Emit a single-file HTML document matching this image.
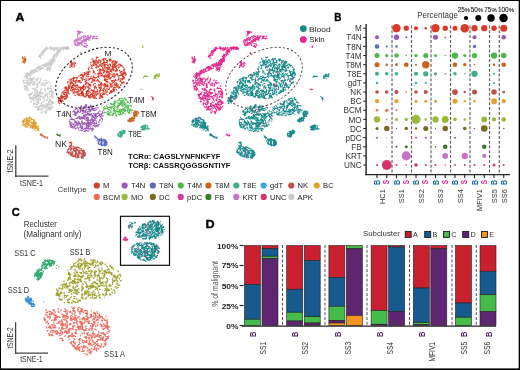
<!DOCTYPE html>
<html><head><meta charset="utf-8"><style>
html,body{margin:0;padding:0;background:#fff;}
svg{display:block;}
body{font-family:'Liberation Sans',sans-serif;width:520px;height:370px;overflow:hidden;}
</style></head><body>
<svg width="520" height="370" viewBox="0 0 520 370" style="will-change:transform;font-family:'Liberation Sans',sans-serif">
<rect width="520" height="370" fill="#fff"/>
<path d="M32.4 78.4h0M31.4 78.2h0M38.5 81.9h0M39.5 82.2h0M24.1 82.9h0M25.0 82.6h0M35.3 89.2h0M36.3 89.5h0M39.7 82.3h0M40.3 81.5h0M27.2 77.9h0M26.4 78.5h0M28.2 85.3h0M27.4 84.7h0M38.9 77.0h0M42.7 82.8h0M42.2 83.7h0M36.1 80.8h0M36.7 80.0h0M30.1 85.2h0M29.4 84.5h0M44.2 80.6h0M44.8 79.9h0M35.1 88.1h0M35.7 88.9h0M24.1 86.7h0M24.4 85.7h0M43.2 85.5h0M42.3 85.1h0M36.7 86.6h0M37.5 87.3h0M46.8 80.6h0M45.9 81.0h0M23.7 83.4h0M24.6 83.7h0M24.7 88.3h0M25.6 88.6h0M34.3 89.9h0M31.1 82.6h0M30.1 82.8h0M28.1 79.7h0M28.2 80.7h0M40.1 80.2h0M41.1 80.1h0M33.7 85.1h0M34.7 85.1h0M37.9 85.9h0M37.0 85.6h0M49.1 88.5h0M50.1 88.2h0M34.4 82.4h0M35.0 83.2h0M29.1 78.6h0M29.3 79.6h0M25.9 81.8h0M26.6 82.6h0M40.8 78.4h0M41.1 79.3h0M33.6 78.0h0M34.6 77.9h0M36.5 83.7h0M37.5 83.6h0M32.9 80.2h0M32.8 79.2h0M38.3 78.3h0M37.5 78.9h0M48.0 87.1h0M48.2 88.1h0M27.8 88.4h0M27.1 87.7h0M32.6 79.6h0M33.5 79.3h0M47.7 88.9h0M48.5 88.2h0M29.6 84.3h0M29.8 85.3h0M23.8 80.5h0M23.4 81.4h0M29.4 79.6h0M30.2 80.3h0M47.4 83.7h0M47.3 82.7h0M25.5 86.6h0M26.5 86.5h0M44.8 83.6h0M44.7 84.6h0M32.6 88.8h0M33.6 88.5h0M26.7 78.4h0M27.7 78.4h0M27.2 89.2h0M28.2 89.4h0M33.2 84.8h0M34.2 84.7h0M51.2 86.4h0M50.6 85.6h0M35.6 89.9h0M35.5 88.9h0M30.3 80.7h0M30.2 81.7h0M30.5 82.7h0M30.5 83.7h0M33.3 83.3h0M32.9 82.4h0M37.5 84.5h0M36.8 85.2h0M35.8 78.9h0M36.6 79.5h0M28.0 83.6h0M27.9 82.6h0M32.5 84.3h0M31.8 83.5h0M26.1 85.0h0M26.5 85.9h0M45.4 84.1h0M44.7 83.4h0M49.5 83.1h0M48.7 82.4h0M37.9 87.1h0M36.9 87.3h0M26.5 83.1h0M27.5 83.1h0M25.1 86.7h0M25.9 86.1h0M27.5 87.5h0M26.5 87.1h0M29.4 91.2h0M27.7 82.9h0M26.7 83.1h0M28.7 81.1h0M27.8 80.6h0M39.1 83.0h0M40.0 82.9h0M41.1 84.2h0M41.4 85.2h0M26.0 80.2h0M26.8 80.9h0M30.8 78.1h0M29.9 77.8h0M27.3 90.7h0M26.6 90.0h0M43.0 82.8h0M43.3 83.8h0M41.4 88.8h0M41.8 89.7h0M24.9 89.8h0M30.8 78.1h0M29.8 78.4h0M26.2 78.6h0M27.1 78.4h0M32.0 80.9h0M31.7 79.9h0M37.5 78.8h0M37.8 79.8h0M30.3 76.2h0M28.5 83.6h0M28.9 82.7h0M46.7 82.9h0M45.9 82.4h0M34.4 84.1h0M34.9 83.2h0M32.9 89.3h0M32.9 88.3h0M34.7 81.6h0M35.7 81.2h0M25.1 87.9h0M25.6 88.7h0M25.5 89.5h0M26.3 89.0h0M31.2 79.9h0M31.0 80.9h0M27.6 83.1h0M26.8 83.7h0M32.0 81.7h0M33.0 81.5h0M36.8 84.0h0M37.1 85.0h0M23.1 80.2h0M24.1 80.6h0M31.8 79.7h0M31.0 79.2h0M44.8 86.5h0M45.2 85.6h0" stroke="#CBCBCB" stroke-width="1.2" stroke-linecap="round"/>
<path d="M38.1 96.5h0M38.9 95.8h0M46.8 104.8h0M47.5 105.6h0M51.2 104.4h0M51.6 103.5h0M31.6 101.7h0M30.8 101.1h0M48.9 109.6h0M48.6 108.6h0M45.8 106.1h0M46.6 106.7h0M31.5 97.4h0M31.8 98.4h0M42.5 104.4h0M42.1 103.5h0M48.7 107.5h0M47.7 107.4h0M45.1 89.7h0M29.9 94.9h0M29.3 94.1h0M40.8 98.0h0M39.9 97.8h0M47.9 104.1h0M47.0 104.0h0M31.8 94.6h0M31.4 93.7h0M29.6 95.0h0M29.4 94.0h0M45.6 95.6h0M44.6 95.6h0M40.1 91.1h0M40.5 90.2h0M39.7 95.0h0M39.2 95.9h0M33.5 103.2h0M34.1 104.0h0M52.8 91.5h0M51.1 106.4h0M50.5 107.2h0M39.7 95.9h0M40.5 96.4h0M49.8 91.1h0M50.8 91.1h0M51.4 95.6h0M50.9 96.4h0M37.4 99.2h0M38.0 100.0h0M34.5 94.9h0M33.6 95.4h0M51.0 109.2h0M51.0 108.2h0M52.5 102.3h0M51.6 101.8h0M47.0 99.8h0M47.3 98.8h0M52.1 91.3h0M51.2 91.8h0M35.7 107.3h0M36.6 106.7h0M45.1 95.9h0M44.1 95.7h0M32.4 92.2h0M31.9 93.1h0M40.9 93.7h0M41.9 94.0h0M39.7 91.6h0M40.6 92.1h0M36.9 90.4h0M37.4 91.3h0M42.8 111.2h0M42.7 110.2h0M38.8 101.7h0M38.3 102.6h0M29.6 95.2h0M30.3 94.5h0M41.1 104.4h0M41.3 103.5h0M35.0 94.5h0M34.3 95.1h0M50.7 88.6h0M51.5 89.1h0M51.3 100.4h0M50.3 100.7h0M49.5 110.3h0M50.3 109.7h0M41.6 105.8h0M42.6 105.8h0M44.8 108.0h0M43.8 108.1h0M44.8 95.9h0M45.7 96.3h0M44.5 106.2h0M45.5 106.2h0M41.6 103.2h0M41.3 104.1h0M35.8 100.0h0M36.8 100.0h0M51.0 100.4h0M51.5 101.3h0M53.0 106.4h0M41.0 105.6h0M40.4 106.4h0M45.4 112.1h0M46.2 112.7h0M36.8 99.0h0M36.0 98.4h0M48.7 107.3h0M47.8 107.8h0M53.2 96.1h0M53.2 95.1h0M40.9 92.9h0M41.2 93.8h0M45.3 112.8h0M46.0 113.4h0M29.6 98.3h0M30.6 98.3h0M52.2 96.6h0M51.9 97.5h0M47.4 88.8h0M37.7 96.7h0M38.7 96.8h0M35.3 97.2h0M35.9 96.4h0M53.1 93.4h0M52.1 93.7h0M49.4 99.3h0M50.3 99.5h0M33.0 97.5h0M33.1 96.5h0M38.7 109.2h0M38.0 108.4h0M51.9 94.7h0M52.6 93.9h0M36.8 95.1h0M37.8 95.1h0M34.8 106.7h0M51.8 104.5h0M52.2 103.6h0M34.1 100.4h0M34.9 100.9h0M38.0 94.6h0M37.1 95.0h0M52.1 92.8h0M52.8 92.0h0M49.4 108.2h0M48.5 107.8h0M36.3 97.4h0M35.8 96.6h0M34.9 90.2h0M35.7 90.8h0M46.5 99.7h0M46.7 100.6h0M44.1 105.6h0M44.7 104.8h0M45.3 91.2h0M45.5 90.2h0M42.7 97.7h0M42.2 96.9h0M34.4 94.4h0M34.3 95.4h0M43.0 96.5h0M42.1 96.3h0M41.2 94.0h0M41.8 93.2h0M40.3 109.4h0M41.3 109.1h0M29.0 95.7h0M30.0 95.9h0M53.3 103.2h0M50.5 99.7h0M50.0 100.6h0M52.6 90.8h0M51.9 90.0h0M33.7 97.6h0M34.6 98.0h0M34.6 103.6h0M33.7 103.2h0M45.6 92.8h0M45.8 93.8h0M48.7 102.3h0M49.6 102.0h0M38.3 102.4h0M37.3 102.2h0M38.7 95.4h0M37.7 95.8h0M36.1 102.8h0M35.6 103.7h0M37.5 93.1h0M36.8 92.4h0M39.0 109.4h0M38.0 109.3h0M40.0 92.2h0M41.0 92.4h0M44.7 111.7h0M45.4 112.4h0M37.6 101.2h0M38.5 101.7h0M41.6 112.2h0M42.3 112.8h0M52.1 98.1h0M53.0 97.7h0M49.4 92.2h0M49.2 91.2h0M38.5 110.1h0M38.4 109.1h0M33.7 98.4h0M32.7 98.5h0M31.2 94.4h0M31.7 93.6h0M47.7 89.0h0M43.6 102.4h0M42.7 101.9h0M38.9 103.2h0M37.9 103.4h0M39.6 99.4h0M40.6 99.8h0M40.7 94.1h0M41.3 93.3h0M39.9 92.7h0M39.3 93.5h0M31.3 99.2h0M32.2 99.7h0M44.5 90.1h0M44.9 89.2h0M41.3 89.4h0M40.3 89.6h0M52.7 91.6h0M47.0 109.3h0M46.5 110.1h0M51.8 92.3h0M52.7 91.8h0M29.7 97.2h0M29.2 96.3h0M51.3 95.2h0M51.1 94.2h0M41.1 112.0h0M41.7 112.8h0M41.2 96.3h0M42.1 96.0h0M45.7 111.4h0M45.7 112.4h0M31.0 101.9h0M50.7 102.5h0M50.3 101.6h0M44.4 98.3h0M44.3 97.3h0M53.8 103.1h0M52.8 103.5h0M39.5 92.6h0M38.7 92.0h0M49.3 94.6h0M49.5 93.6h0M43.2 105.3h0M43.7 106.2h0M44.0 99.3h0M43.3 98.6h0M31.4 93.9h0M30.4 93.8h0M30.8 97.3h0M30.8 98.3h0M43.3 93.3h0M42.6 92.7h0M34.3 91.9h0M35.0 92.6h0M50.7 108.4h0M50.1 109.3h0M42.6 97.1h0M41.9 96.4h0M52.4 107.1h0M51.7 107.9h0M38.6 94.2h0M39.2 95.0h0M52.5 91.7h0M52.6 92.7h0M41.2 104.7h0M41.0 103.8h0M36.0 95.8h0M36.6 96.7h0M48.4 106.7h0M49.1 107.3h0M47.4 100.1h0M47.2 99.2h0M36.7 107.6h0M37.0 106.6h0M46.5 94.9h0M45.5 94.7h0M48.5 101.7h0M48.2 102.6h0M53.1 93.7h0M53.0 92.7h0M34.8 94.2h0M35.5 93.4h0M47.4 96.5h0M47.9 95.7h0M44.4 106.1h0M44.7 105.1h0M40.2 109.9h0M40.5 109.0h0M39.4 106.9h0M38.4 106.8h0M33.5 104.3h0M33.8 105.2h0M37.0 91.7h0M37.8 91.1h0M46.0 104.5h0M46.1 103.5h0M37.4 109.3h0M38.4 108.9h0M30.8 93.4h0M31.8 93.2h0M50.0 109.2h0M49.9 108.2h0M44.4 95.5h0M45.4 95.4h0M47.7 93.4h0M47.4 94.3h0M28.5 94.7h0M37.6 96.4h0M38.5 96.2h0M50.1 104.1h0M51.1 104.2h0M39.3 108.2h0M38.5 108.7h0M42.0 93.7h0M42.0 92.7h0M49.3 92.4h0M50.2 91.9h0M40.8 108.8h0M41.2 109.7h0M37.0 109.7h0M35.4 93.6h0M35.1 92.7h0M46.1 108.5h0M45.3 108.0h0M38.4 98.3h0M38.6 97.3h0M51.1 88.7h0M51.7 89.4h0M51.4 101.1h0M50.4 101.1h0M34.1 100.0h0M33.3 99.4h0M47.6 104.9h0M47.3 105.8h0M45.2 107.4h0M45.8 108.2h0M48.1 103.1h0M48.9 103.8h0M51.0 94.2h0M51.7 95.0h0M46.3 110.0h0M47.2 110.4h0M34.4 96.5h0M33.5 97.0h0M36.5 92.9h0M37.5 93.2h0M30.6 98.0h0M31.6 98.4h0M47.1 99.4h0M47.2 100.3h0M30.8 93.4h0M30.7 94.4h0M38.4 108.6h0M38.0 107.7h0M44.4 100.1h0M44.9 101.0h0M38.5 107.3h0M39.3 106.7h0M42.9 107.6h0M42.4 108.4h0M46.8 111.0h0M47.3 110.1h0M50.2 105.7h0M49.5 105.0h0M36.1 104.4h0M37.0 104.9h0M48.3 106.6h0M47.4 106.3h0M39.0 99.9h0M38.2 99.3h0M45.6 112.3h0M45.7 113.3h0M48.2 98.1h0M47.5 97.4h0M52.5 101.6h0M53.2 102.2h0M42.1 106.7h0M41.1 106.4h0M49.6 101.6h0M48.6 101.4h0M38.2 107.9h0M38.1 108.9h0M35.1 98.4h0M36.1 98.4h0M38.9 106.2h0M38.7 107.2h0M52.4 101.8h0M52.1 102.7h0M38.2 93.5h0M38.4 94.5h0M49.0 104.6h0M48.1 104.6h0M37.2 104.7h0M38.0 104.1h0M40.2 95.7h0M39.2 96.0h0M49.7 97.3h0M49.9 96.3h0M37.8 94.6h0M37.3 95.5h0M35.3 94.4h0M35.0 95.4h0" stroke="#CBCBCB" stroke-width="1.2" stroke-linecap="round"/>
<path d="M84.3 41.8h0M83.6 41.1h0M75.1 45.0h0M76.1 44.9h0M77.2 45.0h0M76.2 45.1h0M79.5 44.1h0M79.5 45.1h0M78.6 42.7h0M77.8 42.1h0M84.5 45.9h0M83.5 46.0h0M79.5 33.4h0M78.8 34.1h0M85.8 39.4h0M85.2 38.6h0M85.3 40.5h0M85.3 39.5h0M83.0 38.1h0M83.5 37.2h0M74.4 41.3h0M74.8 40.4h0M86.3 39.2h0M86.4 38.2h0M82.1 45.6h0M86.7 44.0h0M87.0 45.0h0M84.1 40.4h0M84.2 39.4h0M94.1 37.8h0M93.2 38.2h0M86.2 47.5h0M86.1 46.5h0M81.9 36.4h0M81.4 37.3h0M74.7 43.2h0M75.5 42.6h0M90.2 38.7h0M89.6 37.9h0M78.2 31.6h0M79.0 31.0h0M89.9 37.2h0M90.7 36.7h0M81.2 38.1h0M80.9 39.1h0M75.0 40.6h0M76.0 40.2h0M96.4 38.5h0M97.4 38.4h0M77.4 31.3h0M78.4 31.6h0M75.9 45.7h0M76.9 45.6h0M74.9 44.1h0M75.3 43.2h0M85.1 46.8h0M74.1 42.0h0M81.4 43.3h0M81.3 44.3h0M82.8 40.7h0M81.8 40.8h0M77.3 44.5h0M76.5 45.0h0M89.3 38.1h0M88.3 38.3h0M87.7 35.9h0M88.0 36.9h0M81.9 41.2h0M82.8 41.7h0M88.5 36.2h0M87.6 36.0h0M83.0 42.6h0M82.8 41.6h0M93.6 35.8h0M84.1 40.9h0M85.0 40.5h0M87.8 35.6h0M82.3 32.4h0M81.6 31.7h0M78.7 43.7h0M79.3 42.9h0M80.0 43.7h0M80.2 42.7h0M75.9 44.6h0M75.5 43.7h0M85.5 41.0h0M86.3 41.6h0M78.2 42.8h0M77.4 43.5h0M83.6 39.7h0M84.6 39.9h0M76.3 41.7h0M75.9 40.8h0M88.5 36.8h0M87.7 37.5h0M92.9 38.2h0M93.9 38.3h0M80.0 31.6h0M80.7 32.3h0M87.5 45.7h0M86.6 45.2h0M88.5 37.7h0M88.5 38.7h0M80.1 40.5h0M80.2 39.5h0M90.2 37.6h0M89.7 38.4h0M79.2 31.7h0M79.4 32.6h0M90.4 36.0h0M80.0 33.1h0M79.3 33.8h0M79.6 33.4h0M78.6 33.2h0M77.2 38.6h0M77.3 39.5h0M84.9 36.7h0M85.3 35.8h0M79.2 32.0h0M77.3 45.7h0M77.5 35.6h0M77.8 34.6h0M77.8 39.3h0M76.9 39.7h0M85.5 35.8h0M86.0 36.7h0M91.6 36.0h0M93.6 36.8h0M94.6 36.7h0M78.3 38.4h0M78.8 37.5h0M78.1 44.0h0M77.4 43.3h0M88.7 39.4h0M89.1 40.3h0M78.7 32.1h0M78.4 31.1h0M93.7 36.7h0M94.7 36.3h0M96.2 39.1h0M96.5 38.1h0M78.3 45.1h0M82.9 41.1h0M83.9 41.1h0M84.7 39.7h0M85.1 40.6h0M81.6 43.0h0M80.7 43.3h0M86.4 40.0h0M85.6 40.6h0M78.2 32.7h0M77.7 33.6h0M74.1 41.1h0M85.9 39.5h0M86.4 40.3h0M77.3 40.7h0M76.8 39.9h0M83.3 38.1h0M83.9 37.3h0M92.9 36.7h0M93.2 37.7h0M75.0 39.7h0M75.9 40.2h0M79.9 38.1h0M79.0 37.6h0M84.4 39.5h0M85.3 39.0h0M90.5 35.6h0M86.6 38.3h0M87.3 37.7h0M81.2 41.9h0M81.8 42.7h0M80.3 38.9h0M79.4 39.3h0M81.0 37.9h0M81.2 38.8h0M75.9 40.2h0M76.6 39.5h0M78.7 43.0h0M77.7 43.2h0M88.8 38.9h0M88.9 39.9h0M79.2 39.7h0M78.3 40.2h0M87.4 39.3h0M86.6 39.8h0M81.0 44.0h0M82.0 44.3h0M95.2 38.4h0M96.2 38.6h0M84.6 43.4h0M85.5 43.6h0M77.5 36.7h0M92.5 39.0h0M93.0 38.2h0M86.0 47.3h0M85.0 47.0h0M88.7 37.4h0M87.8 37.8h0M91.6 36.0h0M90.7 36.5h0M83.2 36.4h0M84.0 35.8h0M86.0 38.5h0M86.7 39.2h0M77.3 40.7h0M76.3 41.0h0M96.4 36.5h0M97.4 36.1h0M84.2 46.4h0M85.0 45.7h0M87.7 39.4h0M88.7 39.4h0M86.5 39.7h0M85.9 38.9h0M82.5 41.1h0M81.5 41.2h0" stroke="#C772C4" stroke-width="1.2" stroke-linecap="round"/>
<path d="M66.5 48.1h0M67.5 48.5h0M65.3 48.2h0M64.9 47.3h0M67.8 48.0h0M66.9 48.1h0M68.0 47.5h0M67.3 46.8h0" stroke="#C772C4" stroke-width="1.2" stroke-linecap="round"/>
<path d="M80.3 53.0h0M81.2 53.4h0M80.8 52.3h0" stroke="#C772C4" stroke-width="1.2" stroke-linecap="round"/>
<path d="M26.0 59.1h0M24.3 59.7h0M25.1 60.3h0M24.8 60.4h0M23.8 60.4h0M24.9 56.3h0M23.4 61.0h0M24.3 60.7h0M25.8 60.3h0M24.9 59.8h0M24.2 60.0h0M23.9 61.0h0M24.6 59.0h0M25.6 59.1h0M22.5 57.2h0M24.8 61.9h0M25.6 61.4h0M25.5 58.4h0M25.0 57.5h0M22.8 57.9h0M23.0 58.9h0M24.6 58.5h0M23.8 59.0h0M24.6 63.0h0M23.4 62.6h0M23.5 61.6h0M24.7 63.0h0M24.0 62.3h0M23.1 58.8h0M22.4 58.1h0M23.4 62.4h0M22.5 62.0h0M23.1 57.3h0M23.0 58.3h0" stroke="#CA6320" stroke-width="1.2" stroke-linecap="round"/>
<path d="M124.7 68.8h0M123.8 69.1h0M98.8 72.8h0M98.6 73.8h0M74.5 91.3h0M74.3 92.3h0M106.5 70.9h0M106.7 71.9h0M116.6 61.9h0M115.7 61.6h0M114.9 63.2h0M114.0 63.7h0M89.5 96.9h0M89.0 97.8h0M97.1 66.1h0M96.5 66.9h0M109.0 67.5h0M109.9 67.0h0M89.0 66.9h0M97.6 79.4h0M97.0 80.2h0M90.0 84.2h0M89.8 85.2h0M117.6 70.0h0M116.6 69.7h0M100.5 71.8h0M99.5 72.1h0M109.6 68.4h0M108.6 68.3h0M107.4 84.5h0M107.0 85.4h0M106.2 86.0h0M105.6 86.8h0M88.0 83.0h0M88.9 83.5h0M85.6 83.4h0M85.4 84.4h0M101.0 86.7h0M101.0 87.7h0M107.7 71.2h0M108.5 71.8h0M113.2 68.6h0M113.8 69.4h0M103.2 58.5h0M103.8 59.2h0M114.1 65.4h0M115.0 65.3h0M72.3 85.8h0M71.3 86.0h0M116.3 68.4h0M116.5 69.3h0M92.3 95.8h0M92.4 94.8h0M116.3 83.0h0M115.9 83.9h0M108.5 74.6h0M107.9 73.8h0M74.8 88.7h0M75.6 89.2h0M114.9 67.5h0M114.5 66.6h0M104.9 79.5h0M105.7 80.2h0M88.4 73.9h0M89.0 74.7h0M75.3 86.3h0M74.5 85.8h0M81.5 78.2h0M80.6 77.8h0M100.5 70.6h0M101.0 69.7h0M112.2 63.6h0M111.9 62.7h0M94.5 88.8h0M94.3 87.8h0M108.7 75.4h0M109.7 75.8h0M72.2 86.8h0M73.2 86.8h0M73.6 77.1h0M73.1 78.0h0M121.6 83.7h0M121.7 82.7h0M105.8 67.1h0M106.5 67.9h0M116.9 69.0h0M117.1 70.0h0M77.2 89.6h0M78.0 89.0h0M116.1 70.0h0M115.3 70.7h0M89.1 91.6h0M89.8 92.2h0M100.8 83.0h0M101.5 82.3h0M84.9 81.0h0M85.6 81.8h0M78.5 87.0h0M79.3 87.6h0M92.4 68.5h0M91.4 68.5h0M87.2 75.0h0M87.3 74.0h0M84.7 75.2h0M83.7 75.1h0M86.4 75.9h0M87.2 76.5h0M124.1 82.7h0M123.7 81.7h0M107.2 82.2h0M106.8 83.1h0M123.6 76.8h0M122.8 76.3h0M87.5 93.9h0M88.5 93.5h0M107.4 75.4h0M108.1 76.1h0M98.6 80.3h0M98.4 81.3h0M77.9 94.1h0M77.0 94.4h0M118.2 67.2h0M119.0 67.8h0M82.1 77.1h0M81.1 77.3h0M101.1 61.3h0M100.1 61.0h0M118.3 79.7h0M118.6 78.8h0M109.9 60.8h0M110.2 59.9h0M100.5 89.2h0M100.7 90.2h0M102.4 65.5h0M101.7 66.3h0M92.4 94.0h0M92.3 93.0h0M100.5 95.2h0M100.7 94.2h0M111.3 70.9h0M111.7 70.0h0M116.1 61.7h0M115.1 62.0h0M69.8 82.0h0M70.5 82.6h0M114.7 61.3h0M115.7 61.1h0M93.6 91.9h0M92.7 92.1h0M114.6 64.3h0M113.6 64.4h0M107.9 72.6h0M107.9 73.6h0M99.1 85.6h0M100.0 85.2h0M76.1 77.7h0M77.1 77.4h0M115.6 85.2h0M114.9 85.8h0M76.6 92.2h0M75.6 92.2h0M103.4 59.7h0M103.4 60.7h0M120.1 81.4h0M121.1 81.1h0M88.6 76.2h0M88.0 77.1h0M94.4 98.1h0M95.3 97.8h0M106.9 68.0h0M106.8 69.0h0M82.7 80.5h0M82.2 79.7h0M100.4 89.0h0M101.3 88.7h0M104.7 83.3h0M104.4 84.2h0M85.2 88.7h0M85.1 87.7h0M104.8 71.3h0M103.8 71.1h0M118.8 75.6h0M117.8 75.8h0M85.5 87.2h0M85.0 86.3h0M87.4 95.4h0M86.4 95.6h0M77.8 81.0h0M78.7 80.7h0M113.0 74.6h0M113.0 73.6h0M95.9 94.4h0M96.2 95.4h0M83.1 86.2h0M83.4 87.2h0M79.1 81.9h0M79.9 81.4h0M78.8 87.5h0M79.8 87.4h0M71.9 90.7h0M72.4 89.8h0M99.0 93.4h0M99.1 92.4h0M111.6 83.9h0M110.6 84.2h0M104.3 70.6h0M103.3 70.5h0M82.4 76.1h0M83.1 76.8h0M100.6 98.2h0M110.1 70.4h0M111.1 70.4h0M75.6 88.9h0M76.1 89.8h0M92.3 79.2h0M91.4 78.6h0M102.8 70.5h0M102.3 69.6h0M109.3 88.7h0M109.1 87.7h0M106.0 89.2h0M105.0 89.2h0M80.7 88.4h0M81.7 88.1h0M122.8 71.9h0M123.8 72.3h0M113.3 66.7h0M114.3 66.6h0M104.9 71.0h0M105.1 70.1h0M86.4 94.6h0M86.8 95.5h0M71.1 83.7h0M70.1 83.7h0M70.8 80.3h0M69.8 80.1h0M123.1 83.0h0M82.7 74.8h0M83.3 75.6h0M112.1 83.6h0M111.2 84.0h0M80.0 80.5h0M80.0 81.5h0M118.7 67.8h0M119.2 66.9h0M95.9 94.1h0M96.2 95.1h0M102.6 75.6h0M102.2 74.7h0M79.6 93.8h0M78.7 94.2h0M118.3 64.2h0M119.3 64.2h0M76.1 87.6h0M77.1 87.6h0M107.6 60.3h0M106.7 60.6h0M109.6 93.7h0M110.2 92.9h0M81.1 89.9h0M80.2 89.6h0M97.1 66.3h0M96.7 67.2h0M85.9 93.6h0M86.7 94.2h0M77.8 85.4h0M78.0 86.4h0M96.8 61.2h0M96.2 62.0h0M121.6 71.2h0M121.0 72.1h0M119.5 87.4h0M105.9 79.5h0M105.1 78.9h0M109.7 73.3h0M109.4 74.3h0M124.8 72.8h0M124.2 73.6h0M67.5 82.2h0M68.1 81.4h0M103.4 72.4h0M103.9 73.2h0M74.1 92.1h0M74.9 91.5h0M70.1 85.8h0M69.5 86.5h0M99.7 69.8h0M100.2 68.9h0M111.4 92.5h0M110.4 92.3h0M104.5 87.9h0M103.5 88.2h0M90.5 78.7h0M89.8 78.0h0M104.4 79.4h0M104.4 80.4h0M82.9 94.8h0M81.9 94.6h0M98.1 76.6h0M98.8 77.3h0M122.1 78.8h0M121.1 78.6h0M115.4 66.6h0M115.3 67.6h0M94.4 83.5h0M95.4 83.5h0M88.3 90.4h0M87.3 90.3h0M93.8 76.7h0M93.3 75.8h0M107.5 72.0h0M106.5 72.3h0M89.1 70.9h0M89.2 71.9h0M79.1 80.6h0M80.1 80.4h0M109.7 68.1h0M109.7 69.1h0M104.9 92.7h0M105.3 93.6h0M114.1 82.6h0M114.2 83.6h0M93.4 72.0h0M93.3 73.0h0M105.6 90.7h0M105.1 91.6h0M101.5 95.5h0M101.0 96.4h0M109.3 72.2h0M108.6 71.5h0M71.4 88.4h0M70.6 89.1h0M96.6 94.5h0M95.9 93.8h0M102.3 76.0h0M101.4 75.7h0M91.8 76.5h0M90.8 76.9h0M97.5 91.3h0M97.4 90.3h0M107.4 79.9h0M108.0 79.1h0M71.8 91.0h0M72.8 90.9h0M111.8 80.3h0M112.6 80.9h0M109.3 76.9h0M110.1 77.5h0M91.9 81.1h0M92.8 80.7h0M82.3 92.7h0M81.4 92.4h0M92.1 58.7h0M70.3 79.2h0M69.6 79.9h0M114.6 65.0h0M115.6 64.6h0M98.8 73.8h0M97.8 73.7h0M83.4 90.1h0M82.8 90.9h0M114.7 81.5h0M113.8 81.0h0M93.5 93.6h0M94.5 93.8h0M105.0 58.6h0M102.5 64.1h0M103.4 63.7h0M114.6 77.5h0M114.4 76.5h0M116.8 62.7h0M117.3 61.8h0M120.8 85.4h0M116.7 68.9h0M116.7 69.9h0M86.1 80.2h0M85.9 81.1h0M86.4 92.0h0M86.5 93.0h0M125.2 73.0h0M105.1 65.9h0M104.2 66.4h0M107.4 61.3h0M107.2 60.3h0M122.8 78.7h0M122.8 79.7h0M111.6 77.5h0M112.0 76.5h0M95.9 93.0h0M95.1 92.3h0M83.3 94.2h0M83.4 93.2h0M102.6 97.3h0M101.7 97.5h0M106.1 58.6h0M105.6 59.5h0M81.8 87.8h0M81.8 88.8h0M100.3 60.5h0M99.6 59.8h0M102.5 76.0h0M103.4 76.2h0M73.0 83.8h0M73.5 84.6h0M88.1 72.3h0M87.2 71.9h0M86.8 92.0h0M87.5 91.3h0M94.9 63.4h0M93.9 63.2h0M91.1 65.1h0M92.0 65.4h0M118.8 77.7h0M118.8 76.7h0M123.0 77.1h0M123.4 76.2h0M108.0 66.2h0M107.4 65.4h0M101.4 66.4h0M101.0 65.5h0M109.3 59.1h0M109.1 60.1h0M103.8 85.7h0M103.9 84.7h0M115.2 76.0h0M115.4 75.0h0M122.9 73.9h0M122.6 74.9h0M81.7 87.5h0M80.8 87.0h0M95.6 77.5h0M96.6 77.4h0M104.9 64.9h0M104.7 63.9h0M113.8 60.4h0M107.0 88.0h0M107.2 89.0h0M111.3 91.6h0M111.8 90.7h0M93.0 91.3h0M93.7 90.7h0M84.9 97.1h0M84.4 96.2h0M113.8 67.1h0M113.9 66.1h0M78.9 75.8h0M79.0 76.8h0M121.0 85.4h0M120.5 84.5h0M113.6 90.0h0M114.0 89.1h0M116.1 73.6h0M116.8 74.4h0M116.7 70.8h0M116.3 69.9h0M96.2 57.2h0M96.5 58.1h0M88.1 92.1h0M87.2 91.8h0M108.7 75.2h0M108.7 74.2h0M74.3 85.3h0M75.0 86.1h0M123.9 71.8h0M123.4 72.7h0M103.3 94.2h0M102.5 94.8h0M123.8 77.9h0M124.6 77.3h0M116.4 63.3h0M115.6 64.0h0M94.1 90.7h0M94.4 91.6h0M73.2 79.8h0M73.8 79.1h0M89.5 95.7h0M90.4 95.3h0M71.7 82.8h0M70.8 82.4h0M88.6 84.4h0M87.8 83.8h0M98.1 85.1h0M98.9 84.5h0M88.7 97.7h0M107.7 80.0h0M106.7 79.9h0M120.0 87.3h0M119.2 86.6h0M75.8 81.3h0M74.8 81.6h0M90.4 88.0h0M89.8 88.8h0M84.4 79.5h0M83.5 79.1h0M105.6 90.5h0M105.0 89.7h0M108.1 68.2h0M108.5 69.1h0M116.1 90.0h0M97.7 93.5h0M97.9 94.5h0M89.9 97.3h0M90.6 96.6h0M85.5 96.3h0M86.1 97.1h0M93.1 61.1h0M93.3 62.1h0M90.0 97.2h0M90.4 98.1h0M121.0 75.5h0M121.7 74.8h0M113.3 69.8h0M113.4 70.8h0M95.0 80.1h0M94.7 79.2h0M88.7 95.2h0M87.7 95.4h0M104.5 67.5h0M103.9 66.7h0M116.1 80.4h0M115.1 80.5h0M71.3 79.6h0M71.7 78.7h0M91.6 90.6h0M92.6 90.9h0M104.7 85.7h0M104.7 84.7h0M87.4 73.1h0M87.5 72.1h0M78.2 93.3h0M77.2 93.0h0M106.8 94.5h0M107.7 95.1h0M96.9 92.5h0M96.6 91.5h0M116.8 62.9h0M116.8 61.9h0M96.8 94.4h0M97.8 94.2h0M115.8 83.9h0M115.9 82.9h0M108.9 86.2h0M107.9 85.9h0M71.2 82.0h0M71.2 81.0h0M72.8 85.0h0M73.7 85.4h0M88.5 86.0h0M89.0 86.9h0M104.5 62.4h0M105.0 63.2h0M93.6 79.9h0M94.3 80.7h0M104.5 70.9h0M103.9 71.7h0M80.1 90.0h0M79.8 90.9h0M115.1 79.2h0M115.8 79.8h0M92.3 59.2h0M101.8 73.4h0M100.9 73.2h0M80.6 93.1h0M81.5 93.6h0M124.1 70.4h0M124.8 69.6h0M95.5 62.1h0M94.5 62.1h0M109.1 75.7h0M109.1 76.7h0M110.8 78.3h0M110.2 79.1h0M108.9 64.8h0M108.7 65.8h0M109.8 59.1h0M110.7 59.6h0M118.3 87.0h0M117.4 86.6h0M94.1 60.8h0M95.1 60.9h0M113.2 76.4h0M114.0 77.0h0M114.2 76.6h0M114.0 75.6h0M73.6 80.3h0M72.8 80.7h0M79.9 81.2h0M79.9 82.2h0M116.4 89.7h0M119.8 79.0h0M120.8 79.2h0M104.2 93.9h0M103.2 93.7h0M120.8 72.6h0M121.5 73.4h0M94.2 81.2h0M93.8 80.3h0M71.2 87.1h0M72.2 87.4h0M90.9 84.9h0M90.7 85.9h0M108.2 76.4h0M108.1 77.4h0M102.7 59.1h0M101.9 59.8h0M113.9 91.3h0M113.6 90.3h0M81.4 95.8h0M122.3 83.5h0M122.9 82.6h0M112.0 60.9h0M113.0 61.1h0M78.3 90.6h0M78.8 91.4h0M73.5 89.7h0M74.5 89.8h0M100.1 91.2h0M99.1 90.9h0M102.4 90.2h0M103.3 89.9h0M99.5 68.8h0M99.5 69.8h0M94.3 61.7h0M93.4 61.3h0M92.6 61.2h0M93.6 61.1h0M110.4 92.4h0M110.3 91.4h0M89.0 69.3h0M88.4 68.4h0M103.1 97.8h0M102.4 97.1h0M108.2 81.8h0M107.2 81.7h0M91.3 82.3h0M92.3 82.2h0M116.8 86.7h0M117.6 87.2h0M117.5 74.7h0M117.7 73.7h0M123.0 75.1h0M122.4 74.4h0M93.4 97.9h0M93.6 96.9h0M112.3 91.8h0M80.9 93.9h0M81.6 93.2h0M112.8 89.2h0M113.8 89.0h0M98.7 60.9h0M98.8 59.9h0M104.3 72.0h0M103.8 71.1h0M76.7 78.9h0M76.2 78.1h0M122.7 73.7h0M123.7 73.5h0M82.6 86.7h0M83.4 86.1h0M93.1 85.5h0M93.5 84.6h0M68.8 85.7h0M69.5 86.4h0M102.2 84.2h0M101.6 83.4h0M73.9 77.3h0M74.9 77.5h0M83.4 89.0h0M84.3 89.4h0M85.1 73.8h0M84.7 72.9h0M110.3 60.5h0M111.1 59.9h0M116.3 66.0h0M117.2 65.7h0M106.9 68.2h0M107.8 67.7h0M106.2 81.3h0M105.3 80.8h0M125.4 72.7h0M124.9 71.8h0M88.7 87.0h0M88.9 88.0h0M98.2 61.2h0M97.7 62.1h0M84.1 72.6h0M89.9 71.9h0M89.1 71.4h0M70.2 84.5h0M70.3 83.5h0M109.3 60.5h0M110.1 61.1h0M93.3 61.5h0M94.2 61.7h0M95.0 96.0h0M94.1 96.4h0M80.4 87.9h0M79.9 87.0h0M98.3 66.6h0M98.1 67.6h0M82.9 95.5h0M81.9 95.3h0M106.4 71.7h0M106.4 72.7h0M95.7 64.1h0M96.7 64.4h0M97.7 57.5h0M96.7 57.3h0M99.0 66.4h0M98.0 66.2h0M105.7 62.6h0M106.7 62.2h0M111.0 92.7h0M110.0 92.8h0M102.6 94.5h0M103.6 94.6h0M111.5 81.1h0M112.4 80.6h0M95.4 78.1h0M94.8 77.4h0M104.0 65.6h0M104.0 64.6h0M86.2 73.7h0M85.5 74.3h0M76.8 91.4h0M77.8 91.6h0M82.5 75.7h0M81.7 75.0h0M98.1 81.0h0M98.2 80.0h0M101.9 75.6h0M100.9 75.5h0M106.4 92.8h0M107.1 92.2h0M123.0 73.7h0M123.4 74.6h0M92.1 78.8h0M92.7 78.0h0M97.6 61.4h0M97.3 62.4h0M101.9 90.3h0M102.9 90.5h0M120.3 80.6h0M120.4 81.6h0M88.9 78.6h0M89.5 79.4h0M104.2 76.4h0M104.2 75.4h0M107.3 86.4h0M106.4 86.1h0M81.0 74.7h0M81.7 74.0h0M91.4 97.1h0M91.9 96.2h0M110.7 71.7h0M110.7 70.7h0M101.7 96.3h0M100.7 96.0h0M108.9 75.0h0M109.4 75.8h0M68.2 85.0h0M69.0 85.7h0M116.7 83.6h0M116.3 82.7h0M112.6 69.2h0M112.0 70.0h0M102.8 92.4h0M103.6 91.8h0M98.9 87.1h0M99.5 87.9h0M98.1 70.0h0M97.3 70.5h0M72.6 82.8h0M71.9 82.1h0M114.1 87.3h0M113.5 88.1h0M78.4 95.7h0M76.3 85.7h0M75.4 86.1h0M80.8 90.1h0M80.4 89.2h0M101.9 64.6h0M102.2 63.6h0M114.0 66.3h0M114.7 67.0h0M100.6 62.3h0M100.9 63.3h0M73.6 83.3h0M74.1 84.1h0M92.3 79.0h0M93.1 79.6h0M105.1 85.7h0M104.9 84.7h0M106.4 67.5h0M107.3 68.0h0M112.9 91.4h0M113.4 90.6h0M114.2 69.6h0M113.5 70.3h0M70.5 82.2h0M71.5 82.0h0M97.6 62.9h0M98.6 63.1h0M109.6 78.8h0M109.1 78.0h0M95.8 67.2h0M96.3 68.0h0M95.4 86.6h0M95.3 85.6h0M93.7 95.6h0M94.6 95.4h0M104.9 68.3h0M105.4 69.1h0M71.3 88.2h0M71.3 87.2h0M112.7 62.2h0M113.7 62.1h0M76.9 78.9h0M76.8 77.9h0M77.5 88.8h0M76.8 89.5h0M82.6 87.8h0M83.6 87.8h0M95.2 96.9h0M94.2 96.6h0M94.7 86.7h0M95.7 87.0h0M115.4 70.8h0M115.8 71.7h0M95.0 98.3h0M111.3 70.9h0M111.8 71.8h0M112.4 82.1h0M113.4 82.3h0M86.6 92.3h0M86.6 91.3h0M88.9 72.3h0M88.4 73.2h0M121.0 73.8h0M121.0 72.8h0M111.9 66.8h0M112.9 66.9h0M111.9 90.8h0M111.6 91.8h0M89.7 91.9h0M90.3 92.7h0M87.1 91.1h0M86.2 91.5h0M111.3 85.1h0M110.3 84.9h0M118.7 79.6h0M117.9 80.2h0M113.5 89.5h0M113.8 88.5h0M71.2 87.8h0M71.6 88.7h0M91.0 90.4h0M91.8 89.8h0M104.6 94.3h0M103.8 93.7h0M110.6 69.6h0M111.4 69.0h0M73.5 81.3h0M74.0 80.4h0M95.9 74.1h0M95.0 73.6h0M88.7 71.8h0M89.6 71.9h0M74.6 95.1h0M75.5 95.5h0M72.7 78.6h0M73.5 78.0h0M111.3 90.3h0M110.8 91.2h0M126.0 74.8h0M125.0 75.2h0M110.5 64.4h0M109.6 64.1h0M106.8 62.5h0M107.6 63.1h0M100.4 90.1h0M100.1 91.0h0M99.8 88.6h0M100.3 87.7h0M121.9 65.3h0M123.7 78.1h0M124.7 77.7h0M75.7 83.1h0M75.9 82.2h0M102.8 67.4h0M102.8 68.4h0M97.6 76.3h0M98.5 76.0h0M87.3 86.8h0M86.9 85.9h0M82.3 78.3h0M82.6 79.3h0M120.7 65.0h0M120.1 64.2h0M111.6 86.6h0M110.9 85.8h0M93.4 60.1h0M94.0 61.0h0M107.3 62.5h0M106.3 62.5h0M112.6 66.8h0M113.4 67.4h0M85.9 77.8h0M86.3 78.7h0M93.2 97.6h0M92.5 96.9h0M95.1 64.9h0M96.1 65.2h0M71.5 86.1h0M72.5 85.7h0M88.2 74.4h0M87.3 75.0h0M90.4 62.9h0M91.2 62.3h0M110.3 71.5h0M110.3 70.5h0M100.0 84.5h0M100.7 83.7h0M102.1 85.1h0M101.2 85.3h0M99.7 73.5h0M100.6 73.9h0M120.2 71.3h0M119.6 70.4h0M105.0 76.6h0M104.7 77.6h0M103.3 89.7h0M103.4 90.7h0M90.2 71.8h0M89.2 72.0h0M86.9 91.2h0M87.1 92.1h0M70.7 90.5h0M71.6 90.9h0M110.6 86.9h0M111.6 87.1h0M99.8 95.4h0M100.1 96.4h0M92.9 64.6h0M93.5 63.8h0M118.9 88.3h0M118.8 87.3h0M109.1 83.1h0M110.1 83.2h0M77.9 82.2h0M78.3 81.3h0M110.8 59.0h0M114.0 80.8h0M113.1 80.4h0M102.8 70.7h0M101.8 70.6h0M100.4 62.5h0M101.0 63.3h0M114.7 89.7h0M114.0 90.4h0M114.4 74.0h0M114.1 73.0h0M110.3 73.8h0M111.2 74.3h0M122.2 82.5h0M122.0 83.4h0M83.1 94.6h0M83.8 93.9h0M107.9 69.9h0M107.6 69.0h0M103.4 63.2h0M104.0 62.4h0M83.5 95.4h0M83.8 96.4h0M112.0 62.8h0M112.2 61.8h0M120.9 81.3h0M120.0 80.9h0M72.4 89.3h0M73.3 89.5h0M73.9 93.3h0M72.9 93.2h0M82.4 87.3h0M81.4 87.1h0M96.4 87.0h0M96.4 88.0h0M126.3 74.5h0M125.7 73.7h0M112.1 75.8h0M112.6 74.9h0M123.4 76.5h0M123.8 77.4h0M75.8 85.2h0M76.1 86.1h0M99.2 87.7h0M99.7 88.6h0M89.5 67.0h0M95.5 60.2h0M96.5 59.9h0M95.0 86.8h0M94.0 87.0h0M115.4 61.6h0M115.8 62.5h0M122.3 76.5h0M122.0 75.5h0M121.2 65.8h0M122.2 65.5h0M104.5 79.0h0M105.1 78.1h0M114.9 85.3h0M114.4 84.4h0M94.6 91.2h0M95.5 91.7h0M76.7 85.4h0M75.7 85.2h0M89.0 79.9h0M88.0 79.9h0M119.7 72.0h0M120.5 72.6h0M75.5 81.1h0M76.4 80.7h0M99.6 69.7h0M100.5 69.4h0M104.5 80.3h0M105.5 80.3h0M88.6 96.6h0M88.0 95.8h0M118.3 84.8h0M117.5 85.4h0M99.9 65.2h0M99.1 65.8h0M116.7 84.7h0M117.1 83.8h0M124.6 69.7h0M123.7 70.1h0M91.8 94.6h0M91.4 93.7h0M77.8 91.6h0M78.0 92.6h0M83.0 93.7h0M82.1 93.9h0M124.4 73.6h0M123.5 73.1h0M73.7 88.0h0M74.2 88.9h0M88.8 84.4h0M89.4 85.2h0M104.1 84.1h0M104.2 85.1h0M99.8 71.6h0M100.3 70.8h0M76.0 81.3h0M75.8 80.4h0M97.0 80.7h0M96.1 81.2h0M92.2 66.5h0M91.7 67.4h0M112.5 65.9h0M112.6 64.9h0M94.0 77.7h0M93.0 77.7h0M105.6 74.4h0M105.2 75.3h0M122.6 66.8h0M123.5 67.4h0M86.4 94.9h0M86.0 94.0h0M74.4 92.3h0M73.5 92.0h0M104.2 59.0h0M103.2 59.2h0M73.3 87.8h0M73.1 86.9h0M77.2 84.8h0M76.2 84.9h0M90.8 64.9h0M91.4 65.6h0M83.0 84.8h0M83.3 85.7h0M108.0 74.7h0M108.9 74.9h0M99.3 98.3h0M99.7 97.4h0M106.9 77.4h0M106.8 76.4h0M95.2 62.5h0M94.5 63.2h0M107.8 85.9h0M107.6 85.0h0M69.9 86.7h0M69.5 85.8h0M101.7 87.0h0M100.9 87.6h0M125.1 75.0h0M125.9 74.3h0M110.2 93.0h0M109.2 92.8h0M118.8 86.8h0M119.7 87.2h0M86.0 94.9h0M86.8 94.2h0M102.0 97.4h0M102.2 96.4h0M100.7 64.8h0M99.7 64.7h0M87.2 72.3h0M86.2 72.0h0M106.5 64.3h0M105.5 64.5h0M112.8 86.2h0M113.0 85.2h0M81.9 95.6h0M81.0 95.7h0M84.4 73.5h0M84.7 72.5h0M95.8 87.4h0M96.1 88.3h0M88.4 69.4h0M110.6 65.3h0M110.2 66.2h0M106.0 85.0h0M105.6 84.1h0M124.1 78.6h0M124.5 77.7h0M114.8 66.2h0M115.0 67.2h0M114.3 87.6h0M113.4 87.9h0M83.2 77.1h0M83.6 76.2h0M86.8 92.4h0M87.5 91.7h0M78.6 89.1h0M78.5 90.1h0M120.6 75.0h0M119.8 75.5h0M89.2 88.6h0M88.5 89.3h0M104.2 64.5h0M105.1 64.9h0M103.4 68.9h0M103.0 69.8h0M121.0 66.3h0M120.2 65.7h0M86.5 83.7h0M85.7 83.1h0M85.6 74.1h0M84.6 74.2h0M81.4 92.6h0M81.3 93.6h0M114.3 90.7h0M113.8 91.5h0M95.6 98.2h0M96.6 98.3h0M80.7 82.9h0M81.4 82.2h0M99.7 72.8h0M99.3 71.9h0M82.6 88.3h0M81.7 87.8h0M84.3 86.1h0M83.8 85.3h0M77.2 78.0h0M76.3 78.3h0M118.2 65.3h0M118.7 64.5h0M87.1 82.4h0M86.1 82.4h0M106.1 79.0h0M105.9 79.9h0M117.2 70.8h0M116.3 70.5h0M88.6 73.5h0M88.8 74.4h0M106.6 75.3h0M106.1 76.2h0M114.0 75.8h0M114.3 74.8h0M107.6 85.0h0M106.6 85.1h0M105.4 85.8h0M105.1 86.7h0M75.3 82.4h0M75.7 83.3h0M85.8 79.7h0M86.5 80.5h0M103.7 62.2h0M103.1 63.0h0M99.5 82.5h0M99.8 81.6h0M80.4 75.2h0M80.9 74.4h0M111.8 71.9h0M110.9 71.4h0M115.9 84.0h0M116.5 84.8h0M83.0 92.2h0M82.9 93.2h0M98.0 57.2h0M116.3 85.6h0M115.7 84.8h0M79.2 94.4h0M79.5 95.4h0M71.5 82.8h0M72.5 83.0h0M93.3 90.1h0M92.4 90.7h0M115.2 87.4h0M116.0 88.0h0M122.0 79.8h0M121.8 78.8h0M75.7 86.0h0M74.7 85.7h0M94.2 64.8h0M93.6 65.6h0M116.4 67.0h0M115.9 66.1h0M123.7 72.0h0M122.7 72.0h0M68.8 88.3h0M69.4 87.5h0M87.8 87.4h0M87.1 86.7h0M98.3 63.0h0M99.1 62.5h0M97.2 89.7h0M97.1 90.7h0M88.1 90.8h0M89.1 91.0h0M104.8 76.9h0M104.0 77.4h0M80.1 75.0h0M80.9 75.5h0M82.2 91.6h0M81.4 91.1h0M104.3 61.8h0M104.1 60.8h0M107.3 90.9h0M106.4 91.0h0M97.4 62.8h0M96.9 63.7h0M78.0 80.9h0M78.4 81.8h0M99.0 75.1h0M98.2 74.5h0M112.6 80.6h0M111.7 80.8h0M113.4 69.4h0M112.8 68.6h0M101.1 83.9h0M100.4 84.6h0M71.1 83.6h0M70.2 83.1h0M99.8 87.4h0M100.1 88.4h0M94.5 72.2h0M93.8 71.5h0M108.5 89.4h0M109.3 88.9h0M69.4 88.4h0M123.3 78.1h0M122.4 78.6h0M112.7 91.6h0M112.0 92.2h0M91.3 94.1h0M90.3 94.4h0M100.3 76.0h0M99.3 76.0h0M100.2 93.0h0M101.2 93.3h0M68.0 83.0h0M67.9 82.0h0M95.0 62.0h0M94.4 62.8h0M110.3 65.1h0M109.9 64.2h0M93.3 70.2h0M93.5 71.2h0M106.9 68.6h0M106.8 67.6h0M99.5 90.6h0M99.9 91.5h0M68.7 87.1h0M74.4 78.6h0M73.5 79.0h0M124.6 70.1h0M124.5 69.1h0M93.8 93.4h0M94.2 94.3h0M112.4 68.2h0M112.9 69.0h0M92.4 96.1h0M92.8 95.2h0" stroke="#D63C2B" stroke-width="1.2" stroke-linecap="round"/>
<path d="M73.2 64.1h0M74.2 64.2h0M75.6 63.4h0M74.9 62.6h0M70.0 67.4h0M72.0 62.2h0M71.5 63.1h0M70.6 62.8h0M71.6 62.6h0M70.9 64.8h0M71.0 65.8h0M72.3 63.0h0M71.8 63.9h0M72.3 65.3h0M72.2 64.3h0M70.0 65.9h0M71.4 64.6h0M71.9 65.5h0M71.4 65.2h0M71.5 66.2h0M73.8 62.0h0M71.1 62.1h0M70.1 62.1h0M74.3 63.8h0M73.3 63.7h0M74.9 65.4h0M74.3 66.2h0M73.8 66.7h0M72.9 67.0h0M71.3 65.4h0M71.7 66.3h0" stroke="#D63C2B" stroke-width="1.2" stroke-linecap="round"/>
<path d="M66.3 87.3h0M65.3 87.0h0M63.2 97.8h0M62.2 97.5h0M59.5 103.7h0M61.9 98.7h0M62.1 97.7h0M62.2 96.3h0M61.3 96.8h0M63.1 101.4h0M60.5 100.5h0M59.6 100.9h0M61.8 100.7h0M62.7 100.3h0M65.7 88.7h0M66.2 89.6h0M66.3 89.7h0M66.6 88.8h0M68.0 91.2h0M68.1 92.2h0M68.2 92.6h0M68.9 93.4h0M66.2 96.6h0M65.3 97.0h0M68.5 87.9h0M68.3 86.9h0M66.0 95.9h0M65.8 95.0h0M64.0 90.6h0M63.6 91.5h0M66.2 96.4h0M66.6 95.5h0M67.6 96.3h0M66.6 96.6h0M61.3 98.9h0M62.3 98.8h0M67.1 94.0h0M66.1 93.7h0M60.2 98.5h0M60.5 97.5h0M67.3 97.5h0M63.2 93.3h0M64.2 92.9h0M64.6 90.0h0M64.3 91.0h0M62.1 97.8h0M61.2 98.0h0M64.6 96.5h0M65.6 96.4h0M60.4 97.3h0M61.3 97.8h0M61.9 94.8h0M61.6 95.8h0M64.8 87.7h0M65.6 90.8h0M66.6 90.8h0M68.6 90.2h0M67.7 89.9h0M60.8 100.0h0M59.9 99.5h0M64.2 99.3h0M65.2 99.3h0M63.2 97.6h0M62.4 97.0h0M61.2 102.2h0M61.8 102.9h0M67.4 90.0h0M67.1 91.0h0M66.2 95.5h0M65.2 95.2h0M67.4 88.8h0M66.8 88.1h0M69.2 88.6h0M69.5 87.7h0M60.9 98.8h0M60.0 99.0h0M67.4 95.1h0M67.5 96.1h0M67.7 89.6h0M68.7 89.8h0M58.3 100.1h0M58.6 99.1h0M61.3 101.3h0M61.9 100.6h0M65.9 98.5h0M66.6 97.8h0M64.1 88.1h0M65.0 87.9h0M60.1 98.7h0M59.2 98.4h0M60.7 100.2h0M59.7 99.8h0M61.5 102.2h0M66.8 87.2h0M65.8 86.9h0M60.2 98.1h0M60.8 97.3h0M67.2 95.6h0M66.4 95.1h0M60.7 99.5h0M61.2 100.4h0M60.7 101.9h0M60.0 101.2h0M69.2 94.0h0M68.7 93.2h0M67.0 88.5h0M66.1 88.0h0M63.3 92.8h0M64.2 92.5h0M65.3 99.6h0M61.0 95.3h0M60.9 96.3h0M58.8 103.0h0M58.8 102.0h0M67.7 92.6h0M67.6 91.6h0M66.8 94.4h0M66.3 95.3h0M62.4 96.5h0M63.4 96.6h0M65.2 92.4h0M66.2 92.3h0M63.7 96.6h0M62.9 96.1h0M62.4 92.2h0M61.9 93.1h0M64.1 93.6h0M64.4 94.5h0M63.4 94.0h0M64.4 94.0h0M60.1 100.3h0M59.1 100.6h0M66.0 92.7h0M67.0 92.8h0M64.2 97.9h0M65.0 98.5h0M66.6 97.4h0M66.5 98.4h0M59.4 101.0h0M58.4 100.9h0" stroke="#D63C2B" stroke-width="1.2" stroke-linecap="round"/>
<path d="M31.9 126.4h0M31.1 127.0h0M33.3 124.7h0M32.3 124.5h0M27.1 120.3h0M26.8 119.4h0M35.3 127.4h0M35.5 128.3h0M33.9 121.3h0M33.5 120.4h0M34.9 125.3h0M35.9 125.0h0M26.8 120.0h0M27.1 119.0h0M34.8 124.0h0M35.6 124.7h0M25.0 123.8h0M25.9 123.4h0M33.2 128.0h0M32.5 127.3h0M34.4 126.6h0M34.6 127.6h0M31.9 127.5h0M32.6 128.3h0M27.3 118.4h0M26.4 118.9h0M31.6 119.5h0M30.8 118.8h0M22.8 120.6h0M37.2 130.5h0M33.7 125.1h0M33.0 125.7h0M27.0 121.6h0M27.5 122.5h0M26.0 120.1h0M26.9 120.5h0M25.6 125.3h0M24.8 126.0h0M30.6 128.1h0M30.2 127.2h0M37.8 128.4h0M36.9 128.1h0M27.0 118.9h0M27.9 118.4h0M33.8 120.4h0M33.1 119.7h0M27.4 124.2h0M26.5 123.7h0M32.5 123.1h0M33.2 122.5h0M26.0 118.7h0M26.6 119.5h0M27.2 122.7h0M28.0 122.2h0M38.7 129.8h0M38.9 130.8h0M36.5 128.1h0M36.7 127.2h0M34.2 121.6h0M33.7 120.7h0M35.7 123.8h0M35.7 122.8h0M30.0 118.1h0M30.8 117.6h0M38.3 130.8h0M34.3 125.7h0M35.0 126.5h0M29.0 125.6h0M29.0 124.6h0M34.5 120.0h0M34.5 121.0h0M33.2 125.4h0M34.0 126.0h0M28.7 117.8h0M29.4 117.2h0M38.5 129.1h0M37.6 128.5h0M33.7 124.1h0M33.0 124.7h0M28.7 120.8h0M28.8 121.8h0M32.8 125.2h0M33.6 124.6h0M27.0 121.5h0M27.8 122.1h0M33.8 127.5h0M33.5 126.6h0M34.3 120.0h0M33.5 119.5h0M23.2 120.0h0M23.6 120.9h0M34.6 126.3h0M34.9 125.4h0M32.9 126.4h0M32.0 125.9h0M34.9 125.2h0M35.6 125.9h0M28.7 123.2h0M27.7 123.1h0M28.2 123.1h0M27.2 123.1h0M34.2 122.7h0M33.2 122.8h0M27.7 120.4h0M28.4 121.1h0M29.5 121.7h0M30.0 122.5h0M25.7 127.1h0M25.9 126.1h0M28.1 120.4h0M28.9 119.8h0M34.1 123.6h0M35.1 123.7h0M35.8 126.6h0M34.9 126.1h0M38.1 125.9h0M38.8 126.6h0M28.7 120.6h0M29.7 120.6h0M23.2 120.3h0M22.6 121.1h0M26.9 123.3h0M26.8 122.3h0M34.2 121.8h0M35.1 122.2h0M27.0 125.7h0M27.9 126.2h0M32.4 126.2h0M32.7 127.2h0M23.3 125.1h0M24.0 125.7h0M30.4 120.7h0M29.4 120.5h0M25.8 123.3h0M26.2 122.4h0M24.5 118.9h0M25.0 119.8h0M28.4 123.8h0M27.4 124.0h0M33.5 122.5h0M34.0 123.4h0M33.8 123.6h0M32.8 124.0h0M24.2 121.8h0M23.9 120.9h0M28.9 118.0h0M29.4 118.9h0M36.1 124.9h0M36.0 125.9h0M26.3 121.0h0M25.4 121.5h0M35.4 127.1h0M36.3 126.6h0M24.0 120.7h0M23.3 120.0h0M31.7 123.2h0M31.0 123.9h0M34.8 121.9h0M35.2 122.8h0M26.4 118.5h0M26.2 119.4h0M33.5 121.1h0M34.0 121.9h0M32.2 122.0h0M32.7 122.9h0M24.0 126.1h0M23.5 125.2h0M25.4 124.4h0M24.4 124.5h0M34.3 129.9h0M26.8 119.1h0M26.4 118.1h0M23.4 121.2h0M24.2 120.7h0M35.5 122.9h0M35.8 123.8h0M26.8 118.9h0M27.5 119.7h0M23.3 122.5h0M22.4 122.1h0M22.6 121.7h0M23.6 122.0h0M37.9 128.0h0M37.1 127.3h0M31.5 118.7h0M32.1 119.5h0M28.5 124.8h0M29.0 125.6h0M35.6 128.5h0M36.0 127.6h0M33.7 122.4h0M33.7 123.3h0M36.2 123.6h0M36.3 122.6h0M26.9 124.4h0M27.5 123.6h0M27.5 127.0h0M26.5 126.9h0M34.9 125.0h0M34.6 126.0h0M37.2 128.5h0M37.6 129.5h0M30.7 125.0h0M29.7 124.9h0M31.2 118.3h0M32.7 128.6h0M33.1 127.7h0M23.8 124.7h0M23.3 123.8h0M34.7 122.7h0M33.8 123.2h0M38.6 128.3h0M37.9 127.6h0M34.4 124.0h0M34.5 123.0h0M37.1 126.9h0M36.2 127.1h0M35.7 124.6h0M36.1 123.7h0M37.4 127.3h0M36.6 126.7h0M23.7 121.9h0M24.1 120.9h0M31.4 121.6h0M31.5 122.6h0M36.3 125.0h0M35.6 125.7h0M32.0 122.0h0M32.8 122.6h0M34.3 128.9h0M35.3 128.7h0M27.3 118.8h0M26.4 118.4h0M36.3 130.8h0M22.0 124.6h0M31.3 125.6h0M30.6 126.3h0" stroke="#E0A032" stroke-width="1.2" stroke-linecap="round"/>
<path d="M45.4 137.3h0M43.6 136.8h0M46.9 138.0h0M47.2 137.1h0M41.4 134.9h0M42.8 135.4h0M41.8 135.4h0M47.3 138.5h0M47.6 137.6h0M42.0 135.4h0M41.0 135.4h0M45.5 137.0h0M45.7 137.9h0M47.7 137.4h0M43.2 136.5h0M43.3 135.5h0M44.2 136.5h0M43.2 136.6h0M41.0 134.9h0M41.9 134.3h0M40.8 134.7h0M42.5 135.2h0M41.8 135.9h0M41.4 134.0h0M45.8 137.1h0M44.8 137.5h0M45.3 136.7h0M43.6 136.4h0M44.6 136.7h0M40.5 135.1h0M40.6 133.7h0M40.3 134.7h0" stroke="#F06A5A" stroke-width="1.2" stroke-linecap="round"/>
<path d="M58.7 135.4h0M58.0 135.4h0M57.6 134.4h0M56.7 134.4h0M58.2 135.1h0M60.3 135.8h0M59.5 135.2h0M59.3 135.4h0M60.3 135.1h0M59.5 136.0h0M60.2 135.3h0M59.9 135.1h0M59.4 135.9h0M57.1 134.4h0M57.7 135.2h0" stroke="#3C7A30" stroke-width="1.2" stroke-linecap="round"/>
<path d="M70.2 145.9h0M70.7 145.0h0M72.0 145.9h0M69.2 145.8h0M69.7 146.6h0M70.0 146.9h0M69.4 147.0h0M70.6 145.8h0M70.2 146.8h0M71.2 145.5h0M71.7 144.6h0M71.5 145.7h0M70.6 145.4h0M70.7 142.4h0M71.7 142.7h0M69.4 142.2h0M70.8 143.0h0M71.2 142.1h0M70.9 143.1h0M69.9 142.9h0M69.8 142.7h0M70.6 142.2h0M71.8 142.9h0M71.7 143.9h0" stroke="#C0504D" stroke-width="1.2" stroke-linecap="round"/>
<path d="M67.7 149.8h0M84.2 153.3h0M83.7 152.4h0M81.8 150.6h0M82.5 151.4h0M68.7 148.8h0M66.9 152.2h0M67.8 151.8h0M74.0 148.6h0M74.9 148.2h0M71.3 150.1h0M70.5 150.8h0M82.8 155.3h0M82.2 156.1h0M75.4 148.6h0M76.3 148.2h0M68.9 152.3h0M67.9 152.6h0M72.7 153.8h0M72.5 152.8h0M78.6 150.8h0M79.5 150.3h0M82.8 156.9h0M83.0 155.9h0M73.3 148.5h0M74.2 148.2h0M82.7 150.8h0M83.4 150.1h0M77.7 154.5h0M78.0 155.4h0M70.1 147.7h0M69.7 148.6h0M78.9 152.6h0M79.8 152.2h0M70.6 152.7h0M71.4 153.3h0M70.8 153.5h0M70.0 154.1h0M68.3 153.1h0M81.6 149.0h0M80.8 148.5h0M74.2 151.3h0M73.6 150.6h0M77.0 155.0h0M77.1 154.0h0M85.4 155.6h0M75.1 148.9h0M74.8 148.0h0M80.3 152.2h0M79.3 152.3h0M71.6 154.4h0M70.9 153.7h0M75.2 150.5h0M76.2 150.6h0M76.9 149.9h0M77.7 150.5h0M75.2 150.4h0M74.2 150.3h0M74.1 147.7h0M75.1 147.9h0M73.4 150.0h0M73.3 149.0h0M69.1 148.6h0M68.6 149.4h0M75.1 153.3h0M76.1 153.3h0M78.1 156.4h0M78.4 157.4h0M85.2 152.7h0M84.2 153.0h0M81.0 150.7h0M80.2 150.2h0M84.4 150.6h0M83.6 151.3h0M70.8 149.4h0M70.1 148.7h0M68.8 148.7h0M74.6 155.9h0M74.9 154.9h0M73.5 156.3h0M72.6 155.8h0M75.8 149.2h0M76.4 150.1h0M83.6 153.2h0M83.6 152.2h0M75.9 151.9h0M76.8 152.2h0M84.5 155.1h0M83.5 154.9h0M83.3 158.0h0M82.3 158.2h0M71.2 147.7h0M70.2 147.5h0M75.5 151.9h0M75.8 152.9h0M77.0 149.9h0M77.9 149.6h0M67.8 150.9h0M67.1 151.6h0M81.0 157.4h0M81.6 158.2h0M75.3 147.3h0M74.3 147.6h0M73.4 155.0h0M74.4 155.3h0M77.0 147.2h0M76.1 146.8h0M72.9 156.5h0M72.0 156.0h0M71.6 154.0h0M72.4 154.6h0M81.9 155.6h0M81.2 154.9h0M78.2 147.5h0M79.0 148.1h0M78.4 153.9h0M78.2 152.9h0M71.6 149.3h0M71.6 148.3h0M82.0 157.3h0M81.1 156.7h0M78.5 155.7h0M77.6 156.3h0M70.8 154.2h0M71.8 154.0h0M71.4 156.0h0M85.3 153.3h0M85.2 154.3h0M83.2 150.6h0M82.2 150.9h0M85.8 154.0h0M72.8 152.0h0M71.9 151.5h0M76.4 150.0h0M76.0 149.0h0M75.6 153.9h0M75.8 154.9h0M76.4 152.7h0M76.1 153.7h0M76.2 150.5h0M75.7 151.3h0M71.3 146.9h0M83.2 154.6h0M82.8 155.5h0M79.8 148.0h0M78.9 148.3h0M79.8 153.4h0M80.8 153.5h0M79.0 153.2h0M79.9 152.8h0M84.4 151.9h0M83.4 152.2h0M73.4 148.5h0M72.7 147.8h0M78.1 154.2h0M77.5 155.0h0M75.3 156.5h0M74.3 156.7h0M77.1 148.1h0M77.6 147.2h0M83.4 154.1h0M83.0 153.2h0M75.5 156.2h0M75.6 157.2h0M83.4 154.9h0M84.1 154.2h0M77.4 158.0h0M77.2 157.0h0M68.6 153.3h0M69.2 154.0h0M69.4 151.8h0M70.3 152.4h0M79.1 157.4h0M78.5 156.6h0M83.4 152.8h0M84.4 152.4h0M77.0 157.4h0M79.4 154.9h0M78.6 155.6h0M74.7 155.0h0M75.4 155.7h0M75.9 154.3h0M76.9 154.3h0M81.6 149.9h0M82.4 150.3h0M83.5 155.8h0M84.2 156.4h0M78.6 152.1h0M78.1 151.2h0M70.1 154.8h0M71.0 155.2h0M83.1 153.2h0M82.2 152.7h0M76.1 150.8h0M75.2 151.3h0M73.4 146.5h0M74.1 147.1h0M79.2 148.0h0M82.2 154.2h0M81.7 153.3h0M77.1 155.5h0M77.2 154.5h0M74.5 150.6h0M74.9 151.5h0M79.9 152.2h0M79.3 151.3h0M67.9 150.5h0M67.5 149.6h0M76.2 149.3h0M76.1 150.3h0M71.9 152.5h0M72.8 152.9h0M68.0 152.3h0M68.9 152.5h0M73.6 149.5h0M73.9 148.5h0M83.0 156.8h0M83.3 157.7h0M79.1 150.9h0M78.1 151.2h0M76.8 156.9h0M77.3 156.1h0" stroke="#C0504D" stroke-width="1.2" stroke-linecap="round"/>
<path d="M91.8 122.4h0M92.7 122.2h0M100.5 114.4h0M99.7 113.8h0M76.1 121.9h0M76.9 122.4h0M94.9 108.7h0M95.7 108.0h0M98.0 126.2h0M88.3 127.1h0M88.9 126.3h0M92.5 109.2h0M92.3 110.2h0M80.7 106.4h0M81.5 105.9h0M82.8 128.0h0M81.9 127.6h0M84.6 117.0h0M85.3 116.4h0M87.5 117.6h0M88.5 117.8h0M86.9 126.4h0M86.5 127.4h0M91.8 108.3h0M91.9 109.3h0M95.5 116.4h0M94.7 117.0h0M87.4 112.1h0M88.0 111.3h0M73.9 119.5h0M73.0 120.0h0M70.7 123.0h0M69.7 123.1h0M79.7 116.3h0M79.2 117.2h0M79.0 122.8h0M78.1 123.0h0M79.4 116.9h0M78.7 116.3h0M91.9 116.2h0M92.9 116.0h0M75.7 122.6h0M74.7 122.9h0M77.4 111.1h0M78.3 111.6h0M93.0 120.3h0M92.4 121.2h0M92.7 116.2h0M92.2 115.4h0M84.6 106.8h0M83.6 106.9h0M82.3 122.0h0M82.8 122.9h0M99.3 114.6h0M98.6 115.3h0M78.1 110.1h0M78.5 111.0h0M87.0 130.8h0M87.9 131.2h0M90.7 121.5h0M89.8 122.0h0M74.4 119.5h0M74.9 120.3h0M99.5 120.2h0M99.9 119.3h0M89.3 112.0h0M89.3 111.0h0M91.8 119.7h0M92.1 120.6h0M86.2 118.8h0M86.1 117.8h0M75.7 112.8h0M75.6 111.8h0M72.2 123.9h0M71.4 124.6h0M85.7 130.4h0M84.9 130.9h0M83.9 118.3h0M84.5 119.1h0M89.4 113.9h0M89.8 114.9h0M82.4 121.0h0M81.5 121.2h0M70.5 124.7h0M70.9 125.6h0M75.0 122.4h0M75.0 121.4h0M92.2 118.8h0M92.8 119.6h0M86.3 128.1h0M86.9 128.8h0M85.8 110.3h0M85.6 111.3h0M89.5 110.4h0M88.7 109.7h0M93.2 121.4h0M93.8 120.6h0M79.5 123.2h0M78.6 123.2h0M97.9 125.5h0M97.0 125.3h0M102.3 113.7h0M103.0 113.0h0M85.1 115.2h0M85.6 114.4h0M88.0 128.5h0M88.8 127.9h0M85.4 107.0h0M85.3 106.0h0M99.9 110.5h0M100.2 111.5h0M92.8 115.7h0M92.0 115.0h0M102.2 118.4h0M101.2 118.2h0M83.6 123.4h0M84.1 124.3h0M88.1 114.1h0M89.1 114.0h0M88.0 128.7h0M88.2 127.7h0M95.3 126.7h0M94.4 126.2h0M75.8 113.6h0M74.9 113.1h0M84.9 112.7h0M85.4 111.8h0M83.9 110.5h0M82.9 110.2h0M81.9 122.6h0M81.2 123.4h0M102.7 112.3h0M102.3 111.4h0M76.4 108.5h0M87.0 109.1h0M86.2 109.6h0M84.7 110.8h0M83.7 110.8h0M87.3 122.2h0M88.1 122.8h0M80.0 124.9h0M79.9 123.9h0M90.4 109.4h0M90.4 110.4h0M83.8 112.1h0M82.9 111.7h0M88.7 124.9h0M88.4 124.0h0M90.8 114.7h0M89.8 114.8h0M92.4 109.0h0M92.4 108.0h0M80.2 127.8h0M81.1 127.5h0M70.5 125.4h0M70.6 126.4h0M81.7 106.6h0M80.8 107.1h0M94.9 118.0h0M95.8 118.3h0M100.3 120.0h0M99.4 120.4h0M80.4 110.4h0M80.6 111.4h0M80.6 125.6h0M80.1 124.7h0M72.3 127.8h0M71.4 127.5h0M77.6 123.6h0M76.6 123.8h0M89.6 108.2h0M88.9 108.9h0M69.9 121.8h0M80.7 117.5h0M79.8 117.2h0M71.8 118.4h0M71.6 119.4h0M78.3 110.0h0M77.7 110.8h0M81.9 128.7h0M81.4 127.8h0M101.7 121.8h0M86.5 122.9h0M85.6 123.4h0M90.9 106.3h0M91.8 105.9h0M79.9 124.0h0M80.8 123.8h0M71.7 127.5h0M93.1 117.2h0M94.1 117.1h0M89.2 124.7h0M88.6 123.9h0M86.6 118.4h0M87.2 119.2h0M93.5 123.4h0M92.5 123.2h0M84.7 131.2h0M97.0 126.4h0M97.3 125.5h0M101.6 114.6h0M100.7 114.1h0M88.2 123.2h0M89.2 123.0h0M78.5 107.2h0M76.0 124.0h0M75.5 124.9h0M71.9 127.4h0M72.3 126.4h0M93.3 113.7h0M94.1 114.2h0M95.0 119.9h0M95.9 120.3h0M85.8 104.7h0M86.8 104.9h0M73.8 125.1h0M73.7 124.1h0M90.7 115.0h0M91.5 114.5h0M102.5 112.9h0M101.8 113.6h0M91.9 128.7h0M91.1 128.2h0M86.9 127.8h0M87.5 128.6h0M96.6 125.8h0M95.6 125.5h0M85.9 111.7h0M85.0 111.3h0M85.1 119.2h0M84.8 118.2h0M79.1 111.9h0M80.0 112.4h0M73.7 114.3h0M74.7 114.3h0M78.0 118.2h0M78.9 117.9h0M85.7 123.2h0M86.7 123.5h0M80.8 106.8h0M81.8 106.9h0M70.8 126.6h0M71.5 125.9h0M79.7 127.0h0M80.7 126.7h0M91.7 108.3h0M91.5 107.4h0M77.3 117.5h0M76.9 118.4h0M91.2 123.4h0M90.2 123.5h0M87.2 120.7h0M86.3 120.3h0M87.8 112.0h0M86.9 112.4h0M99.5 124.2h0M89.5 120.3h0M88.6 120.6h0M93.2 128.7h0M92.4 128.1h0M92.9 107.6h0M93.2 108.6h0M81.6 117.9h0M80.7 118.3h0M94.8 114.6h0M95.2 113.7h0M74.8 121.7h0M75.7 121.3h0M80.4 108.3h0M80.6 107.3h0M81.5 117.1h0M82.0 116.3h0M75.4 114.5h0M76.3 114.1h0M81.1 109.2h0M80.4 109.9h0M92.0 115.7h0M91.7 116.6h0M98.4 125.2h0M98.8 124.3h0M78.5 123.6h0M78.3 124.6h0M92.0 119.5h0M93.0 119.4h0M84.0 131.5h0M95.2 126.8h0M94.7 126.0h0M88.4 106.5h0M89.3 107.1h0M82.5 126.6h0M82.9 127.5h0M88.2 126.4h0M88.5 127.4h0M72.7 124.3h0M71.9 123.8h0M76.2 112.0h0M75.8 113.0h0M93.7 108.6h0M92.9 108.0h0M85.5 111.4h0M86.0 110.5h0M93.0 109.8h0M93.9 110.3h0M81.8 118.7h0M82.0 117.7h0M91.8 118.6h0M91.9 117.6h0M70.4 119.5h0M69.8 120.2h0M83.0 110.4h0M82.2 111.1h0M100.0 116.9h0M100.0 115.9h0M87.2 124.9h0M87.2 123.9h0M90.4 122.4h0M90.5 123.4h0M89.1 115.5h0M90.0 115.1h0M95.5 120.1h0M94.9 119.3h0M90.0 109.6h0M90.6 110.4h0M94.5 122.8h0M94.5 123.8h0M96.0 122.0h0M96.2 121.1h0M91.0 119.1h0M91.9 119.4h0M92.5 128.3h0M93.4 128.8h0M96.9 107.5h0M97.9 107.7h0M81.2 110.1h0M82.1 110.5h0M83.8 123.9h0M84.8 123.6h0M102.4 116.1h0M101.4 116.0h0M73.9 126.7h0M74.8 127.1h0M87.6 118.9h0M88.4 118.4h0M92.8 115.5h0M93.6 116.0h0M71.9 119.6h0M72.9 119.8h0M73.2 119.2h0M72.2 119.3h0M93.8 121.0h0M93.9 122.0h0M87.6 114.8h0M86.6 115.1h0M83.9 131.6h0M95.4 126.8h0M95.2 125.8h0M94.0 109.8h0M93.0 110.0h0M76.0 109.1h0M75.1 109.6h0M84.8 128.0h0M85.6 128.7h0M91.8 125.8h0M92.8 126.0h0M87.5 121.1h0M86.6 120.5h0M89.0 131.1h0M84.6 115.9h0M83.9 116.7h0M75.3 129.2h0M88.8 129.2h0M89.8 128.9h0M84.9 111.1h0M83.9 111.0h0M91.4 113.7h0M90.5 114.1h0M81.7 130.8h0M82.7 130.6h0M88.9 109.8h0M89.1 108.8h0M90.9 123.6h0M90.0 123.9h0M85.2 106.0h0M84.8 106.9h0M82.5 108.0h0M82.1 109.0h0M90.4 110.6h0M90.3 111.6h0M94.1 120.4h0M93.1 120.6h0M87.5 113.6h0M88.4 113.3h0M96.9 117.9h0M96.1 117.3h0M85.0 130.8h0M85.9 130.2h0M86.5 107.2h0M86.6 106.2h0M75.1 128.6h0M76.1 128.3h0M74.1 111.7h0M74.1 110.7h0M77.6 112.9h0M77.5 111.9h0M92.7 128.9h0M93.6 129.2h0M71.1 117.7h0M71.8 118.3h0M77.7 124.7h0M76.8 124.9h0M85.7 130.9h0M86.5 130.3h0M78.1 109.6h0M77.6 108.8h0M87.3 125.7h0M86.3 125.9h0M92.5 130.6h0M74.1 125.0h0M73.2 124.8h0M92.5 130.9h0M91.8 130.2h0M81.0 107.2h0M81.3 106.2h0M92.3 130.6h0M91.8 129.7h0M90.0 110.5h0M90.6 111.3h0M85.0 107.8h0M84.0 107.8h0M78.4 128.6h0M78.0 127.6h0M97.6 116.4h0M96.7 116.8h0M81.7 125.9h0M82.2 125.0h0M94.0 110.3h0M94.9 110.6h0M96.2 113.4h0M97.2 113.8h0M80.4 125.4h0M80.4 124.4h0M100.9 116.3h0M101.0 117.3h0M87.6 118.9h0M88.1 119.8h0M91.2 124.2h0M90.7 123.3h0M88.5 118.8h0M88.6 119.8h0M71.7 122.5h0M70.7 122.3h0M98.5 122.1h0M99.5 122.0h0M97.8 113.2h0M98.8 113.2h0M82.9 118.8h0M82.3 118.0h0M88.0 120.0h0M87.5 119.2h0M90.3 124.7h0M89.4 125.1h0M100.7 114.5h0M99.7 114.4h0M98.4 111.8h0M98.4 112.8h0M91.9 108.6h0M92.9 108.4h0M94.6 115.7h0M95.6 115.7h0M89.1 106.8h0M90.1 106.8h0M85.2 105.1h0M85.5 106.0h0M91.8 109.1h0M91.0 109.6h0M88.9 123.4h0M88.1 122.8h0M90.9 106.6h0M90.3 105.8h0M81.5 127.8h0M81.4 128.8h0M84.8 116.9h0M83.8 117.1h0M77.3 123.5h0M76.3 123.5h0M78.7 130.1h0M89.4 114.6h0M90.2 115.1h0M73.8 110.5h0M74.3 111.4h0M79.2 123.0h0M79.2 122.0h0M80.1 108.0h0M79.3 108.6h0M103.2 115.9h0M102.2 115.7h0M90.5 128.8h0M90.7 127.8h0M93.5 125.4h0M94.3 126.0h0M70.1 124.7h0M70.1 123.7h0M82.0 113.4h0M82.9 113.1h0M82.0 110.4h0M83.0 110.3h0M84.7 112.9h0M85.3 112.2h0M85.6 128.0h0M84.9 128.7h0M95.5 123.8h0M96.4 123.5h0M102.4 119.0h0M102.4 120.0h0M87.6 114.1h0M88.2 114.9h0M80.0 130.1h0M81.0 130.0h0M96.5 122.9h0M96.0 122.1h0M72.5 127.3h0M72.5 126.3h0M88.8 126.6h0M87.8 126.6h0M86.1 124.7h0M85.7 123.8h0M96.2 114.7h0M95.6 113.9h0M96.3 114.9h0M95.8 115.7h0M90.3 105.2h0M94.4 124.2h0M94.3 123.2h0M73.4 128.0h0M74.3 127.6h0M76.9 118.1h0M75.9 118.3h0M86.3 117.0h0M87.3 117.1h0M75.5 125.7h0M74.6 126.2h0M88.8 124.8h0M88.2 125.6h0M82.1 126.0h0M81.1 125.8h0M87.5 122.2h0M88.4 121.8h0M82.8 124.4h0M83.1 123.5h0M83.9 114.5h0M83.5 115.4h0M88.7 122.1h0M88.0 122.8h0M99.6 114.9h0M98.8 115.4h0M78.0 127.9h0M77.3 127.2h0M91.5 109.4h0M92.5 109.2h0M89.3 109.4h0M88.3 109.5h0M78.4 124.8h0M77.5 125.2h0M95.3 114.7h0M96.0 115.4h0M88.4 120.4h0M88.1 119.4h0M83.4 129.4h0M84.3 129.0h0M69.6 121.6h0M98.1 108.0h0M73.0 111.7h0M75.3 112.3h0M74.4 112.8h0M81.6 122.9h0M82.6 123.0h0M89.4 124.3h0M90.4 124.4h0M92.5 106.1h0M93.5 106.0h0M74.9 115.6h0M75.8 115.3h0M81.5 128.6h0M82.5 128.5h0M91.4 120.5h0M90.5 120.1h0M86.5 115.3h0M86.7 114.3h0M83.4 123.1h0M84.3 122.6h0M84.3 115.4h0M84.8 116.3h0M96.7 109.5h0M95.8 110.0h0M89.4 125.7h0M90.1 126.4h0M75.8 122.2h0M75.0 121.6h0M77.3 112.7h0M76.4 113.1h0M83.0 117.0h0M83.3 117.9h0M83.0 109.7h0M83.2 108.7h0M86.2 105.7h0M85.9 104.8h0M97.1 124.3h0M96.6 123.4h0M78.0 120.9h0M78.5 121.7h0M94.3 118.0h0M94.4 119.0h0M88.5 125.7h0M89.5 125.7h0M93.1 117.3h0M93.2 116.3h0M80.5 119.2h0M79.6 118.7h0" stroke="#9B59B6" stroke-width="1.2" stroke-linecap="round"/>
<path d="M127.5 110.8h0M127.5 109.8h0M118.1 107.8h0M117.2 108.1h0M127.4 106.0h0M127.3 107.0h0M119.7 111.5h0M119.9 110.5h0M122.1 101.6h0M123.0 101.2h0M108.2 107.7h0M107.3 108.0h0M103.4 107.5h0M104.0 108.2h0M116.9 100.6h0M122.5 111.8h0M121.7 111.2h0M107.4 111.1h0M108.4 111.2h0M128.5 105.7h0M127.7 105.1h0M114.4 102.3h0M115.3 102.0h0M112.3 104.2h0M113.3 104.3h0M114.0 103.0h0M114.9 102.5h0M105.3 112.4h0M104.3 112.2h0M128.0 105.6h0M129.0 105.6h0M114.3 110.6h0M114.4 109.6h0M103.7 110.5h0M103.2 109.6h0M119.3 99.5h0M119.8 98.6h0M115.8 101.0h0M114.9 101.2h0M122.9 110.5h0M122.8 109.5h0M127.4 109.3h0M127.1 108.3h0M131.4 110.1h0M132.4 110.1h0M122.2 103.3h0M122.9 102.6h0M117.6 107.0h0M118.3 106.4h0M129.8 111.2h0M129.4 110.2h0M129.5 111.7h0M128.6 112.2h0M109.6 109.8h0M110.2 110.6h0M113.4 104.8h0M114.3 104.3h0M125.4 105.9h0M125.0 105.0h0M130.8 109.0h0M131.1 109.9h0M122.8 101.2h0M123.1 100.3h0M108.0 114.7h0M108.9 114.9h0M117.2 113.1h0M118.2 113.0h0M124.1 104.4h0M124.7 105.2h0M107.2 106.5h0M107.7 107.3h0M109.4 115.2h0M122.3 101.3h0M121.7 100.5h0M121.5 101.0h0M120.6 100.6h0M121.5 102.1h0M120.6 102.5h0M104.6 106.5h0M128.3 106.1h0M128.1 107.1h0M127.9 111.9h0M128.5 112.6h0M118.6 111.7h0M117.8 111.1h0M123.2 100.0h0M123.3 99.0h0M115.2 108.0h0M114.2 108.1h0M113.1 104.5h0M113.5 103.6h0M123.8 100.9h0M123.0 100.4h0M108.2 104.1h0M103.8 110.6h0M120.9 103.5h0M121.4 102.6h0M125.9 110.7h0M125.3 110.0h0M123.7 112.7h0M123.0 113.4h0M112.4 115.6h0M112.2 114.6h0M129.5 112.3h0M128.9 113.1h0M120.6 112.7h0M119.6 112.5h0M109.5 107.3h0M110.5 107.7h0M120.1 109.2h0M119.1 109.3h0M119.4 110.4h0M120.3 110.6h0M120.9 104.6h0M121.1 103.7h0M111.3 103.7h0M110.6 103.0h0M123.1 108.7h0M122.4 109.4h0M115.2 111.0h0M114.2 111.0h0M108.8 112.9h0M108.3 113.8h0M121.0 98.5h0M121.9 98.2h0M129.4 111.7h0M129.6 112.7h0M115.5 110.9h0M115.5 111.9h0M118.1 102.0h0M117.1 102.0h0M113.5 108.3h0M113.8 109.2h0M119.8 104.4h0M119.5 105.4h0M105.8 108.0h0M104.9 107.9h0M121.8 114.2h0M109.0 114.1h0M108.5 113.2h0M114.7 103.6h0M114.4 102.7h0M113.3 110.6h0M114.1 110.0h0M126.6 99.6h0M125.8 99.0h0M123.8 103.1h0M124.5 103.8h0M124.7 111.0h0M125.5 110.3h0M105.0 112.8h0M117.7 105.9h0M118.6 105.6h0M125.4 106.2h0M126.4 106.0h0M120.4 102.6h0M119.7 103.3h0M123.0 109.3h0M123.2 110.3h0M111.4 104.4h0M110.7 103.8h0M106.0 108.4h0M105.1 108.0h0M113.7 105.9h0M114.6 105.7h0M113.7 112.9h0M112.9 113.5h0M122.2 98.3h0M106.4 105.4h0M118.9 104.0h0M117.9 103.9h0M113.3 115.0h0M113.8 114.1h0M113.0 106.3h0M112.1 106.5h0M114.0 110.4h0M114.4 111.3h0M111.1 114.8h0M110.1 114.8h0M120.0 103.9h0M119.5 103.1h0M123.8 113.1h0M123.0 112.5h0M107.2 113.2h0M106.8 112.3h0M112.1 111.9h0M111.1 112.1h0M123.4 113.4h0M122.8 112.5h0M123.1 105.7h0M122.5 106.4h0M129.7 113.2h0M128.8 112.7h0M115.0 102.2h0M114.1 101.8h0M121.2 114.5h0M117.1 105.8h0M117.9 105.3h0M117.2 108.3h0M117.1 109.3h0M127.2 102.7h0M127.7 101.8h0M120.6 113.6h0M120.1 112.7h0M115.8 113.0h0M114.8 113.1h0M117.9 106.4h0M118.0 107.4h0M128.0 109.9h0M129.0 109.7h0M126.0 100.0h0M125.1 99.6h0M119.0 103.7h0M119.9 104.2h0M108.0 108.9h0M107.1 108.3h0M125.4 114.0h0M114.4 110.7h0M113.9 109.9h0M131.4 105.8h0M130.4 105.6h0M107.5 114.4h0M120.7 102.0h0M120.1 102.8h0M124.7 111.4h0M123.9 110.9h0M104.4 108.5h0M105.0 109.3h0M119.4 115.1h0M120.1 114.4h0M127.8 107.1h0M128.3 108.0h0M124.1 110.1h0M123.4 109.3h0M116.7 114.9h0M116.5 115.9h0M131.5 111.9h0M117.8 106.8h0M116.8 107.0h0M127.9 101.9h0M127.4 101.1h0M115.3 106.4h0M114.7 107.2h0M116.2 111.5h0M115.8 110.6h0M132.6 110.4h0M125.5 103.5h0M125.9 104.4h0M129.9 109.7h0M130.7 110.2h0M109.9 112.8h0M109.1 113.4h0M129.3 103.1h0M128.5 102.6h0M112.2 107.7h0M111.4 107.1h0M121.9 105.5h0M122.4 104.6h0M124.8 108.3h0M124.3 107.5h0M126.1 107.4h0M125.1 107.2h0M124.5 98.3h0M125.2 97.5h0M115.2 104.0h0M114.2 103.9h0M116.9 111.1h0M117.8 111.5h0M118.4 111.5h0M117.4 111.4h0M115.6 115.2h0M116.6 115.2h0M119.8 99.4h0M119.4 98.5h0M110.3 112.1h0M109.9 113.1h0M111.5 108.8h0M110.8 108.0h0M128.2 107.4h0M128.6 108.3h0M119.6 111.5h0M120.6 111.8h0M109.9 109.5h0M108.9 109.6h0M124.8 104.5h0M123.8 104.5h0M121.3 109.7h0M121.1 110.7h0M119.4 114.9h0M118.6 114.4h0M125.0 109.1h0M124.1 109.5h0M125.8 110.3h0M125.2 111.2h0M130.3 105.7h0M131.2 106.1h0M110.3 106.8h0M111.2 107.2h0M125.0 97.9h0M124.3 102.4h0M123.5 103.0h0M114.0 103.1h0M114.8 102.5h0M119.2 100.2h0M118.2 100.0h0" stroke="#4DB848" stroke-width="1.2" stroke-linecap="round"/>
<path d="M136.9 114.0h0M136.0 114.5h0M134.3 114.5h0M133.9 115.4h0M137.7 111.4h0M135.6 113.4h0M136.4 114.0h0M137.2 112.7h0M136.2 112.6h0M134.6 111.2h0M133.9 116.5h0M134.8 116.9h0M133.9 114.1h0M133.3 113.4h0M138.0 113.1h0M137.6 114.0h0M134.6 116.4h0M133.8 113.1h0M134.0 112.1h0M136.2 114.1h0M136.8 114.9h0M136.8 111.3h0M135.5 111.0h0M133.6 115.2h0M134.5 115.4h0M135.2 114.6h0M136.5 111.6h0M135.5 111.7h0M134.8 114.5h0M134.0 115.0h0M133.7 113.1h0M134.2 113.9h0M136.6 114.6h0M137.4 114.1h0M136.5 116.1h0M135.6 115.9h0M134.0 113.6h0M134.3 112.6h0M138.4 113.8h0M136.2 115.7h0M137.1 116.3h0M137.3 111.4h0M133.8 113.9h0M133.5 112.9h0M133.9 114.4h0M133.6 113.4h0M135.1 112.9h0M134.1 112.9h0M134.7 115.1h0M133.7 115.1h0M134.8 111.4h0M136.6 112.5h0M135.7 111.9h0M135.6 116.2h0M134.6 116.5h0M138.5 112.6h0M134.6 115.7h0M135.2 114.9h0M135.3 115.7h0M135.0 114.8h0M135.6 113.3h0M136.4 113.9h0" stroke="#CA6320" stroke-width="1.2" stroke-linecap="round"/>
<path d="M134.0 118.5h0M131.6 118.8h0M132.4 118.2h0M133.6 121.0h0M128.7 120.4h0M128.8 121.4h0M134.0 119.2h0M134.7 118.4h0M130.9 120.7h0M129.9 120.9h0M131.4 119.4h0M131.1 118.5h0M129.0 119.7h0M130.2 122.2h0M129.8 120.6h0M130.6 121.1h0M131.6 119.0h0M131.4 118.0h0M132.5 121.0h0M131.6 121.3h0M129.9 118.4h0M130.7 119.0h0M129.5 119.2h0M131.3 120.2h0M130.4 120.8h0M133.5 120.1h0M132.6 120.3h0M131.7 117.7h0M132.1 119.5h0M132.6 118.7h0M128.1 120.2h0M127.6 121.1h0M130.1 118.3h0M130.6 119.2h0M134.5 117.3h0M133.7 117.9h0M134.1 120.5h0M132.0 117.3h0M130.4 120.6h0M130.7 119.6h0M130.6 119.0h0M129.8 118.3h0M131.8 120.9h0M130.8 121.1h0M132.4 120.5h0M133.3 120.2h0M133.6 120.3h0M130.4 119.5h0M129.8 120.3h0M130.9 120.4h0M131.5 121.2h0M132.7 118.2h0M133.5 118.8h0M130.9 121.0h0M130.0 121.4h0M131.9 117.3h0M132.9 117.6h0M130.7 118.5h0M131.1 119.4h0" stroke="#CA6320" stroke-width="1.2" stroke-linecap="round"/>
<path d="M124.8 132.5h0M121.1 136.6h0M119.1 136.6h0M118.2 136.1h0M119.9 132.5h0M119.4 133.4h0M122.9 132.7h0M123.8 133.3h0M120.0 133.2h0M120.2 132.2h0M123.4 131.2h0M124.4 131.2h0M122.2 131.9h0M121.2 132.1h0M121.4 136.8h0M121.3 135.8h0M120.7 135.0h0M121.5 135.5h0M121.5 133.6h0M122.4 133.9h0M120.5 132.2h0M119.6 131.7h0M119.4 136.5h0M120.3 135.9h0M124.9 130.9h0M124.1 130.4h0M125.2 131.2h0M124.2 131.1h0M121.6 134.0h0M120.6 134.1h0M117.9 135.4h0M117.9 134.4h0M118.0 134.1h0M118.6 134.9h0M120.5 132.4h0M119.8 133.2h0M123.5 131.7h0M123.0 130.9h0M121.7 134.1h0M120.7 134.1h0M120.1 135.9h0M121.1 135.5h0M124.0 133.4h0M123.0 133.7h0M124.6 132.4h0M125.0 132.8h0M119.8 135.4h0M120.2 134.5h0M123.1 131.3h0M122.8 130.4h0M120.6 136.7h0M119.7 136.3h0M123.6 130.6h0M123.3 131.5h0M121.7 135.9h0M119.4 135.9h0M118.5 135.5h0M120.9 131.0h0M120.8 132.0h0M120.9 133.0h0M121.9 132.7h0M121.1 137.3h0M120.9 136.3h0M121.1 131.1h0M121.7 131.9h0M123.5 130.2h0M122.8 130.8h0M123.1 132.1h0M123.1 131.1h0M121.1 132.4h0M122.1 132.4h0M122.5 134.8h0M122.2 135.8h0M124.4 133.3h0M123.4 133.6h0M118.2 133.2h0M118.5 134.1h0M122.3 135.1h0M121.4 134.9h0M123.8 132.8h0M124.6 132.2h0M124.1 132.4h0M123.5 133.2h0" stroke="#40B08A" stroke-width="1.2" stroke-linecap="round"/>
<path d="M142.7 128.9h0M143.0 128.0h0M145.8 127.1h0M146.1 128.0h0M145.5 130.0h0M146.9 125.5h0M146.0 125.0h0M141.2 129.4h0M149.6 128.9h0M144.1 127.1h0M144.2 128.1h0M143.3 126.0h0M143.0 127.0h0M144.0 127.6h0M144.6 126.9h0M141.9 129.8h0M142.9 130.0h0M143.5 129.1h0M142.5 129.1h0M144.0 128.4h0M143.5 127.5h0M147.9 129.2h0M148.8 128.8h0M145.1 127.0h0M145.9 127.6h0M147.9 125.8h0M147.4 126.6h0M143.3 129.8h0M144.7 129.5h0M144.8 128.5h0M141.0 126.6h0M143.1 127.7h0M142.3 127.2h0M145.3 126.4h0M144.3 126.6h0M145.7 125.6h0M145.0 126.3h0M146.5 128.9h0M147.5 128.7h0M144.7 127.6h0M144.5 128.5h0M145.2 129.9h0M143.5 127.8h0M143.0 128.7h0M145.1 126.2h0M144.8 127.2h0M141.3 129.6h0M142.3 129.9h0M146.0 127.9h0M146.8 128.4h0M147.5 128.9h0M147.7 127.9h0M141.6 126.8h0M140.9 127.5h0M145.8 126.0h0M145.5 127.0h0M146.3 128.6h0M145.6 127.9h0M144.0 125.7h0M143.1 125.3h0M143.0 129.6h0M142.7 128.7h0M143.9 128.6h0M144.2 129.6h0M142.6 129.0h0M142.9 130.0h0M141.9 129.6h0M142.0 128.6h0M148.0 127.7h0M147.7 128.7h0M144.3 125.3h0M145.2 124.8h0M142.7 126.9h0M142.1 126.1h0M142.8 127.4h0M143.4 126.6h0M142.8 127.2h0M143.5 127.9h0M141.7 127.3h0M142.4 128.0h0M143.9 129.5h0M143.0 129.1h0" stroke="#40B08A" stroke-width="1.2" stroke-linecap="round"/>
<path d="M95.6 136.3h0M94.7 135.9h0M96.0 138.6h0M96.2 137.3h0M97.1 137.9h0M95.1 136.5h0M94.9 137.5h0" stroke="#5B6BC0" stroke-width="1.2" stroke-linecap="round"/>
<path d="M106.2 144.7h0M98.8 141.6h0M99.4 140.8h0M100.8 139.3h0M101.5 139.9h0M106.5 141.6h0M102.8 140.9h0M102.0 141.6h0M100.9 142.2h0M101.8 142.8h0M106.2 143.0h0M106.7 143.8h0M97.9 139.2h0M98.9 139.3h0M99.0 140.3h0M99.1 141.3h0M98.6 143.7h0M98.9 142.7h0M103.4 140.8h0M104.1 140.1h0M98.5 142.0h0M99.0 142.9h0M104.2 144.2h0M104.5 145.1h0M102.0 145.7h0M101.1 145.2h0M105.4 143.4h0M106.3 143.8h0M105.1 144.8h0M106.0 145.2h0M104.8 142.9h0M105.8 142.5h0M100.6 139.4h0M99.7 139.2h0M102.4 140.3h0M101.5 140.7h0M104.0 143.2h0M104.4 144.1h0M104.8 145.6h0M104.2 144.8h0M106.8 144.3h0M105.8 144.2h0M106.3 141.2h0M106.7 142.2h0M106.3 144.3h0M99.3 144.3h0M101.5 139.6h0M101.1 140.5h0M101.6 141.2h0M102.6 140.9h0M101.6 145.3h0M102.6 145.4h0M105.0 142.8h0M104.1 142.3h0M105.3 141.7h0M105.5 140.7h0M101.3 142.8h0M102.1 142.2h0M106.3 143.5h0M107.0 142.8h0M104.3 145.5h0M105.2 145.1h0M106.2 143.3h0M105.3 143.5h0M100.3 140.0h0M100.3 139.0h0M98.4 142.9h0M100.6 143.6h0M101.2 144.4h0M104.0 145.7h0M103.2 145.0h0M105.2 141.2h0M104.8 142.1h0M104.3 140.9h0M105.1 141.6h0M97.7 140.0h0M98.6 139.7h0M105.2 140.2h0M105.8 144.2h0M105.3 143.3h0M107.1 142.5h0M100.5 140.4h0M99.7 141.0h0M105.7 144.5h0M105.4 139.8h0M104.7 139.5h0M99.3 144.7h0M100.2 144.2h0M97.8 142.9h0M102.0 144.6h0M102.9 144.9h0M99.1 141.1h0M99.1 140.1h0M103.9 140.2h0M103.4 139.3h0M101.6 144.1h0M101.5 143.1h0M98.9 139.8h0M99.3 138.9h0M104.9 144.8h0M105.0 145.8h0M97.1 141.0h0M101.9 143.7h0M101.7 144.7h0M101.4 138.4h0M102.0 139.2h0M106.0 143.7h0M106.9 143.2h0M105.6 145.0h0M104.8 144.4h0M98.8 140.0h0M99.8 139.8h0M101.3 140.5h0M100.8 139.6h0M103.5 139.7h0M104.5 139.6h0M106.4 141.1h0M105.6 141.7h0" stroke="#5B6BC0" stroke-width="1.2" stroke-linecap="round"/>
<path d="M143.1 46.0h0M143.1 45.8h0M142.8 47.4h0M142.5 46.4h0" stroke="#9AB83A" stroke-width="1.2" stroke-linecap="round"/>
<path d="M146.0 76.6h0M145.3 75.9h0M144.7 75.9h0M145.5 76.5h0M143.5 77.4h0M145.2 76.6h0M145.1 76.4h0M147.9 76.5h0M146.9 76.4h0M145.1 76.0h0M144.2 76.5h0" stroke="#9AB83A" stroke-width="1.2" stroke-linecap="round"/>
<path d="M155.5 77.3h0M154.8 78.0h0M158.8 76.4h0M158.0 76.5h0M158.9 76.8h0M155.5 75.2h0M154.4 78.4h0M154.0 78.1h0M154.6 75.9h0M154.3 76.9h0M158.9 74.2h0M159.5 74.9h0M156.6 75.4h0M156.4 76.4h0M154.5 77.0h0M154.1 76.1h0M158.3 75.8h0M157.9 76.7h0M157.5 75.5h0M157.7 76.5h0M159.5 73.6h0M156.5 76.6h0M155.5 76.5h0M154.7 77.8h0M156.5 74.4h0M157.4 74.0h0M158.9 75.9h0M159.5 75.0h0M156.2 74.6h0M157.2 74.5h0M156.7 78.3h0M156.7 75.1h0M156.2 76.0h0" stroke="#9AB83A" stroke-width="1.2" stroke-linecap="round"/>
<path d="M140.6 89.1h0M141.5 89.4h0M143.2 89.5h0M141.5 89.0h0M142.1 89.8h0" stroke="#CBCBCB" stroke-width="1.2" stroke-linecap="round"/>
<path d="M152.8 99.2h0M153.0 98.2h0M152.2 97.7h0M151.2 96.5h0M153.2 97.9h0M153.6 99.0h0M153.0 100.0h0M152.6 97.2h0M152.7 98.2h0" stroke="#D6336C" stroke-width="1.2" stroke-linecap="round"/>
<path d="M41.9 52.0h0M39.6 55.9h0M39.7 56.2h0M40.4 55.0h0M41.2 53.6h0M40.4 56.1h0M39.1 56.1h0M38.7 56.5h0M40.7 53.2h0M42.4 55.6h0M41.2 53.9h0M40.9 55.4h0M39.6 55.2h0M39.3 56.3h0M40.0 56.3h0M40.5 57.4h0M40.5 56.7h0M42.0 53.8h0M43.0 53.9h0M40.4 54.8h0M40.5 57.9h0M40.4 55.3h0M39.2 56.8h0M42.6 52.6h0M43.5 53.4h0M39.8 55.9h0M41.9 52.3h0M42.9 55.0h0M41.1 55.0h0M43.9 52.8h0M43.3 52.7h0M39.3 55.8h0M41.1 58.3h0M42.6 55.2h0M42.1 51.8h0M42.3 51.8h0M43.2 50.7h0M48.1 48.2h0M44.4 50.3h0M47.1 48.8h0M46.3 47.5h0M44.0 50.9h0M47.1 47.8h0M45.8 47.3h0M46.1 50.5h0M46.0 49.9h0M46.2 48.1h0M46.3 49.2h0M44.9 50.0h0M47.2 49.0h0M46.7 47.1h0M45.9 48.9h0M45.9 47.5h0M44.3 49.3h0M46.8 48.7h0M42.1 51.1h0M43.8 51.5h0M45.8 48.0h0M43.5 51.8h0M45.4 49.0h0M43.7 50.4h0M44.7 51.6h0M45.1 50.7h0M44.6 48.8h0M44.6 51.0h0M47.5 48.8h0M43.1 50.8h0M42.7 50.9h0M45.1 50.6h0M47.0 47.9h0" stroke="#CBCBCB" stroke-width="1.2" stroke-linecap="round"/>
<path d="M50.4 47.9h0M50.4 47.6h0M52.7 48.6h0M50.6 47.6h0M54.4 49.3h0M52.9 48.1h0M51.0 49.1h0M49.5 48.6h0M54.7 49.4h0M50.0 46.8h0M54.0 47.9h0M51.7 48.9h0M53.3 48.1h0M53.1 49.9h0M52.1 48.2h0M53.1 49.8h0M53.1 50.0h0M53.6 50.2h0M50.8 48.8h0M50.8 47.2h0M51.2 49.7h0M51.2 47.8h0M54.4 50.4h0M53.7 48.3h0M54.2 47.6h0M49.8 46.8h0M51.5 47.6h0M54.3 48.7h0M61.0 48.5h0M57.6 48.3h0M55.3 48.8h0M61.8 49.9h0M61.4 47.3h0M58.2 49.8h0M56.0 47.6h0M56.4 47.7h0M60.2 49.3h0M61.8 47.2h0M60.0 49.5h0M56.2 47.7h0M61.9 49.4h0M55.4 48.0h0M59.5 47.7h0M58.0 47.7h0M55.6 48.9h0M58.9 49.8h0M55.0 48.6h0M55.5 49.1h0M56.1 48.4h0M61.8 49.0h0M59.7 49.0h0M56.5 49.5h0M61.7 47.3h0M60.8 48.1h0M56.4 49.4h0M60.9 47.6h0M56.4 48.9h0M56.4 48.9h0M61.8 47.1h0M57.9 47.9h0M56.2 49.2h0M61.6 48.4h0M59.0 49.3h0M68.1 49.6h0M64.3 47.4h0M68.4 48.4h0M68.1 47.1h0M67.5 47.0h0M62.9 47.3h0M64.5 48.1h0M66.7 49.5h0M65.0 48.6h0M64.9 48.0h0M63.8 46.9h0M63.8 49.1h0M67.6 48.7h0M65.1 48.1h0M63.3 47.7h0M69.0 48.4h0M64.8 48.4h0M65.4 47.7h0M64.9 48.1h0M68.4 49.3h0M64.0 48.3h0M63.6 49.8h0M62.9 48.4h0M62.1 48.4h0M65.1 46.9h0M63.1 48.4h0M65.3 47.7h0M62.3 48.0h0M64.4 47.2h0M66.1 47.4h0M65.8 48.9h0M62.1 48.5h0M66.5 49.4h0M66.9 49.2h0M66.6 47.4h0" stroke="#CBCBCB" stroke-width="1.2" stroke-linecap="round"/>
<path d="M55.2 54.3h0M56.4 52.0h0M58.7 49.4h0M58.1 52.0h0M56.9 55.5h0M58.8 54.1h0M58.6 49.2h0M59.1 51.5h0M58.2 49.8h0M56.5 52.2h0M58.7 51.7h0M58.5 51.3h0M56.3 54.1h0M57.6 53.9h0M56.5 56.8h0M58.7 50.6h0M54.2 55.1h0M57.6 50.5h0M57.5 52.6h0M56.4 53.6h0M54.5 54.4h0M57.4 51.0h0M57.9 51.5h0M58.8 50.6h0M57.2 50.7h0M57.0 54.2h0M56.2 56.6h0M55.9 54.1h0M60.0 50.2h0M58.1 49.6h0M59.1 50.3h0M58.3 54.1h0M55.1 55.4h0M57.5 54.2h0M59.7 51.3h0M60.6 50.9h0M57.8 53.2h0M57.2 55.4h0M58.9 51.2h0M57.1 54.5h0M60.0 52.1h0M58.5 52.5h0M56.7 55.4h0M57.6 51.5h0M60.2 52.3h0M54.0 54.9h0M54.4 58.6h0M54.0 59.7h0M50.7 60.8h0M52.5 61.2h0M50.3 61.1h0M53.8 57.0h0M52.8 56.4h0M52.1 61.7h0M52.7 61.5h0M54.7 56.4h0M54.8 56.6h0M51.4 61.8h0M54.8 58.4h0M52.7 59.9h0M52.4 62.9h0M53.3 59.4h0M54.4 59.2h0M53.3 58.6h0M54.8 57.7h0M51.6 58.9h0M53.5 59.6h0M54.8 56.2h0M54.8 59.1h0M52.8 59.1h0M52.9 58.1h0M53.8 61.2h0M54.7 56.3h0M52.4 60.1h0M54.6 57.9h0M52.4 61.2h0M53.7 60.2h0M52.5 60.4h0M54.2 55.6h0M50.3 60.8h0M50.6 62.2h0M53.8 59.7h0M52.4 61.1h0M54.9 58.9h0M51.9 59.9h0M53.0 62.0h0M53.8 57.2h0M53.3 56.2h0M50.9 62.3h0M53.8 57.7h0M52.4 61.6h0M52.1 60.4h0M50.5 61.9h0M52.2 60.6h0M47.9 69.8h0M49.5 68.6h0M50.5 63.8h0M48.8 64.1h0M49.0 64.2h0M51.0 66.0h0M49.8 67.7h0M47.5 70.6h0M51.3 64.0h0M50.7 63.9h0M50.0 67.4h0M49.1 68.3h0M47.9 69.2h0M49.1 64.6h0M51.8 63.6h0M49.4 62.6h0M48.2 66.7h0M49.3 71.3h0M49.8 70.6h0M47.9 68.1h0M48.5 65.5h0M48.6 69.0h0M51.2 65.6h0M50.6 63.5h0M50.4 67.5h0M50.7 67.7h0M49.5 65.1h0M50.5 64.2h0M49.3 63.5h0M48.9 64.1h0M46.6 69.6h0M49.5 65.0h0M49.2 62.9h0M50.4 69.0h0M51.9 64.6h0M48.5 65.1h0M49.1 69.4h0M50.1 69.9h0M49.7 67.4h0M49.4 63.0h0M47.3 67.5h0M48.6 67.8h0M50.7 64.0h0M48.0 69.9h0M49.2 68.0h0M51.5 66.4h0M51.3 65.1h0M52.2 64.3h0M47.0 68.3h0M47.8 68.0h0" stroke="#CBCBCB" stroke-width="1.2" stroke-linecap="round"/>
<path d="M26.8 77.3h0M28.1 76.4h0M25.7 75.4h0M27.8 73.6h0M26.9 76.7h0M31.5 74.7h0M29.0 73.3h0M28.2 75.1h0M29.9 75.5h0M29.8 75.8h0M27.9 74.6h0M24.2 76.6h0M27.0 73.1h0M26.9 73.7h0M27.3 77.1h0M30.5 71.2h0M28.8 74.1h0M24.3 76.4h0M28.3 74.2h0M27.7 72.9h0M29.3 74.4h0M26.0 76.5h0M32.4 73.6h0M29.1 74.1h0M30.0 73.2h0M29.5 73.1h0M29.2 75.1h0M29.1 74.5h0M27.0 74.8h0M29.3 73.6h0M27.5 74.6h0M26.9 76.2h0M30.4 71.6h0M29.4 74.0h0M29.6 74.5h0M26.3 73.6h0M27.2 75.4h0M30.2 75.4h0M29.7 74.3h0M27.7 76.4h0M26.3 77.9h0M28.0 74.6h0M29.8 73.8h0M31.1 70.8h0M25.1 77.3h0M25.5 75.2h0M32.1 72.1h0M26.3 75.3h0M25.5 75.3h0M26.5 78.1h0M29.7 72.9h0M26.3 78.3h0M30.2 71.3h0M31.1 72.9h0M31.7 71.9h0M26.6 73.4h0M28.2 73.4h0M30.5 71.7h0M30.7 72.1h0M31.0 73.7h0M31.7 72.6h0M26.6 74.6h0M25.3 74.8h0M34.1 70.1h0M37.7 66.9h0M36.0 70.0h0M33.6 72.1h0M34.1 72.0h0M34.0 72.7h0M33.8 69.3h0M32.7 70.3h0M32.7 70.8h0M39.5 67.7h0M35.6 71.3h0M31.9 70.2h0M38.7 67.9h0M32.8 70.2h0M38.8 70.7h0M35.6 71.2h0M35.2 69.1h0M34.2 70.2h0M34.5 72.0h0M32.5 71.2h0M37.0 67.4h0M39.9 68.6h0M36.7 68.3h0M34.2 72.4h0M38.9 66.4h0M38.0 67.7h0M32.8 72.0h0M33.4 72.8h0M38.4 67.9h0M33.2 71.5h0M37.2 67.3h0M37.0 67.8h0M34.4 69.3h0M32.7 71.8h0M35.1 72.3h0M39.6 69.2h0M36.4 70.5h0M34.6 70.6h0M36.2 69.5h0M36.2 71.5h0M40.3 68.9h0M38.5 67.9h0M32.1 70.7h0M36.5 70.9h0M38.6 70.5h0M37.9 68.2h0M32.4 71.7h0M35.3 72.0h0M39.3 68.5h0M38.6 69.7h0M36.1 69.7h0M40.2 69.3h0M37.4 71.5h0M33.7 72.4h0M36.1 69.2h0M33.2 71.8h0M38.4 67.4h0M40.1 70.1h0M33.6 71.4h0M35.6 69.5h0M40.5 66.7h0M48.0 65.7h0M47.5 64.5h0M43.2 64.6h0M43.5 66.7h0M47.1 62.7h0M44.4 63.9h0M47.2 63.3h0M45.7 65.9h0M41.6 67.1h0M42.8 65.3h0M42.4 65.0h0M46.4 67.1h0M44.1 65.6h0M43.5 64.8h0M46.2 66.0h0M40.6 67.2h0M41.3 68.3h0M40.7 69.3h0M41.1 69.0h0M41.6 67.4h0M46.4 67.0h0M46.3 63.5h0M45.5 65.1h0M41.3 67.2h0M46.6 62.8h0M45.6 65.6h0M46.9 64.6h0M42.6 68.4h0M41.2 68.3h0M41.6 65.3h0M41.9 68.6h0M42.0 68.9h0M41.9 69.0h0M40.7 68.4h0M44.4 66.4h0M46.8 63.6h0M48.0 64.6h0M46.0 64.1h0M48.3 65.1h0M43.2 65.2h0M47.0 65.0h0M48.5 65.7h0M46.3 66.0h0M41.9 68.6h0M45.0 63.9h0M39.9 66.3h0M42.2 68.1h0M46.4 65.9h0M43.7 68.2h0M40.7 66.5h0M43.1 65.5h0M46.4 66.5h0M45.6 64.6h0M44.3 65.2h0M44.4 66.1h0M41.8 68.7h0M46.9 66.0h0M40.3 66.7h0M53.5 61.6h0M53.0 62.7h0M50.0 61.3h0M50.5 61.3h0M51.1 63.3h0M50.5 63.4h0M50.6 59.9h0M52.1 63.0h0M53.0 62.2h0M53.2 62.7h0M48.0 63.9h0M49.8 64.2h0M50.2 63.4h0M51.0 59.5h0M51.5 60.7h0M49.9 63.5h0M51.3 60.3h0M51.5 59.5h0M49.2 65.3h0M55.0 61.2h0M54.9 60.2h0M51.7 61.6h0M52.4 63.1h0M54.0 59.4h0M49.3 63.4h0M51.4 63.2h0M54.2 60.2h0M48.5 64.0h0M48.8 63.8h0M53.6 60.8h0M50.1 60.9h0M54.8 60.9h0M50.0 60.5h0M52.1 60.7h0M50.2 62.0h0M48.8 61.8h0M52.2 61.2h0M51.3 63.0h0M50.4 60.8h0M49.8 63.2h0M52.6 61.5h0M52.4 60.2h0M53.1 60.8h0M48.7 61.9h0M52.8 62.3h0M54.8 60.7h0M53.5 60.6h0M49.0 62.4h0M53.0 59.4h0M51.2 62.1h0M47.1 63.0h0M49.9 64.3h0M52.0 59.1h0M50.1 65.1h0M49.7 64.4h0" stroke="#CBCBCB" stroke-width="1.2" stroke-linecap="round"/>
<path d="M294.2 68.8h0M293.3 69.1h0M268.3 72.8h0M268.1 73.8h0M244.0 91.3h0M243.8 92.3h0M276.0 70.9h0M276.2 71.9h0M286.1 61.9h0M285.2 61.6h0M284.4 63.2h0M283.5 63.7h0M259.0 96.9h0M258.5 97.8h0M266.6 66.1h0M266.0 66.9h0M278.5 67.5h0M279.4 67.0h0M258.5 66.9h0M267.1 79.4h0M266.5 80.2h0M259.5 84.2h0M259.3 85.2h0M287.1 70.0h0M286.1 69.7h0M270.0 71.8h0M279.1 68.4h0M278.1 68.3h0M276.9 84.5h0M276.5 85.4h0M275.7 86.0h0M275.1 86.8h0M257.5 83.0h0M258.4 83.5h0M255.1 83.4h0M254.9 84.4h0M270.5 86.7h0M270.5 87.7h0M277.2 71.2h0M278.0 71.8h0M282.7 68.6h0M283.3 69.4h0M272.7 58.5h0M283.6 65.4h0M284.5 65.3h0M241.8 85.8h0M240.8 86.0h0M285.8 68.4h0M286.0 69.3h0M261.8 95.8h0M261.9 94.8h0M285.8 83.0h0M278.0 74.6h0M277.4 73.8h0M244.3 88.7h0M245.1 89.2h0M284.4 67.5h0M284.0 66.6h0M274.4 79.5h0M275.2 80.2h0M257.9 73.9h0M258.5 74.7h0M244.8 86.3h0M244.0 85.8h0M251.0 78.2h0M250.1 77.8h0M270.0 70.6h0M270.5 69.7h0M281.7 63.6h0M281.4 62.7h0M264.0 88.8h0M278.2 75.4h0M279.2 75.8h0M241.7 86.8h0M242.7 86.8h0M243.1 77.1h0M242.6 78.0h0M291.1 83.7h0M291.2 82.7h0M275.3 67.1h0M276.0 67.9h0M286.4 69.0h0M286.6 70.0h0M246.7 89.6h0M247.5 89.0h0M285.6 70.0h0M284.8 70.7h0M258.6 91.6h0M259.3 92.2h0M270.3 83.0h0M271.0 82.3h0M254.4 81.0h0M255.1 81.8h0M248.0 87.0h0M248.8 87.6h0M261.9 68.5h0M260.9 68.5h0M256.7 75.0h0M256.8 74.0h0M254.2 75.2h0M253.2 75.1h0M255.9 75.9h0M256.7 76.5h0M293.6 82.7h0M293.2 81.7h0M276.7 82.2h0M276.3 83.1h0M293.1 76.8h0M292.3 76.3h0M257.0 93.9h0M258.0 93.5h0M276.9 75.4h0M277.6 76.1h0M268.1 80.3h0M267.9 81.3h0M247.4 94.1h0M246.5 94.4h0M287.7 67.2h0M288.5 67.8h0M251.6 77.1h0M250.6 77.3h0M270.6 61.3h0M269.6 61.0h0M287.8 79.7h0M288.1 78.8h0M279.4 60.8h0M279.7 59.9h0M270.0 89.2h0M270.2 90.2h0M271.9 65.5h0M271.2 66.3h0M261.8 93.0h0M270.0 95.2h0M270.2 94.2h0M280.8 70.9h0M281.2 70.0h0M285.6 61.7h0M284.6 62.0h0M239.3 82.0h0M240.0 82.6h0M284.2 61.3h0M285.2 61.1h0M263.1 91.9h0M262.2 92.1h0M284.1 64.3h0M283.1 64.4h0M277.4 73.6h0M268.6 85.6h0M269.5 85.2h0M245.6 77.7h0M246.6 77.4h0M285.1 85.2h0M284.4 85.8h0M246.1 92.2h0M245.1 92.2h0M272.9 59.7h0M272.9 60.7h0M290.6 81.1h0M258.1 76.2h0M257.5 77.1h0M263.9 98.1h0M264.8 97.8h0M276.4 68.0h0M276.3 69.0h0M252.2 80.5h0M251.7 79.7h0M269.9 89.0h0M270.8 88.7h0M274.2 83.3h0M273.9 84.2h0M254.7 88.7h0M254.6 87.7h0M274.3 71.3h0M273.3 71.1h0M288.3 75.6h0M287.3 75.8h0M255.0 87.2h0M254.5 86.3h0M256.9 95.4h0M255.9 95.6h0M247.3 81.0h0M248.2 80.7h0M282.5 74.6h0M282.5 73.6h0M265.4 94.4h0M265.7 95.4h0M252.6 86.2h0M252.9 87.2h0M248.6 81.9h0M249.4 81.4h0M248.3 87.5h0M249.3 87.4h0M241.4 90.7h0M241.9 89.8h0M268.5 93.4h0M268.6 92.4h0M281.1 83.9h0M280.1 84.2h0M273.8 70.6h0M272.8 70.5h0M251.9 76.1h0M252.6 76.8h0M270.1 98.2h0M279.6 70.4h0M280.6 70.4h0M245.1 88.9h0M245.6 89.8h0M261.8 79.2h0M260.9 78.6h0M272.3 70.5h0M271.8 69.6h0M278.8 88.7h0M278.6 87.7h0M275.5 89.2h0M274.5 89.2h0M250.2 88.4h0M251.2 88.1h0M292.3 71.9h0M293.3 72.3h0M282.8 66.7h0M283.8 66.6h0M274.4 71.0h0M274.6 70.1h0M255.9 94.6h0M256.3 95.5h0M240.6 83.7h0M239.6 83.7h0M240.3 80.3h0M239.3 80.1h0M292.6 83.0h0M252.2 74.8h0M252.8 75.6h0M281.6 83.6h0M280.7 84.0h0M249.5 80.5h0M249.5 81.5h0M288.2 67.8h0M288.7 66.9h0M265.4 94.1h0M265.7 95.1h0M272.1 75.6h0M271.7 74.7h0M249.1 93.8h0M248.2 94.2h0M287.8 64.2h0M288.8 64.2h0M245.6 87.6h0M246.6 87.6h0M277.1 60.3h0M276.2 60.6h0M279.1 93.7h0M279.7 92.9h0M250.6 89.9h0M249.7 89.6h0M266.2 67.2h0M255.4 93.6h0M256.2 94.2h0M247.3 85.4h0M247.5 86.4h0M266.3 61.2h0M265.7 62.0h0M291.1 71.2h0M290.5 72.1h0M289.0 87.4h0M275.4 79.5h0M274.6 78.9h0M279.2 73.3h0M278.9 74.3h0M294.3 72.8h0M293.7 73.6h0M237.0 82.2h0M237.6 81.4h0M272.9 72.4h0M273.4 73.2h0M243.6 92.1h0M244.4 91.5h0M239.6 85.8h0M239.0 86.5h0M269.2 69.8h0M269.7 68.9h0M280.9 92.5h0M279.9 92.3h0M274.0 87.9h0M273.0 88.2h0M260.0 78.7h0M259.3 78.0h0M273.9 79.4h0M273.9 80.4h0M252.4 94.8h0M251.4 94.6h0M267.6 76.6h0M268.3 77.3h0M291.6 78.8h0M290.6 78.6h0M284.9 66.6h0M284.8 67.6h0M263.9 83.5h0M264.9 83.5h0M257.8 90.4h0M256.8 90.3h0M263.3 76.7h0M262.8 75.8h0M277.0 72.0h0M276.0 72.3h0M258.6 70.9h0M258.7 71.9h0M248.6 80.6h0M249.6 80.4h0M279.2 68.1h0M274.4 92.7h0M274.8 93.6h0M283.6 82.6h0M283.7 83.6h0M262.9 72.0h0M262.8 73.0h0M275.1 90.7h0M274.6 91.6h0M271.0 95.5h0M270.5 96.4h0M278.8 72.2h0M278.1 71.5h0M240.9 88.4h0M240.1 89.1h0M266.1 94.5h0M265.4 93.8h0M271.8 76.0h0M270.9 75.7h0M261.3 76.5h0M260.3 76.9h0M267.0 91.3h0M266.9 90.3h0M276.9 79.9h0M277.5 79.1h0M242.3 90.9h0M281.3 80.3h0M282.1 80.9h0M278.8 76.9h0M279.6 77.5h0M261.4 81.1h0M262.3 80.7h0M251.8 92.7h0M250.9 92.4h0M261.6 58.7h0M239.8 79.2h0M239.1 79.9h0M284.1 65.0h0M285.1 64.6h0M268.3 73.8h0M267.3 73.7h0M252.9 90.1h0M252.3 90.9h0M284.2 81.5h0M283.3 81.0h0M263.0 93.6h0M264.0 93.8h0M274.5 58.6h0M272.0 64.1h0M272.9 63.7h0M284.1 77.5h0M283.9 76.5h0M286.3 62.7h0M286.8 61.8h0M290.3 85.4h0M286.2 68.9h0M286.2 69.9h0M255.6 80.2h0M255.4 81.1h0M255.9 92.0h0M256.0 93.0h0M294.7 73.0h0M274.6 65.9h0M273.7 66.4h0M276.9 61.3h0M276.7 60.3h0M292.3 78.7h0M292.3 79.7h0M281.1 77.5h0M281.5 76.5h0M265.4 93.0h0M264.6 92.3h0M252.8 94.2h0M252.9 93.2h0M272.1 97.3h0M271.2 97.5h0M275.6 58.6h0M275.1 59.5h0M251.3 87.8h0M251.3 88.8h0M269.8 60.5h0M269.1 59.8h0M272.0 76.0h0M272.9 76.2h0M242.5 83.8h0M243.0 84.6h0M257.6 72.3h0M256.7 71.9h0M256.3 92.0h0M257.0 91.3h0M264.4 63.4h0M263.4 63.2h0M260.6 65.1h0M261.5 65.4h0M288.3 77.7h0M288.3 76.7h0M292.5 77.1h0M292.9 76.2h0M277.5 66.2h0M276.9 65.4h0M270.9 66.4h0M270.5 65.5h0M278.8 59.1h0M278.6 60.1h0M273.3 85.7h0M273.4 84.7h0M284.7 76.0h0M284.9 75.0h0M292.4 73.9h0M292.1 74.9h0M251.2 87.5h0M250.3 87.0h0M265.1 77.5h0M266.1 77.4h0M274.4 64.9h0M274.2 63.9h0M283.3 60.4h0M276.5 88.0h0M276.7 89.0h0M280.8 91.6h0M281.3 90.7h0M262.5 91.3h0M263.2 90.7h0M254.4 97.1h0M253.9 96.2h0M283.3 67.1h0M283.4 66.1h0M248.4 75.8h0M248.5 76.8h0M290.5 85.4h0M290.0 84.5h0M283.1 90.0h0M283.5 89.1h0M285.6 73.6h0M286.3 74.4h0M286.2 70.8h0M285.8 69.9h0M265.7 57.2h0M266.0 58.1h0M257.6 92.1h0M256.7 91.8h0M278.2 75.2h0M278.2 74.2h0M243.8 85.3h0M244.5 86.1h0M293.4 71.8h0M292.9 72.7h0M272.8 94.2h0M272.0 94.8h0M293.3 77.9h0M294.1 77.3h0M285.9 63.3h0M285.1 64.0h0M263.6 90.7h0M263.9 91.6h0M242.7 79.8h0M243.3 79.1h0M259.0 95.7h0M259.9 95.3h0M241.2 82.8h0M240.3 82.4h0M258.1 84.4h0M257.3 83.8h0M267.6 85.1h0M268.4 84.5h0M258.2 97.7h0M277.2 80.0h0M276.2 79.9h0M289.5 87.3h0M288.7 86.6h0M245.3 81.3h0M244.3 81.6h0M259.9 88.0h0M259.3 88.8h0M253.9 79.5h0M253.0 79.1h0M275.1 90.5h0M274.5 89.7h0M277.6 68.2h0M278.0 69.1h0M285.6 90.0h0M267.2 93.5h0M267.4 94.5h0M259.4 97.3h0M260.1 96.6h0M255.0 96.3h0M255.6 97.1h0M262.6 61.1h0M262.8 62.1h0M259.5 97.2h0M259.9 98.1h0M290.5 75.5h0M291.2 74.8h0M282.8 69.8h0M282.9 70.8h0M264.5 80.1h0M264.2 79.2h0M258.2 95.2h0M257.2 95.4h0M274.0 67.5h0M273.4 66.7h0M285.6 80.4h0M284.6 80.5h0M240.8 79.6h0M241.2 78.7h0M261.1 90.6h0M262.1 90.9h0M274.2 85.7h0M274.2 84.7h0M256.9 73.1h0M257.0 72.1h0M247.7 93.3h0M246.7 93.0h0M276.3 94.5h0M277.2 95.1h0M266.4 92.5h0M266.1 91.5h0M286.3 62.9h0M286.3 61.9h0M266.3 94.4h0M267.3 94.2h0M285.3 83.9h0M285.4 82.9h0M278.4 86.2h0M277.4 85.9h0M240.7 82.0h0M240.7 81.0h0M242.3 85.0h0M243.2 85.4h0M258.0 86.0h0M258.5 86.9h0M274.0 62.4h0M274.5 63.2h0M263.1 79.9h0M263.8 80.7h0M274.0 70.9h0M273.4 71.7h0M249.6 90.0h0M249.3 90.9h0M284.6 79.2h0M285.3 79.8h0M261.8 59.2h0M271.3 73.4h0M270.4 73.2h0M250.1 93.1h0M251.0 93.6h0M293.6 70.4h0M294.3 69.6h0M265.0 62.1h0M264.0 62.1h0M278.6 75.7h0M278.6 76.7h0M280.3 78.3h0M279.7 79.1h0M278.4 64.8h0M278.2 65.8h0M279.3 59.1h0M280.2 59.6h0M287.8 87.0h0M286.9 86.6h0M263.6 60.8h0M264.6 60.9h0M282.7 76.4h0M283.5 77.0h0M283.7 76.6h0M283.5 75.6h0M243.1 80.3h0M242.3 80.7h0M249.4 81.2h0M249.4 82.2h0M285.9 89.7h0M289.3 79.0h0M290.3 79.2h0M273.7 93.9h0M272.7 93.7h0M290.3 72.6h0M291.0 73.4h0M263.7 81.2h0M263.3 80.3h0M240.7 87.1h0M241.7 87.4h0M260.4 84.9h0M260.2 85.9h0M277.7 76.4h0M277.6 77.4h0M272.2 59.1h0M271.4 59.8h0M283.4 91.3h0M283.1 90.3h0M250.9 95.8h0M291.8 83.5h0M292.4 82.6h0M281.5 60.9h0M282.5 61.1h0M247.8 90.6h0M248.3 91.4h0M243.0 89.7h0M244.0 89.8h0M269.6 91.2h0M268.6 90.9h0M271.9 90.2h0M272.8 89.9h0M269.0 68.8h0M269.0 69.8h0M263.8 61.7h0M262.9 61.3h0M262.1 61.2h0M263.1 61.1h0M279.9 92.4h0M279.8 91.4h0M258.5 69.3h0M257.9 68.4h0M272.6 97.8h0M271.9 97.1h0M277.7 81.8h0M276.7 81.7h0M260.8 82.3h0M261.8 82.2h0M286.3 86.7h0M287.1 87.2h0M287.0 74.7h0M287.2 73.7h0M292.5 75.1h0M291.9 74.4h0M262.9 97.9h0M263.1 96.9h0M281.8 91.8h0M250.4 93.9h0M251.1 93.2h0M282.3 89.2h0M283.3 89.0h0M268.2 60.9h0M268.3 59.9h0M273.8 72.0h0M273.3 71.1h0M246.2 78.9h0M245.7 78.1h0M292.2 73.7h0M293.2 73.5h0M252.1 86.7h0M252.9 86.1h0M262.6 85.5h0M263.0 84.6h0M238.3 85.7h0M239.0 86.4h0M271.7 84.2h0M271.1 83.4h0M243.4 77.3h0M244.4 77.5h0M252.9 89.0h0M253.8 89.4h0M254.6 73.8h0M254.2 72.9h0M279.8 60.5h0M280.6 59.9h0M285.8 66.0h0M286.7 65.7h0M276.4 68.2h0M277.3 67.7h0M275.7 81.3h0M274.8 80.8h0M294.9 72.7h0M294.4 71.8h0M258.2 87.0h0M258.4 88.0h0M267.7 61.2h0M267.2 62.1h0M253.6 72.6h0M259.4 71.9h0M258.6 71.4h0M239.7 84.5h0M239.8 83.5h0M278.8 60.5h0M279.6 61.1h0M262.8 61.5h0M263.7 61.7h0M264.5 96.0h0M263.6 96.4h0M249.9 87.9h0M249.4 87.0h0M267.8 66.6h0M267.6 67.6h0M252.4 95.5h0M251.4 95.3h0M275.9 71.7h0M275.9 72.7h0M265.2 64.1h0M266.2 64.4h0M267.2 57.5h0M266.2 57.3h0M268.5 66.4h0M267.5 66.2h0M275.2 62.6h0M276.2 62.2h0M280.5 92.7h0M279.5 92.8h0M272.1 94.5h0M273.1 94.6h0M281.9 80.6h0M264.9 78.1h0M264.3 77.4h0M273.5 65.6h0M273.5 64.6h0M255.7 73.7h0M255.0 74.3h0M246.3 91.4h0M247.3 91.6h0M252.0 75.7h0M251.2 75.0h0M267.6 81.0h0M267.7 80.0h0M271.4 75.6h0M270.4 75.5h0M275.9 92.8h0M276.6 92.2h0M292.5 73.7h0M292.9 74.6h0M261.6 78.8h0M262.2 78.0h0M267.1 61.4h0M266.8 62.4h0M271.4 90.3h0M272.4 90.5h0M289.8 80.6h0M289.9 81.6h0M258.4 78.6h0M259.0 79.4h0M273.7 76.4h0M273.7 75.4h0M276.8 86.4h0M275.9 86.1h0M251.2 74.0h0M260.9 97.1h0M261.4 96.2h0M280.2 71.7h0M280.2 70.7h0M271.2 96.3h0M270.2 96.0h0M278.4 75.0h0M278.9 75.8h0M237.7 85.0h0M238.5 85.7h0M286.2 83.6h0M285.8 82.7h0M282.1 69.2h0M281.5 70.0h0M272.3 92.4h0M273.1 91.8h0M268.4 87.1h0M269.0 87.9h0M267.6 70.0h0M266.8 70.5h0M242.1 82.8h0M241.4 82.1h0M283.6 87.3h0M283.0 88.1h0M247.9 95.7h0M245.8 85.7h0M244.9 86.1h0M250.3 90.1h0M249.9 89.2h0M271.4 64.6h0M271.7 63.6h0M283.5 66.3h0M284.2 67.0h0M270.1 62.3h0M270.4 63.3h0M243.1 83.3h0M243.6 84.1h0M261.8 79.0h0M262.6 79.6h0M274.6 85.7h0M274.4 84.7h0M275.9 67.5h0M276.8 68.0h0M282.4 91.4h0M282.9 90.6h0M283.7 69.6h0M283.0 70.3h0M240.0 82.2h0M241.0 82.0h0M267.1 62.9h0M268.1 63.1h0M279.1 78.8h0M278.6 78.0h0M265.3 67.2h0M265.8 68.0h0M264.9 86.6h0M264.8 85.6h0M263.2 95.6h0M264.1 95.4h0M274.4 68.3h0M274.9 69.1h0M240.8 88.2h0M240.8 87.2h0M282.2 62.2h0M283.2 62.1h0M246.4 78.9h0M246.3 77.9h0M247.0 88.8h0M246.3 89.5h0M252.1 87.8h0M253.1 87.8h0M264.7 96.9h0M263.7 96.6h0M264.2 86.7h0M265.2 87.0h0M284.9 70.8h0M285.3 71.7h0M264.5 98.3h0M280.8 70.9h0M281.3 71.8h0M281.9 82.1h0M282.9 82.3h0M256.1 92.3h0M256.1 91.3h0M258.4 72.3h0M257.9 73.2h0M290.5 73.8h0M290.5 72.8h0M281.4 66.8h0M282.4 66.9h0M281.4 90.8h0M281.1 91.8h0M259.2 91.9h0M259.8 92.7h0M256.6 91.1h0M255.7 91.5h0M280.8 85.1h0M279.8 84.9h0M288.2 79.6h0M287.4 80.2h0M283.0 89.5h0M283.3 88.5h0M240.7 87.8h0M241.1 88.7h0M260.5 90.4h0M261.3 89.8h0M274.1 94.3h0M273.3 93.7h0M280.1 69.6h0M280.9 69.0h0M243.0 81.3h0M243.5 80.4h0M265.4 74.1h0M264.5 73.6h0M258.2 71.8h0M259.1 71.9h0M244.1 95.1h0M245.0 95.5h0M242.2 78.6h0M243.0 78.0h0M280.8 90.3h0M280.3 91.2h0M295.5 74.8h0M294.5 75.2h0M280.0 64.4h0M279.1 64.1h0M276.3 62.5h0M277.1 63.1h0M269.9 90.1h0M269.6 91.0h0M269.3 88.6h0M269.8 87.7h0M291.4 65.3h0M293.2 78.1h0M294.2 77.7h0M245.2 83.1h0M245.4 82.2h0M272.3 67.4h0M272.3 68.4h0M267.1 76.3h0M268.0 76.0h0M256.8 86.8h0M256.4 85.9h0M251.8 78.3h0M252.1 79.3h0M290.2 65.0h0M289.6 64.2h0M281.1 86.6h0M280.4 85.8h0M262.9 60.1h0M263.5 61.0h0M276.8 62.5h0M275.8 62.5h0M282.1 66.8h0M282.9 67.4h0M255.4 77.8h0M262.7 97.6h0M262.0 96.9h0M264.6 64.9h0M265.6 65.2h0M241.0 86.1h0M242.0 85.7h0M257.7 74.4h0M256.8 75.0h0M259.9 62.9h0M260.7 62.3h0M279.8 71.5h0M279.8 70.5h0M269.5 84.5h0M270.2 83.7h0M271.6 85.1h0M270.7 85.3h0M269.2 73.5h0M270.1 73.9h0M289.7 71.3h0M289.1 70.4h0M274.5 76.6h0M274.2 77.6h0M272.8 89.7h0M272.9 90.7h0M259.7 71.8h0M256.4 91.2h0M256.6 92.1h0M240.2 90.5h0M241.1 90.9h0M280.1 86.9h0M281.1 87.1h0M269.3 95.4h0M269.6 96.4h0M262.4 64.6h0M263.0 63.8h0M288.4 88.3h0M288.3 87.3h0M278.6 83.1h0M279.6 83.2h0M247.4 82.2h0M247.8 81.3h0M280.3 59.0h0M283.5 80.8h0M282.6 80.4h0M272.3 70.7h0M271.3 70.6h0M269.9 62.5h0M270.5 63.3h0M284.2 89.7h0M283.5 90.4h0M283.9 74.0h0M283.6 73.0h0M279.8 73.8h0M280.7 74.3h0M291.7 82.5h0M291.5 83.4h0M252.6 94.6h0M253.3 93.9h0M277.4 69.9h0M277.1 69.0h0M272.9 63.2h0M273.5 62.4h0M253.0 95.4h0M253.3 96.4h0M281.5 62.8h0M290.4 81.3h0M289.5 80.9h0M241.9 89.3h0M242.8 89.5h0M243.4 93.3h0M242.4 93.2h0M251.9 87.3h0M250.9 87.1h0M265.9 87.0h0M265.9 88.0h0M295.8 74.5h0M295.2 73.7h0M281.6 75.8h0M282.1 74.9h0M292.9 76.5h0M293.3 77.4h0M245.3 85.2h0M245.6 86.1h0M268.7 87.7h0M269.2 88.6h0M259.0 67.0h0M265.0 60.2h0M266.0 59.9h0M264.5 86.8h0M263.5 87.0h0M284.9 61.6h0M285.3 62.5h0M291.8 76.5h0M291.5 75.5h0M290.7 65.8h0M291.7 65.5h0M274.0 79.0h0M274.6 78.1h0M284.4 85.3h0M283.9 84.4h0M264.1 91.2h0M265.0 91.7h0M246.2 85.4h0M245.2 85.2h0M258.5 79.9h0M257.5 79.9h0M289.2 72.0h0M290.0 72.6h0M245.0 81.1h0M245.9 80.7h0M269.1 69.7h0M270.0 69.4h0M274.0 80.3h0M275.0 80.3h0M258.1 96.6h0M257.5 95.8h0M287.8 84.8h0M287.0 85.4h0M269.4 65.2h0M268.6 65.8h0M286.2 84.7h0M286.6 83.8h0M294.1 69.7h0M293.2 70.1h0M261.3 94.6h0M260.9 93.7h0M247.3 91.6h0M247.5 92.6h0M252.5 93.7h0M251.6 93.9h0M293.9 73.6h0M293.0 73.1h0M243.2 88.0h0M243.7 88.9h0M258.3 84.4h0M258.9 85.2h0M273.7 85.1h0M269.3 71.6h0M269.8 70.8h0M245.5 81.3h0M245.3 80.4h0M266.5 80.7h0M265.6 81.2h0M261.7 66.5h0M261.2 67.4h0M282.0 65.9h0M282.1 64.9h0M263.5 77.7h0M262.5 77.7h0M275.1 74.4h0M274.7 75.3h0M292.1 66.8h0M293.0 67.4h0M255.9 94.9h0M255.5 94.0h0M243.9 92.3h0M243.0 92.0h0M273.7 59.0h0M272.7 59.2h0M242.8 87.8h0M242.6 86.9h0M246.7 84.8h0M245.7 84.9h0M260.3 64.9h0M260.9 65.6h0M252.5 84.8h0M252.8 85.7h0M277.5 74.7h0M278.4 74.9h0M268.8 98.3h0M269.2 97.4h0M276.4 77.4h0M276.3 76.4h0M264.7 62.5h0M264.0 63.2h0M277.3 85.9h0M277.1 85.0h0M239.4 86.7h0M239.0 85.8h0M271.2 87.0h0M270.4 87.6h0M294.6 75.0h0M295.4 74.3h0M279.7 93.0h0M278.7 92.8h0M288.3 86.8h0M289.2 87.2h0M255.5 94.9h0M256.3 94.2h0M271.5 97.4h0M271.7 96.4h0M270.2 64.8h0M269.2 64.7h0M256.7 72.3h0M255.7 72.0h0M276.0 64.3h0M275.0 64.5h0M282.3 86.2h0M282.5 85.2h0M251.4 95.6h0M250.5 95.7h0M253.9 73.5h0M254.2 72.5h0M265.3 87.4h0M265.6 88.3h0M257.9 69.4h0M280.1 65.3h0M279.7 66.2h0M275.5 85.0h0M293.6 78.6h0M294.0 77.7h0M284.3 66.2h0M284.5 67.2h0M283.8 87.6h0M282.9 87.9h0M252.7 77.1h0M253.1 76.2h0M256.3 92.4h0M257.0 91.7h0M248.1 89.1h0M248.0 90.1h0M290.1 75.0h0M289.3 75.5h0M258.7 88.6h0M258.0 89.3h0M273.7 64.5h0M274.6 64.9h0M272.9 68.9h0M272.5 69.8h0M290.5 66.3h0M289.7 65.7h0M256.0 83.7h0M255.2 83.1h0M255.1 74.1h0M254.1 74.2h0M250.9 92.6h0M250.8 93.6h0M283.8 90.7h0M283.3 91.5h0M265.1 98.2h0M266.1 98.3h0M250.2 82.9h0M250.9 82.2h0M269.2 72.8h0M268.8 71.9h0M252.1 88.3h0M251.2 87.8h0M253.8 86.1h0M253.3 85.3h0M246.7 78.0h0M245.8 78.3h0M287.7 65.3h0M288.2 64.5h0M256.6 82.4h0M255.6 82.4h0M275.6 79.0h0M275.4 79.9h0M286.7 70.8h0M285.8 70.5h0M258.1 73.5h0M258.3 74.4h0M276.1 75.3h0M275.6 76.2h0M283.5 75.8h0M283.8 74.8h0M277.1 85.0h0M276.1 85.1h0M274.6 86.7h0M244.8 82.4h0M245.2 83.3h0M255.3 79.7h0M256.0 80.5h0M273.2 62.2h0M272.6 63.0h0M269.0 82.5h0M269.3 81.6h0M249.9 75.2h0M250.4 74.4h0M281.3 71.9h0M280.4 71.4h0M285.4 84.0h0M286.0 84.8h0M252.5 92.2h0M252.4 93.2h0M267.5 57.2h0M285.8 85.6h0M285.2 84.8h0M248.7 94.4h0M249.0 95.4h0M241.0 82.8h0M242.0 83.0h0M262.8 90.1h0M261.9 90.7h0M284.7 87.4h0M285.5 88.0h0M291.3 78.8h0M245.2 86.0h0M244.2 85.7h0M263.7 64.8h0M263.1 65.6h0M285.9 67.0h0M285.4 66.1h0M293.2 72.0h0M292.2 72.0h0M238.3 88.3h0M238.9 87.5h0M257.3 87.4h0M256.6 86.7h0M267.8 63.0h0M268.6 62.5h0M266.7 89.7h0M266.6 90.7h0M257.6 90.8h0M258.6 91.0h0M274.3 76.9h0M273.5 77.4h0M249.6 75.0h0M250.4 75.5h0M251.7 91.6h0M250.9 91.1h0M273.8 61.8h0M273.6 60.8h0M276.8 90.9h0M275.9 91.0h0M266.9 62.8h0M266.4 63.7h0M247.5 80.9h0M247.9 81.8h0M268.5 75.1h0M267.7 74.5h0M282.1 80.6h0M281.2 80.8h0M282.9 69.4h0M282.3 68.6h0M270.6 83.9h0M269.9 84.6h0M240.6 83.6h0M239.7 83.1h0M269.3 87.4h0M269.6 88.4h0M264.0 72.2h0M263.3 71.5h0M278.0 89.4h0M278.8 88.9h0M238.9 88.4h0M292.8 78.1h0M291.9 78.6h0M282.2 91.6h0M281.5 92.2h0M260.8 94.1h0M259.8 94.4h0M269.8 76.0h0M268.8 76.0h0M269.7 93.0h0M270.7 93.3h0M237.5 83.0h0M237.4 82.0h0M264.5 62.0h0M263.9 62.8h0M279.8 65.1h0M279.4 64.2h0M262.8 70.2h0M263.0 71.2h0M276.4 68.6h0M276.3 67.6h0M269.0 90.6h0M269.4 91.5h0M238.2 87.1h0M243.9 78.6h0M243.0 79.0h0M294.1 70.1h0M294.0 69.1h0M263.3 93.4h0M263.7 94.3h0M281.9 68.2h0M282.4 69.0h0M261.9 96.1h0M262.3 95.2h0M235.8 87.3h0M234.8 87.0h0M232.7 97.8h0M231.7 97.5h0M229.0 103.7h0M231.4 98.7h0M231.6 97.7h0M231.7 96.3h0M230.8 96.8h0M232.6 101.4h0M230.0 100.5h0M229.1 100.9h0M231.3 100.7h0M232.2 100.3h0M235.2 88.7h0M235.7 89.6h0M235.8 89.7h0M236.1 88.8h0M237.5 91.2h0M237.6 92.2h0M237.7 92.6h0M238.4 93.4h0M235.7 96.6h0M234.8 97.0h0M238.0 87.9h0M237.8 86.9h0M235.5 95.9h0M235.3 95.0h0M233.5 90.6h0M233.1 91.5h0M235.7 96.4h0M236.1 95.5h0M237.1 96.3h0M236.1 96.6h0M230.8 98.9h0M231.8 98.8h0M236.6 94.0h0M235.6 93.7h0M229.7 98.5h0M230.0 97.5h0M236.8 97.5h0M232.7 93.3h0M233.7 92.9h0M234.1 90.0h0M233.8 91.0h0M230.7 98.0h0M234.1 96.5h0M235.1 96.4h0M229.9 97.3h0M230.8 97.8h0M231.4 94.8h0M231.1 95.8h0M234.3 87.7h0M235.1 90.8h0M236.1 90.8h0M238.1 90.2h0M237.2 89.9h0M230.3 100.0h0M229.4 99.5h0M233.7 99.3h0M234.7 99.3h0M231.9 97.0h0M230.7 102.2h0M231.3 102.9h0M236.9 90.0h0M236.6 91.0h0M235.7 95.5h0M234.7 95.2h0M236.9 88.8h0M236.3 88.1h0M238.7 88.6h0M239.0 87.7h0M230.4 98.8h0M229.5 99.0h0M236.9 95.1h0M237.0 96.1h0M237.2 89.6h0M238.2 89.8h0M227.8 100.1h0M230.8 101.3h0M231.4 100.6h0M235.4 98.5h0M236.1 97.8h0M233.6 88.1h0M234.5 87.9h0M229.6 98.7h0M228.7 98.4h0M230.2 100.2h0M229.2 99.8h0M231.0 102.2h0M236.3 87.2h0M235.3 86.9h0M229.7 98.1h0M230.3 97.3h0M236.7 95.6h0M235.9 95.1h0M230.2 99.5h0M230.7 100.4h0M230.2 101.9h0M229.5 101.2h0M238.7 94.0h0M238.2 93.2h0M236.5 88.5h0M232.8 92.8h0M233.7 92.5h0M234.8 99.6h0M230.5 95.3h0M230.4 96.3h0M228.3 103.0h0M228.3 102.0h0M237.2 92.6h0M237.1 91.6h0M236.3 94.4h0M235.8 95.3h0M231.9 96.5h0M232.9 96.6h0M234.7 92.4h0M235.7 92.3h0M233.2 96.6h0M232.4 96.1h0M231.9 92.2h0M231.4 93.1h0M233.6 93.6h0M233.9 94.5h0M232.9 94.0h0M233.9 94.0h0M229.6 100.3h0M228.6 100.6h0M235.5 92.7h0M236.5 92.8h0M233.7 97.9h0M234.5 98.5h0M236.0 98.4h0M228.9 101.0h0M227.9 100.9h0M201.4 126.4h0M200.6 127.0h0M202.8 124.7h0M196.6 120.3h0M196.3 119.4h0M204.8 127.4h0M205.0 128.3h0M203.4 121.3h0M203.0 120.4h0M204.4 125.3h0M205.4 125.0h0M196.3 120.0h0M196.6 119.0h0M204.3 124.0h0M205.1 124.7h0M194.5 123.8h0M195.4 123.4h0M202.7 128.0h0M202.0 127.3h0M203.9 126.6h0M204.1 127.6h0M201.4 127.5h0M202.1 128.3h0M196.8 118.4h0M195.9 118.9h0M201.1 119.5h0M200.3 118.8h0M192.3 120.6h0M206.7 130.5h0M203.2 125.1h0M202.5 125.7h0M196.5 121.6h0M197.0 122.5h0M195.5 120.1h0M196.4 120.5h0M195.1 125.3h0M194.3 126.0h0M200.1 128.1h0M199.7 127.2h0M207.3 128.4h0M206.4 128.1h0M196.5 118.9h0M197.4 118.4h0M203.3 120.4h0M202.6 119.7h0M196.9 124.2h0M196.0 123.7h0M202.0 123.1h0M202.7 122.5h0M195.5 118.7h0M196.7 122.7h0M197.5 122.2h0M208.2 129.8h0M208.4 130.8h0M206.0 128.1h0M206.2 127.2h0M203.7 121.6h0M203.2 120.7h0M205.2 123.8h0M205.2 122.8h0M199.5 118.1h0M200.3 117.6h0M207.8 130.8h0M203.8 125.7h0M204.5 126.5h0M198.5 125.6h0M198.5 124.6h0M204.0 120.0h0M204.0 121.0h0M202.7 125.4h0M203.5 126.0h0M198.2 117.8h0M198.9 117.2h0M208.0 129.1h0M207.1 128.5h0M203.2 124.1h0M202.5 124.7h0M198.2 120.8h0M198.3 121.8h0M202.3 125.2h0M203.1 124.6h0M196.5 121.5h0M197.3 122.1h0M203.3 127.5h0M203.0 126.6h0M203.8 120.0h0M203.0 119.5h0M192.7 120.0h0M193.1 120.9h0M204.1 126.3h0M204.4 125.4h0M202.4 126.4h0M201.5 125.9h0M204.4 125.2h0M205.1 125.9h0M198.2 123.2h0M197.2 123.1h0M197.7 123.1h0M196.7 123.1h0M203.7 122.7h0M202.7 122.8h0M197.2 120.4h0M197.9 121.1h0M199.0 121.7h0M199.5 122.5h0M195.2 127.1h0M195.4 126.1h0M197.6 120.4h0M198.4 119.8h0M203.6 123.6h0M204.6 123.7h0M205.3 126.6h0M204.4 126.1h0M207.6 125.9h0M208.3 126.6h0M198.2 120.6h0M199.2 120.6h0M192.7 120.3h0M192.1 121.1h0M196.4 123.3h0M196.3 122.3h0M203.7 121.8h0M204.6 122.2h0M196.5 125.7h0M197.4 126.2h0M201.9 126.2h0M202.2 127.2h0M192.8 125.1h0M193.5 125.7h0M199.9 120.7h0M198.9 120.5h0M195.3 123.3h0M195.7 122.4h0M194.0 118.9h0M194.5 119.8h0M197.9 123.8h0M196.9 124.0h0M203.0 122.5h0M203.5 123.4h0M203.3 123.6h0M202.3 124.0h0M193.7 121.8h0M193.4 120.9h0M198.4 118.0h0M205.6 124.9h0M205.5 125.9h0M195.8 121.0h0M194.9 121.5h0M204.9 127.1h0M205.8 126.6h0M193.5 120.7h0M192.8 120.0h0M201.2 123.2h0M200.5 123.9h0M204.3 121.9h0M204.7 122.8h0M195.9 118.5h0M195.7 119.4h0M203.0 121.1h0M203.5 121.9h0M201.7 122.0h0M202.2 122.9h0M193.5 126.1h0M193.0 125.2h0M194.9 124.4h0M193.9 124.5h0M203.8 129.9h0M196.3 119.1h0M195.9 118.1h0M192.9 121.2h0M193.7 120.7h0M205.0 122.9h0M205.3 123.8h0M196.3 118.9h0M197.0 119.7h0M192.8 122.5h0M191.9 122.1h0M192.1 121.7h0M193.1 122.0h0M207.4 128.0h0M206.6 127.3h0M201.0 118.7h0M201.6 119.5h0M198.0 124.8h0M198.5 125.6h0M205.1 128.5h0M205.5 127.6h0M203.2 122.4h0M203.2 123.3h0M205.7 123.6h0M205.8 122.6h0M196.4 124.4h0M197.0 123.6h0M197.0 127.0h0M196.0 126.9h0M204.4 125.0h0M204.1 126.0h0M206.7 128.5h0M207.1 129.5h0M200.2 125.0h0M199.2 124.9h0M200.7 118.3h0M202.2 128.6h0M202.6 127.7h0M193.3 124.7h0M192.8 123.8h0M204.2 122.7h0M203.3 123.2h0M208.1 128.3h0M207.4 127.6h0M203.9 124.0h0M204.0 123.0h0M206.6 126.9h0M205.7 127.1h0M205.2 124.6h0M205.6 123.7h0M206.9 127.3h0M206.1 126.7h0M193.2 121.9h0M193.6 120.9h0M200.9 121.6h0M201.0 122.6h0M205.8 125.0h0M205.1 125.7h0M201.5 122.0h0M202.3 122.6h0M203.8 128.9h0M204.8 128.7h0M196.8 118.8h0M195.9 118.4h0M205.8 130.8h0M191.5 124.6h0M200.8 125.6h0M200.1 126.3h0M214.9 137.3h0M213.1 136.8h0M216.4 138.0h0M216.7 137.1h0M210.9 134.9h0M212.3 135.4h0M211.3 135.4h0M216.8 138.5h0M217.1 137.6h0M211.5 135.4h0M210.5 135.4h0M215.0 137.0h0M215.2 137.9h0M217.2 137.4h0M212.7 136.5h0M212.8 135.5h0M213.7 136.5h0M212.7 136.6h0M210.5 134.9h0M211.4 134.3h0M210.3 134.7h0M212.0 135.2h0M211.3 135.9h0M210.9 134.0h0M215.3 137.1h0M214.3 137.5h0M214.8 136.7h0M213.1 136.4h0M214.1 136.7h0M210.0 135.1h0M210.1 133.7h0M209.8 134.7h0M239.7 145.9h0M240.2 145.0h0M241.5 145.9h0M238.7 145.8h0M239.2 146.6h0M239.5 146.9h0M238.9 147.0h0M240.1 145.8h0M239.7 146.8h0M240.7 145.5h0M241.2 144.6h0M241.0 145.7h0M240.1 145.4h0M240.2 142.4h0M241.2 142.7h0M238.9 142.2h0M240.3 143.0h0M240.7 142.1h0M240.4 143.1h0M239.4 142.9h0M239.3 142.7h0M240.1 142.2h0M241.3 142.9h0M241.2 143.9h0M237.2 149.8h0M253.7 153.3h0M253.2 152.4h0M251.3 150.6h0M252.0 151.4h0M238.2 148.8h0M236.4 152.2h0M237.3 151.8h0M243.5 148.6h0M244.4 148.2h0M240.8 150.1h0M240.0 150.8h0M252.3 155.3h0M251.7 156.1h0M244.9 148.6h0M245.8 148.2h0M238.4 152.3h0M237.4 152.6h0M242.2 153.8h0M242.0 152.8h0M248.1 150.8h0M249.0 150.3h0M252.3 156.9h0M252.5 155.9h0M242.8 148.5h0M243.7 148.2h0M252.2 150.8h0M252.9 150.1h0M247.2 154.5h0M247.5 155.4h0M239.6 147.7h0M239.2 148.6h0M248.4 152.6h0M249.3 152.2h0M240.1 152.7h0M240.9 153.3h0M240.3 153.5h0M239.5 154.1h0M237.8 153.1h0M251.1 149.0h0M250.3 148.5h0M243.7 151.3h0M243.1 150.6h0M246.5 155.0h0M246.6 154.0h0M254.9 155.6h0M244.6 148.9h0M244.3 148.0h0M249.8 152.2h0M248.8 152.3h0M241.1 154.4h0M240.4 153.7h0M244.7 150.5h0M245.7 150.6h0M246.4 149.9h0M247.2 150.5h0M244.7 150.4h0M243.7 150.3h0M243.6 147.7h0M244.6 147.9h0M242.9 150.0h0M242.8 149.0h0M238.6 148.6h0M238.1 149.4h0M244.6 153.3h0M245.6 153.3h0M247.6 156.4h0M247.9 157.4h0M254.7 152.7h0M253.7 153.0h0M250.5 150.7h0M249.7 150.2h0M253.9 150.6h0M253.1 151.3h0M240.3 149.4h0M239.6 148.7h0M238.3 148.7h0M244.1 155.9h0M244.4 154.9h0M243.0 156.3h0M242.1 155.8h0M245.3 149.2h0M245.9 150.1h0M253.1 153.2h0M253.1 152.2h0M245.4 151.9h0M246.3 152.2h0M254.0 155.1h0M253.0 154.9h0M252.8 158.0h0M251.8 158.2h0M240.7 147.7h0M239.7 147.5h0M245.0 151.9h0M246.5 149.9h0M247.4 149.6h0M237.3 150.9h0M236.6 151.6h0M250.5 157.4h0M251.1 158.2h0M244.8 147.3h0M243.8 147.6h0M242.9 155.0h0M243.9 155.3h0M246.5 147.2h0M245.6 146.8h0M242.4 156.5h0M241.5 156.0h0M241.1 154.0h0M241.9 154.6h0M251.4 155.6h0M250.7 154.9h0M247.7 147.5h0M248.5 148.1h0M247.9 153.9h0M247.7 152.9h0M241.1 149.3h0M241.1 148.3h0M251.5 157.3h0M250.6 156.7h0M248.0 155.7h0M247.1 156.3h0M240.3 154.2h0M241.3 154.0h0M240.9 156.0h0M254.8 153.3h0M254.7 154.3h0M252.7 150.6h0M251.7 150.9h0M255.3 154.0h0M242.3 152.0h0M241.4 151.5h0M245.9 150.0h0M245.5 149.0h0M245.1 153.9h0M245.3 154.9h0M245.9 152.7h0M245.6 153.7h0M245.7 150.5h0M245.2 151.3h0M240.8 146.9h0M252.7 154.6h0M252.3 155.5h0M249.3 148.0h0M248.4 148.3h0M249.3 153.4h0M250.3 153.5h0M248.5 153.2h0M249.4 152.8h0M253.9 151.9h0M252.9 152.2h0M242.9 148.5h0M242.2 147.8h0M247.6 154.2h0M247.0 155.0h0M244.8 156.5h0M243.8 156.7h0M246.6 148.1h0M247.1 147.2h0M252.9 154.1h0M252.5 153.2h0M245.0 156.2h0M245.1 157.2h0M252.9 154.9h0M253.6 154.2h0M246.9 158.0h0M238.1 153.3h0M238.7 154.0h0M238.9 151.8h0M239.8 152.4h0M248.6 157.4h0M248.0 156.6h0M252.9 152.8h0M253.9 152.4h0M246.5 157.4h0M248.9 154.9h0M248.1 155.6h0M244.2 155.0h0M244.9 155.7h0M245.4 154.3h0M246.4 154.3h0M251.1 149.9h0M251.9 150.3h0M253.0 155.8h0M253.7 156.4h0M248.1 152.1h0M247.6 151.2h0M239.6 154.8h0M240.5 155.2h0M252.6 153.2h0M251.7 152.7h0M245.6 150.8h0M244.7 151.3h0M242.9 146.5h0M243.6 147.1h0M248.7 148.0h0M251.7 154.2h0M251.2 153.3h0M246.6 155.5h0M246.7 154.5h0M244.0 150.6h0M244.4 151.5h0M249.4 152.2h0M248.8 151.3h0M237.4 150.5h0M237.0 149.6h0M245.6 150.3h0M241.4 152.5h0M242.3 152.9h0M237.5 152.3h0M238.4 152.5h0M243.1 149.5h0M243.4 148.5h0M252.5 156.8h0M252.8 157.7h0M248.6 150.9h0M247.6 151.2h0M246.3 156.9h0M246.8 156.1h0M261.3 122.4h0M262.2 122.2h0M270.0 114.4h0M269.2 113.8h0M245.6 121.9h0M246.4 122.4h0M264.4 108.7h0M265.2 108.0h0M267.5 126.2h0M257.8 127.1h0M258.4 126.3h0M262.0 109.2h0M261.8 110.2h0M250.2 106.4h0M251.0 105.9h0M252.3 128.0h0M251.4 127.6h0M254.1 117.0h0M254.8 116.4h0M257.0 117.6h0M258.0 117.8h0M256.4 126.4h0M256.0 127.4h0M261.3 108.3h0M261.4 109.3h0M265.0 116.4h0M264.2 117.0h0M256.9 112.1h0M257.5 111.3h0M243.4 119.5h0M242.5 120.0h0M240.2 123.0h0M239.2 123.1h0M249.2 116.3h0M248.7 117.2h0M248.5 122.8h0M247.6 123.0h0M248.9 116.9h0M248.2 116.3h0M261.4 116.2h0M262.4 116.0h0M245.2 122.6h0M244.2 122.9h0M246.9 111.1h0M247.8 111.6h0M262.5 120.3h0M261.9 121.2h0M262.2 116.2h0M261.7 115.4h0M254.1 106.8h0M253.1 106.9h0M251.8 122.0h0M252.3 122.9h0M268.8 114.6h0M268.1 115.3h0M247.6 110.1h0M248.0 111.0h0M256.5 130.8h0M257.4 131.2h0M260.2 121.5h0M259.3 122.0h0M243.9 119.5h0M244.4 120.3h0M269.0 120.2h0M269.4 119.3h0M258.8 112.0h0M258.8 111.0h0M261.3 119.7h0M261.6 120.6h0M255.7 118.8h0M255.6 117.8h0M245.2 112.8h0M245.1 111.8h0M241.7 123.9h0M240.9 124.6h0M255.2 130.4h0M254.4 130.9h0M253.4 118.3h0M254.0 119.1h0M258.9 113.9h0M259.3 114.9h0M251.9 121.0h0M251.0 121.2h0M240.0 124.7h0M240.4 125.6h0M244.5 122.4h0M244.5 121.4h0M261.7 118.8h0M262.3 119.6h0M255.8 128.1h0M256.4 128.8h0M255.3 110.3h0M255.1 111.3h0M258.2 109.7h0M262.7 121.4h0M263.3 120.6h0M249.0 123.2h0M248.1 123.2h0M267.4 125.5h0M266.5 125.3h0M271.8 113.7h0M272.5 113.0h0M254.6 115.2h0M255.1 114.4h0M257.5 128.5h0M258.3 127.9h0M254.9 107.0h0M254.8 106.0h0M269.4 110.5h0M269.7 111.5h0M262.3 115.7h0M261.5 115.0h0M271.7 118.4h0M270.7 118.2h0M253.1 123.4h0M253.6 124.3h0M257.6 114.1h0M258.6 114.0h0M257.5 128.7h0M257.7 127.7h0M263.9 126.2h0M245.3 113.6h0M244.4 113.1h0M254.4 112.7h0M254.9 111.8h0M253.4 110.5h0M252.4 110.2h0M251.4 122.6h0M250.7 123.4h0M272.2 112.3h0M271.8 111.4h0M245.9 108.5h0M255.7 109.6h0M254.2 110.8h0M253.2 110.8h0M256.8 122.2h0M257.6 122.8h0M249.5 124.9h0M249.4 123.9h0M259.9 109.4h0M259.9 110.4h0M253.3 112.1h0M252.4 111.7h0M258.2 124.9h0M257.9 124.0h0M260.3 114.7h0M259.3 114.8h0M261.9 109.0h0M261.9 108.0h0M249.7 127.8h0M250.6 127.5h0M240.0 125.4h0M240.1 126.4h0M251.2 106.6h0M250.3 107.1h0M264.4 118.0h0M265.3 118.3h0M269.8 120.0h0M268.9 120.4h0M249.9 110.4h0M250.1 111.4h0M250.1 125.6h0M249.6 124.7h0M241.8 127.8h0M240.9 127.5h0M247.1 123.6h0M246.1 123.8h0M259.1 108.2h0M258.4 108.9h0M239.4 121.8h0M250.2 117.5h0M249.3 117.2h0M241.3 118.4h0M241.1 119.4h0M247.8 110.0h0M247.2 110.8h0M251.4 128.7h0M250.9 127.8h0M256.0 122.9h0M255.1 123.4h0M260.4 106.3h0M261.3 105.9h0M249.4 124.0h0M250.3 123.8h0M241.2 127.5h0M262.6 117.2h0M263.6 117.1h0M258.7 124.7h0M258.1 123.9h0M256.1 118.4h0M256.7 119.2h0M263.0 123.4h0M262.0 123.2h0M254.2 131.2h0M266.5 126.4h0M266.8 125.5h0M271.1 114.6h0M270.2 114.1h0M257.7 123.2h0M258.7 123.0h0M248.0 107.2h0M245.5 124.0h0M245.0 124.9h0M241.4 127.4h0M241.8 126.4h0M262.8 113.7h0M263.6 114.2h0M264.5 119.9h0M265.4 120.3h0M255.3 104.7h0M256.3 104.9h0M243.3 125.1h0M243.2 124.1h0M260.2 115.0h0M261.0 114.5h0M272.0 112.9h0M271.3 113.6h0M261.4 128.7h0M260.6 128.2h0M256.4 127.8h0M257.0 128.6h0M266.1 125.8h0M265.1 125.5h0M255.4 111.7h0M254.5 111.3h0M254.6 119.2h0M254.3 118.2h0M248.6 111.9h0M249.5 112.4h0M243.2 114.3h0M244.2 114.3h0M247.5 118.2h0M248.4 117.9h0M255.2 123.2h0M256.2 123.5h0M250.3 106.8h0M251.3 106.9h0M240.3 126.6h0M241.0 125.9h0M249.2 127.0h0M250.2 126.7h0M261.2 108.3h0M261.0 107.4h0M246.8 117.5h0M246.4 118.4h0M260.7 123.4h0M259.7 123.5h0M256.7 120.7h0M255.8 120.3h0M257.3 112.0h0M256.4 112.4h0M269.0 124.2h0M259.0 120.3h0M258.1 120.6h0M262.7 128.7h0M261.9 128.1h0M262.4 107.6h0M262.7 108.6h0M251.1 117.9h0M250.2 118.3h0M264.3 114.6h0M264.7 113.7h0M244.3 121.7h0M245.2 121.3h0M249.9 108.3h0M250.1 107.3h0M251.0 117.1h0M251.5 116.3h0M244.9 114.5h0M245.8 114.1h0M250.6 109.2h0M249.9 109.9h0M261.5 115.7h0M261.2 116.6h0M267.9 125.2h0M268.3 124.3h0M248.0 123.6h0M247.8 124.6h0M261.5 119.5h0M262.5 119.4h0M253.5 131.5h0M264.7 126.8h0M264.2 126.0h0M257.9 106.5h0M258.8 107.1h0M252.0 126.6h0M252.4 127.5h0M257.7 126.4h0M258.0 127.4h0M242.2 124.3h0M241.4 123.8h0M245.7 112.0h0M245.3 113.0h0M263.2 108.6h0M262.4 108.0h0M255.0 111.4h0M255.5 110.5h0M262.5 109.8h0M263.4 110.3h0M251.3 118.7h0M251.5 117.7h0M261.3 118.6h0M261.4 117.6h0M239.9 119.5h0M239.3 120.2h0M251.7 111.1h0M269.5 116.9h0M269.5 115.9h0M256.7 124.9h0M256.7 123.9h0M259.9 122.4h0M260.0 123.4h0M258.6 115.5h0M259.5 115.1h0M265.0 120.1h0M264.4 119.3h0M259.5 109.6h0M260.1 110.4h0M264.0 122.8h0M265.5 122.0h0M265.7 121.1h0M260.5 119.1h0M261.4 119.4h0M262.0 128.3h0M262.9 128.8h0M267.4 107.7h0M250.7 110.1h0M251.6 110.5h0M253.3 123.9h0M254.3 123.6h0M271.9 116.1h0M270.9 116.0h0M243.4 126.7h0M244.3 127.1h0M257.1 118.9h0M257.9 118.4h0M262.3 115.5h0M263.1 116.0h0M242.4 119.8h0M242.7 119.2h0M241.7 119.3h0M263.3 121.0h0M263.4 122.0h0M257.1 114.8h0M256.1 115.1h0M253.4 131.6h0M264.9 126.8h0M264.7 125.8h0M263.5 109.8h0M262.5 110.0h0M245.5 109.1h0M244.6 109.6h0M254.3 128.0h0M255.1 128.7h0M261.3 125.8h0M262.3 126.0h0M257.0 121.1h0M256.1 120.5h0M258.5 131.1h0M254.1 115.9h0M253.4 116.7h0M244.8 129.2h0M258.3 129.2h0M259.3 128.9h0M254.4 111.1h0M253.4 111.0h0M260.9 113.7h0M260.0 114.1h0M251.2 130.8h0M252.2 130.6h0M258.4 109.8h0M258.6 108.8h0M260.4 123.6h0M259.5 123.9h0M254.7 106.0h0M254.3 106.9h0M252.0 108.0h0M251.6 109.0h0M259.9 110.6h0M259.8 111.6h0M263.6 120.4h0M262.6 120.6h0M257.9 113.3h0M266.4 117.9h0M265.6 117.3h0M254.5 130.8h0M255.4 130.2h0M256.0 107.2h0M256.1 106.2h0M244.6 128.6h0M245.6 128.3h0M243.6 111.7h0M243.6 110.7h0M247.1 112.9h0M247.0 111.9h0M262.2 128.9h0M263.1 129.2h0M240.6 117.7h0M241.3 118.3h0M247.2 124.7h0M246.3 124.9h0M255.2 130.9h0M256.0 130.3h0M247.6 109.6h0M247.1 108.8h0M256.8 125.7h0M255.8 125.9h0M262.0 130.6h0M243.6 125.0h0M242.7 124.8h0M262.0 130.9h0M261.3 130.2h0M250.5 107.2h0M250.8 106.2h0M261.8 130.6h0M261.3 129.7h0M259.5 110.5h0M260.1 111.3h0M254.5 107.8h0M253.5 107.8h0M247.9 128.6h0M247.5 127.6h0M267.1 116.4h0M266.2 116.8h0M251.2 125.9h0M251.7 125.0h0M263.5 110.3h0M264.4 110.6h0M265.7 113.4h0M266.7 113.8h0M249.9 125.4h0M249.9 124.4h0M270.5 117.3h0M257.1 118.9h0M257.6 119.8h0M260.2 123.3h0M258.0 118.8h0M258.1 119.8h0M241.2 122.5h0M240.2 122.3h0M268.0 122.1h0M269.0 122.0h0M267.3 113.2h0M268.3 113.2h0M252.4 118.8h0M251.8 118.0h0M257.5 120.0h0M257.0 119.2h0M259.8 124.7h0M258.9 125.1h0M270.2 114.5h0M269.2 114.4h0M267.9 111.8h0M267.9 112.8h0M261.4 108.6h0M262.4 108.4h0M264.1 115.7h0M265.1 115.7h0M258.6 106.8h0M259.6 106.8h0M254.7 105.1h0M255.0 106.0h0M261.3 109.1h0M260.5 109.6h0M258.4 123.4h0M257.6 122.8h0M260.4 106.6h0M259.8 105.8h0M251.0 127.8h0M250.9 128.8h0M254.3 116.9h0M253.3 117.1h0M246.8 123.5h0M245.8 123.5h0M248.2 130.1h0M258.9 114.6h0M259.7 115.1h0M243.3 110.5h0M243.8 111.4h0M248.7 123.0h0M248.7 122.0h0M249.6 108.0h0M248.8 108.6h0M272.7 115.9h0M271.7 115.7h0M260.0 128.8h0M260.2 127.8h0M263.0 125.4h0M263.8 126.0h0M239.6 124.7h0M239.6 123.7h0M251.5 113.4h0M252.4 113.1h0M251.5 110.4h0M252.5 110.3h0M254.2 112.9h0M254.8 112.2h0M255.1 128.0h0M254.4 128.7h0M265.0 123.8h0M265.9 123.5h0M271.9 119.0h0M271.9 120.0h0M257.1 114.1h0M257.7 114.9h0M249.5 130.1h0M250.5 130.0h0M266.0 122.9h0M265.5 122.1h0M242.0 127.3h0M242.0 126.3h0M258.3 126.6h0M257.3 126.6h0M255.6 124.7h0M255.2 123.8h0M265.7 114.7h0M265.1 113.9h0M265.8 114.9h0M265.3 115.7h0M259.8 105.2h0M263.9 124.2h0M263.8 123.2h0M242.9 128.0h0M243.8 127.6h0M246.4 118.1h0M245.4 118.3h0M255.8 117.0h0M256.8 117.1h0M245.0 125.7h0M244.1 126.2h0M258.3 124.8h0M257.7 125.6h0M251.6 126.0h0M250.6 125.8h0M257.0 122.2h0M257.9 121.8h0M252.3 124.4h0M252.6 123.5h0M253.4 114.5h0M253.0 115.4h0M258.2 122.1h0M257.5 122.8h0M269.1 114.9h0M268.3 115.4h0M247.5 127.9h0M246.8 127.2h0M261.0 109.4h0M262.0 109.2h0M258.8 109.4h0M257.8 109.5h0M247.9 124.8h0M247.0 125.2h0M264.8 114.7h0M265.5 115.4h0M257.9 120.4h0M257.6 119.4h0M252.9 129.4h0M253.8 129.0h0M239.1 121.6h0M267.6 108.0h0M242.5 111.7h0M244.8 112.3h0M243.9 112.8h0M251.1 122.9h0M252.1 123.0h0M258.9 124.3h0M259.9 124.4h0M262.0 106.1h0M263.0 106.0h0M244.4 115.6h0M245.3 115.3h0M251.0 128.6h0M252.0 128.5h0M260.9 120.5h0M260.0 120.1h0M256.0 115.3h0M256.2 114.3h0M252.9 123.1h0M253.8 122.6h0M253.8 115.4h0M254.3 116.3h0M266.2 109.5h0M265.3 110.0h0M258.9 125.7h0M259.6 126.4h0M245.3 122.2h0M244.5 121.6h0M246.8 112.7h0M245.9 113.1h0M252.5 117.0h0M252.8 117.9h0M252.5 109.7h0M252.7 108.7h0M255.7 105.7h0M255.4 104.8h0M266.6 124.3h0M266.1 123.4h0M247.5 120.9h0M248.0 121.7h0M263.8 118.0h0M263.9 119.0h0M258.0 125.7h0M259.0 125.7h0M262.6 117.3h0M262.7 116.3h0M250.0 119.2h0M249.1 118.7h0M297.0 110.8h0M297.0 109.8h0M287.6 107.8h0M286.7 108.1h0M296.9 106.0h0M296.8 107.0h0M289.2 111.5h0M289.4 110.5h0M291.6 101.6h0M292.5 101.2h0M277.7 107.7h0M276.8 108.0h0M272.9 107.5h0M273.5 108.2h0M286.4 100.6h0M292.0 111.8h0M291.2 111.2h0M276.9 111.1h0M277.9 111.2h0M298.0 105.7h0M297.2 105.1h0M283.9 102.3h0M284.8 102.0h0M281.8 104.2h0M282.8 104.3h0M283.5 103.0h0M284.4 102.5h0M274.8 112.4h0M273.8 112.2h0M297.5 105.6h0M298.5 105.6h0M283.8 110.6h0M283.9 109.6h0M273.2 110.5h0M272.7 109.6h0M288.8 99.5h0M289.3 98.6h0M285.3 101.0h0M284.4 101.2h0M292.4 110.5h0M292.3 109.5h0M296.9 109.3h0M296.6 108.3h0M300.9 110.1h0M301.9 110.1h0M291.7 103.3h0M292.4 102.6h0M287.1 107.0h0M287.8 106.4h0M299.3 111.2h0M298.9 110.2h0M299.0 111.7h0M298.1 112.2h0M279.1 109.8h0M279.7 110.6h0M282.9 104.8h0M283.8 104.3h0M294.9 105.9h0M294.5 105.0h0M300.3 109.0h0M300.6 109.9h0M292.3 101.2h0M292.6 100.3h0M277.5 114.7h0M278.4 114.9h0M286.7 113.1h0M287.7 113.0h0M293.6 104.4h0M294.2 105.2h0M276.7 106.5h0M277.2 107.3h0M278.9 115.2h0M291.8 101.3h0M291.2 100.5h0M291.0 101.0h0M290.1 100.6h0M291.0 102.1h0M290.1 102.5h0M274.1 106.5h0M297.8 106.1h0M297.6 107.1h0M297.4 111.9h0M298.0 112.6h0M288.1 111.7h0M287.3 111.1h0M292.7 100.0h0M292.8 99.0h0M284.7 108.0h0M283.7 108.1h0M282.6 104.5h0M283.0 103.6h0M293.3 100.9h0M292.5 100.4h0M277.7 104.1h0M273.3 110.6h0M290.4 103.5h0M290.9 102.6h0M295.4 110.7h0M294.8 110.0h0M293.2 112.7h0M292.5 113.4h0M281.9 115.6h0M281.7 114.6h0M299.0 112.3h0M298.4 113.1h0M290.1 112.7h0M289.1 112.5h0M279.0 107.3h0M280.0 107.7h0M289.6 109.2h0M288.6 109.3h0M288.9 110.4h0M289.8 110.6h0M290.4 104.6h0M290.6 103.7h0M280.8 103.7h0M280.1 103.0h0M292.6 108.7h0M291.9 109.4h0M284.7 111.0h0M283.7 111.0h0M278.3 112.9h0M277.8 113.8h0M290.5 98.5h0M291.4 98.2h0M298.9 111.7h0M299.1 112.7h0M285.0 110.9h0M285.0 111.9h0M287.6 102.0h0M286.6 102.0h0M283.0 108.3h0M283.3 109.2h0M289.3 104.4h0M289.0 105.4h0M275.3 108.0h0M274.4 107.9h0M291.3 114.2h0M278.5 114.1h0M278.0 113.2h0M284.2 103.6h0M283.9 102.7h0M282.8 110.6h0M283.6 110.0h0M296.1 99.6h0M295.3 99.0h0M293.3 103.1h0M294.0 103.8h0M294.2 111.0h0M295.0 110.3h0M274.5 112.8h0M287.2 105.9h0M288.1 105.6h0M294.9 106.2h0M295.9 106.0h0M289.9 102.6h0M289.2 103.3h0M292.5 109.3h0M292.7 110.3h0M280.9 104.4h0M280.2 103.8h0M275.5 108.4h0M274.6 108.0h0M283.2 105.9h0M284.1 105.7h0M283.2 112.9h0M282.4 113.5h0M291.7 98.3h0M275.9 105.4h0M288.4 104.0h0M287.4 103.9h0M282.8 115.0h0M283.3 114.1h0M282.5 106.3h0M281.6 106.5h0M283.5 110.4h0M283.9 111.3h0M280.6 114.8h0M279.6 114.8h0M289.5 103.9h0M289.0 103.1h0M293.3 113.1h0M292.5 112.5h0M276.7 113.2h0M276.3 112.3h0M281.6 111.9h0M280.6 112.1h0M292.9 113.4h0M292.3 112.5h0M292.6 105.7h0M292.0 106.4h0M299.2 113.2h0M298.3 112.7h0M284.5 102.2h0M283.6 101.8h0M290.7 114.5h0M286.6 105.8h0M287.4 105.3h0M286.7 108.3h0M286.6 109.3h0M296.7 102.7h0M297.2 101.8h0M290.1 113.6h0M289.6 112.7h0M285.3 113.0h0M284.3 113.1h0M287.4 106.4h0M287.5 107.4h0M297.5 109.9h0M298.5 109.7h0M295.5 100.0h0M294.6 99.6h0M288.5 103.7h0M289.4 104.2h0M277.5 108.9h0M276.6 108.3h0M294.9 114.0h0M283.9 110.7h0M283.4 109.9h0M300.9 105.8h0M299.9 105.6h0M277.0 114.4h0M289.6 102.8h0M294.2 111.4h0M293.4 110.9h0M273.9 108.5h0M274.5 109.3h0M288.9 115.1h0M289.6 114.4h0M297.3 107.1h0M297.8 108.0h0M293.6 110.1h0M292.9 109.3h0M286.2 114.9h0M286.0 115.9h0M301.0 111.9h0M287.3 106.8h0M286.3 107.0h0M297.4 101.9h0M296.9 101.1h0M284.8 106.4h0M284.2 107.2h0M285.7 111.5h0M285.3 110.6h0M302.1 110.4h0M295.0 103.5h0M295.4 104.4h0M299.4 109.7h0M300.2 110.2h0M279.4 112.8h0M278.6 113.4h0M298.0 102.6h0M281.7 107.7h0M280.9 107.1h0M291.4 105.5h0M291.9 104.6h0M294.3 108.3h0M293.8 107.5h0M295.6 107.4h0M294.6 107.2h0M294.0 98.3h0M294.7 97.5h0M284.7 104.0h0M283.7 103.9h0M286.4 111.1h0M287.3 111.5h0M287.9 111.5h0M286.9 111.4h0M285.1 115.2h0M286.1 115.2h0M289.3 99.4h0M288.9 98.5h0M279.8 112.1h0M279.4 113.1h0M281.0 108.8h0M280.3 108.0h0M297.7 107.4h0M298.1 108.3h0M289.1 111.5h0M290.1 111.8h0M279.4 109.5h0M278.4 109.6h0M294.3 104.5h0M293.3 104.5h0M290.8 109.7h0M290.6 110.7h0M288.9 114.9h0M288.1 114.4h0M294.5 109.1h0M293.6 109.5h0M295.3 110.3h0M294.7 111.2h0M299.8 105.7h0M300.7 106.1h0M279.8 106.8h0M280.7 107.2h0M294.5 97.9h0M293.8 102.4h0M293.0 103.0h0M283.5 103.1h0M284.3 102.5h0M288.7 100.2h0M287.7 100.0h0M306.4 114.0h0M305.5 114.5h0M303.8 114.5h0M303.4 115.4h0M307.2 111.4h0M305.1 113.4h0M305.9 114.0h0M306.7 112.7h0M305.7 112.6h0M304.1 111.2h0M303.4 116.5h0M304.3 116.9h0M303.4 114.1h0M302.8 113.4h0M307.5 113.1h0M307.1 114.0h0M304.1 116.4h0M303.3 113.1h0M303.5 112.1h0M305.7 114.1h0M306.3 114.9h0M306.3 111.3h0M305.0 111.0h0M303.1 115.2h0M304.0 115.4h0M304.7 114.6h0M306.0 111.6h0M305.0 111.7h0M304.3 114.5h0M303.5 115.0h0M303.2 113.1h0M303.7 113.9h0M306.1 114.6h0M306.9 114.1h0M306.0 116.1h0M305.1 115.9h0M303.5 113.6h0M303.8 112.6h0M307.9 113.8h0M305.7 115.7h0M306.6 116.3h0M306.8 111.4h0M303.3 113.9h0M303.0 112.9h0M303.4 114.4h0M303.1 113.4h0M304.6 112.9h0M303.6 112.9h0M304.2 115.1h0M303.2 115.1h0M304.3 111.4h0M306.1 112.5h0M305.2 111.9h0M305.1 116.2h0M304.1 116.5h0M308.0 112.6h0M304.1 115.7h0M304.7 114.9h0M304.8 115.7h0M304.5 114.8h0M305.1 113.3h0M305.9 113.9h0M303.5 118.5h0M301.1 118.8h0M301.9 118.2h0M303.1 121.0h0M298.2 120.4h0M298.3 121.4h0M303.5 119.2h0M304.2 118.4h0M300.4 120.7h0M299.4 120.9h0M300.9 119.4h0M300.6 118.5h0M298.5 119.7h0M299.7 122.2h0M299.3 120.6h0M300.1 121.1h0M301.1 119.0h0M300.9 118.0h0M302.0 121.0h0M301.1 121.3h0M299.4 118.4h0M300.2 119.0h0M299.0 119.2h0M300.8 120.2h0M299.9 120.8h0M303.0 120.1h0M302.1 120.3h0M301.2 117.7h0M301.6 119.5h0M302.1 118.7h0M297.6 120.2h0M297.1 121.1h0M299.6 118.3h0M300.1 119.2h0M304.0 117.3h0M303.2 117.9h0M303.6 120.5h0M301.5 117.3h0M299.9 120.6h0M300.2 119.6h0M300.1 119.0h0M299.3 118.3h0M301.3 120.9h0M300.3 121.1h0M301.9 120.5h0M302.8 120.2h0M303.1 120.3h0M299.9 119.5h0M299.3 120.3h0M300.4 120.4h0M301.0 121.2h0M302.2 118.2h0M303.0 118.8h0M300.4 121.0h0M299.5 121.4h0M301.4 117.3h0M302.4 117.6h0M300.2 118.5h0M300.6 119.4h0M294.3 132.5h0M290.6 136.6h0M288.6 136.6h0M287.7 136.1h0M289.4 132.5h0M288.9 133.4h0M292.4 132.7h0M293.3 133.3h0M289.5 133.2h0M289.7 132.2h0M292.9 131.2h0M293.9 131.2h0M291.7 131.9h0M290.7 132.1h0M290.9 136.8h0M290.8 135.8h0M290.2 135.0h0M291.0 135.5h0M291.0 133.6h0M291.9 133.9h0M290.0 132.2h0M289.1 131.7h0M288.9 136.5h0M289.8 135.9h0M294.4 130.9h0M293.6 130.4h0M294.7 131.2h0M293.7 131.1h0M291.1 134.0h0M290.1 134.1h0M287.4 135.4h0M287.4 134.4h0M287.5 134.1h0M288.1 134.9h0M290.0 132.4h0M289.3 133.2h0M293.0 131.7h0M292.5 130.9h0M291.2 134.1h0M290.2 134.1h0M289.6 135.9h0M290.6 135.5h0M293.5 133.4h0M292.5 133.7h0M294.1 132.4h0M294.5 132.8h0M289.3 135.4h0M289.7 134.5h0M292.6 131.3h0M292.3 130.4h0M290.1 136.7h0M289.2 136.3h0M293.1 130.6h0M292.8 131.5h0M291.2 135.9h0M288.9 135.9h0M288.0 135.5h0M290.4 131.0h0M290.3 132.0h0M290.4 133.0h0M291.4 132.7h0M290.6 137.3h0M290.4 136.3h0M290.6 131.1h0M291.2 131.9h0M293.0 130.2h0M292.3 130.8h0M292.6 132.1h0M292.6 131.1h0M290.6 132.4h0M291.6 132.4h0M292.0 134.8h0M291.7 135.8h0M293.9 133.3h0M292.9 133.6h0M287.7 133.2h0M288.0 134.1h0M291.8 135.1h0M290.9 134.9h0M293.3 132.8h0M294.1 132.2h0M293.6 132.4h0M293.0 133.2h0M312.2 128.9h0M312.5 128.0h0M315.3 127.1h0M315.6 128.0h0M315.0 130.0h0M316.4 125.5h0M315.5 125.0h0M310.7 129.4h0M319.1 128.9h0M313.6 127.1h0M313.7 128.1h0M312.8 126.0h0M312.5 127.0h0M313.5 127.6h0M314.1 126.9h0M311.4 129.8h0M312.4 130.0h0M313.0 129.1h0M312.0 129.1h0M313.5 128.4h0M313.0 127.5h0M317.4 129.2h0M318.3 128.8h0M314.6 127.0h0M315.4 127.6h0M317.4 125.8h0M316.9 126.6h0M312.8 129.8h0M314.2 129.5h0M314.3 128.5h0M310.5 126.6h0M312.6 127.7h0M311.8 127.2h0M314.8 126.4h0M313.8 126.6h0M315.2 125.6h0M314.5 126.3h0M316.0 128.9h0M317.0 128.7h0M314.2 127.6h0M314.0 128.5h0M314.7 129.9h0M313.0 127.8h0M312.5 128.7h0M314.6 126.2h0M314.3 127.2h0M310.8 129.6h0M311.8 129.9h0M315.5 127.9h0M316.3 128.4h0M317.0 128.9h0M317.2 127.9h0M311.1 126.8h0M310.4 127.5h0M315.3 126.0h0M315.0 127.0h0M315.8 128.6h0M315.1 127.9h0M313.5 125.7h0M312.6 125.3h0M312.5 129.6h0M312.2 128.7h0M313.4 128.6h0M313.7 129.6h0M312.1 129.0h0M312.4 130.0h0M311.4 129.6h0M311.5 128.6h0M317.5 127.7h0M317.2 128.7h0M313.8 125.3h0M314.7 124.8h0M312.2 126.9h0M311.6 126.1h0M312.3 127.4h0M312.9 126.6h0M312.3 127.2h0M313.0 127.9h0M311.2 127.3h0M311.9 128.0h0M313.4 129.5h0M312.5 129.1h0M265.1 136.3h0M264.2 135.9h0M265.5 138.6h0M265.7 137.3h0M266.6 137.9h0M264.6 136.5h0M264.4 137.5h0M275.7 144.7h0M268.3 141.6h0M268.9 140.8h0M270.3 139.3h0M271.0 139.9h0M276.0 141.6h0M272.3 140.9h0M271.5 141.6h0M270.4 142.2h0M271.3 142.8h0M275.7 143.0h0M276.2 143.8h0M267.4 139.2h0M268.4 139.3h0M268.5 140.3h0M268.6 141.3h0M268.1 143.7h0M268.4 142.7h0M272.9 140.8h0M273.6 140.1h0M268.0 142.0h0M268.5 142.9h0M273.7 144.2h0M274.0 145.1h0M271.5 145.7h0M270.6 145.2h0M274.9 143.4h0M275.8 143.8h0M274.6 144.8h0M275.5 145.2h0M274.3 142.9h0M275.3 142.5h0M270.1 139.4h0M269.2 139.2h0M271.9 140.3h0M271.0 140.7h0M273.5 143.2h0M273.9 144.1h0M274.3 145.6h0M273.7 144.8h0M276.3 144.3h0M275.3 144.2h0M275.8 141.2h0M276.2 142.2h0M275.8 144.3h0M268.8 144.3h0M271.0 139.6h0M270.6 140.5h0M271.1 141.2h0M272.1 140.9h0M271.1 145.3h0M272.1 145.4h0M274.5 142.8h0M273.6 142.3h0M274.8 141.7h0M275.0 140.7h0M270.8 142.8h0M271.6 142.2h0M275.8 143.5h0M276.5 142.8h0M273.8 145.5h0M274.7 145.1h0M275.7 143.3h0M274.8 143.5h0M269.8 140.0h0M269.8 139.0h0M267.9 142.9h0M270.1 143.6h0M270.7 144.4h0M273.5 145.7h0M272.7 145.0h0M274.7 141.2h0M274.3 142.1h0M273.8 140.9h0M274.6 141.6h0M267.2 140.0h0M268.1 139.7h0M274.7 140.2h0M275.3 144.2h0M274.8 143.3h0M276.6 142.5h0M270.0 140.4h0M269.2 141.0h0M275.2 144.5h0M274.9 139.8h0M274.2 139.5h0M268.8 144.7h0M269.7 144.2h0M267.3 142.9h0M271.5 144.6h0M272.4 144.9h0M268.6 141.1h0M268.6 140.1h0M273.4 140.2h0M272.9 139.3h0M271.1 144.1h0M271.0 143.1h0M268.4 139.8h0M268.8 138.9h0M274.4 144.8h0M274.5 145.8h0M266.6 141.0h0M271.4 143.7h0M271.2 144.7h0M270.9 138.4h0M271.5 139.2h0M275.5 143.7h0M276.4 143.2h0M275.1 145.0h0M274.3 144.4h0M268.3 140.0h0M269.3 139.8h0M270.8 140.5h0M270.3 139.6h0M273.0 139.7h0M274.0 139.6h0M275.9 141.1h0M275.1 141.7h0M315.5 76.6h0M314.8 75.9h0M314.2 75.9h0M315.0 76.5h0M313.0 77.4h0M314.7 76.6h0M314.6 76.4h0M317.4 76.5h0M316.4 76.4h0M314.6 76.0h0M313.7 76.5h0M325.0 77.3h0M324.3 78.0h0M328.3 76.4h0M327.5 76.5h0M328.4 76.8h0M325.0 75.2h0M323.9 78.4h0M323.5 78.1h0M324.1 75.9h0M323.8 76.9h0M328.4 74.2h0M329.0 74.9h0M326.1 75.4h0M325.9 76.4h0M324.0 77.0h0M323.6 76.1h0M327.8 75.8h0M327.4 76.7h0M327.0 75.5h0M327.2 76.5h0M329.0 73.6h0M326.0 76.6h0M325.0 76.5h0M324.2 77.8h0M326.0 74.4h0M326.9 74.0h0M328.4 75.9h0M329.0 75.0h0M325.7 74.6h0M326.7 74.5h0M326.2 78.3h0M326.2 75.1h0M325.7 76.0h0M322.3 99.2h0M322.5 98.2h0M321.7 97.7h0M320.7 96.5h0M322.7 97.9h0M323.1 99.0h0M322.5 100.0h0M322.1 97.2h0M322.2 98.2h0" stroke="#178A8C" stroke-width="1.2" stroke-linecap="round"/>
<path d="M201.9 78.4h0M200.9 78.2h0M208.0 81.9h0M209.0 82.2h0M193.6 82.9h0M194.5 82.6h0M204.8 89.2h0M205.8 89.5h0M209.2 82.3h0M209.8 81.5h0M196.7 77.9h0M195.9 78.5h0M197.7 85.3h0M196.9 84.7h0M208.4 77.0h0M212.2 82.8h0M211.7 83.7h0M205.6 80.8h0M206.2 80.0h0M199.6 85.2h0M198.9 84.5h0M213.7 80.6h0M214.3 79.9h0M204.6 88.1h0M205.2 88.9h0M193.6 86.7h0M193.9 85.7h0M212.7 85.5h0M211.8 85.1h0M206.2 86.6h0M207.0 87.3h0M216.3 80.6h0M215.4 81.0h0M193.2 83.4h0M194.1 83.7h0M194.2 88.3h0M195.1 88.6h0M203.8 89.9h0M200.6 82.6h0M199.6 82.8h0M197.6 79.7h0M197.7 80.7h0M209.6 80.2h0M210.6 80.1h0M203.2 85.1h0M204.2 85.1h0M207.4 85.9h0M206.5 85.6h0M218.6 88.5h0M219.6 88.2h0M203.9 82.4h0M204.5 83.2h0M198.6 78.6h0M198.8 79.6h0M195.4 81.8h0M196.1 82.6h0M210.3 78.4h0M210.6 79.3h0M203.1 78.0h0M204.1 77.9h0M206.0 83.7h0M207.0 83.6h0M202.4 80.2h0M202.3 79.2h0M207.8 78.3h0M207.0 78.9h0M217.5 87.1h0M217.7 88.1h0M197.3 88.4h0M196.6 87.7h0M202.1 79.6h0M203.0 79.3h0M217.2 88.9h0M218.0 88.2h0M199.1 84.3h0M199.3 85.3h0M193.3 80.5h0M192.9 81.4h0M198.9 79.6h0M199.7 80.3h0M216.9 83.7h0M216.8 82.7h0M195.0 86.6h0M196.0 86.5h0M214.3 83.6h0M214.2 84.6h0M202.1 88.8h0M203.1 88.5h0M196.2 78.4h0M197.2 78.4h0M196.7 89.2h0M197.7 89.4h0M202.7 84.8h0M203.7 84.7h0M220.7 86.4h0M220.1 85.6h0M205.1 89.9h0M205.0 88.9h0M199.8 80.7h0M199.7 81.7h0M200.0 82.7h0M200.0 83.7h0M202.8 83.3h0M202.4 82.4h0M207.0 84.5h0M206.3 85.2h0M205.3 78.9h0M206.1 79.5h0M197.5 83.6h0M197.4 82.6h0M202.0 84.3h0M201.3 83.5h0M195.6 85.0h0M196.0 85.9h0M214.9 84.1h0M214.2 83.4h0M219.0 83.1h0M218.2 82.4h0M207.4 87.1h0M206.4 87.3h0M196.0 83.1h0M197.0 83.1h0M194.6 86.7h0M195.4 86.1h0M197.0 87.5h0M196.0 87.1h0M198.9 91.2h0M197.2 82.9h0M196.2 83.1h0M198.2 81.1h0M197.3 80.6h0M208.6 83.0h0M209.5 82.9h0M210.6 84.2h0M210.9 85.2h0M195.5 80.2h0M196.3 80.9h0M200.3 78.1h0M199.4 77.8h0M196.8 90.7h0M196.1 90.0h0M212.5 82.8h0M212.8 83.8h0M210.9 88.8h0M211.3 89.7h0M194.4 89.8h0M200.3 78.1h0M199.3 78.4h0M195.7 78.6h0M196.6 78.4h0M201.5 80.9h0M201.2 79.9h0M207.0 78.8h0M207.3 79.8h0M199.8 76.2h0M198.0 83.6h0M198.4 82.7h0M216.2 82.9h0M215.4 82.4h0M203.9 84.1h0M204.4 83.2h0M202.4 89.3h0M202.4 88.3h0M204.2 81.6h0M205.2 81.2h0M194.6 87.9h0M195.1 88.7h0M195.0 89.5h0M195.8 89.0h0M200.7 79.9h0M200.5 80.9h0M197.1 83.1h0M196.3 83.7h0M201.5 81.7h0M202.5 81.5h0M206.3 84.0h0M206.6 85.0h0M192.6 80.2h0M193.6 80.6h0M201.3 79.7h0M200.5 79.2h0M214.3 86.5h0M214.7 85.6h0M207.6 96.5h0M208.4 95.8h0M216.3 104.8h0M217.0 105.6h0M220.7 104.4h0M221.1 103.5h0M201.1 101.7h0M200.3 101.1h0M218.4 109.6h0M218.1 108.6h0M215.3 106.1h0M216.1 106.7h0M201.0 97.4h0M201.3 98.4h0M212.0 104.4h0M211.6 103.5h0M218.2 107.5h0M217.2 107.4h0M214.6 89.7h0M199.4 94.9h0M198.8 94.1h0M210.3 98.0h0M209.4 97.8h0M217.4 104.1h0M216.5 104.0h0M201.3 94.6h0M200.9 93.7h0M199.1 95.0h0M198.9 94.0h0M215.1 95.6h0M214.1 95.6h0M209.6 91.1h0M210.0 90.2h0M209.2 95.0h0M208.7 95.9h0M203.0 103.2h0M203.6 104.0h0M222.3 91.5h0M220.6 106.4h0M220.0 107.2h0M209.2 95.9h0M210.0 96.4h0M219.3 91.1h0M220.3 91.1h0M220.9 95.6h0M220.4 96.4h0M206.9 99.2h0M207.5 100.0h0M204.0 94.9h0M203.1 95.4h0M220.5 109.2h0M220.5 108.2h0M222.0 102.3h0M221.1 101.8h0M216.5 99.8h0M216.8 98.8h0M221.6 91.3h0M220.7 91.8h0M205.2 107.3h0M206.1 106.7h0M214.6 95.9h0M213.6 95.7h0M201.9 92.2h0M201.4 93.1h0M210.4 93.7h0M211.4 94.0h0M209.2 91.6h0M210.1 92.1h0M206.4 90.4h0M206.9 91.3h0M212.3 111.2h0M212.2 110.2h0M208.3 101.7h0M207.8 102.6h0M199.1 95.2h0M199.8 94.5h0M210.6 104.4h0M210.8 103.5h0M204.5 94.5h0M203.8 95.1h0M220.2 88.6h0M221.0 89.1h0M220.8 100.4h0M219.8 100.7h0M219.0 110.3h0M219.8 109.7h0M211.1 105.8h0M212.1 105.8h0M214.3 108.0h0M213.3 108.1h0M214.3 95.9h0M215.2 96.3h0M214.0 106.2h0M215.0 106.2h0M211.1 103.2h0M210.8 104.1h0M205.3 100.0h0M206.3 100.0h0M220.5 100.4h0M221.0 101.3h0M222.5 106.4h0M210.5 105.6h0M209.9 106.4h0M214.9 112.1h0M215.7 112.7h0M206.3 99.0h0M205.5 98.4h0M218.2 107.3h0M217.3 107.8h0M222.7 96.1h0M222.7 95.1h0M210.4 92.9h0M210.7 93.8h0M214.8 112.8h0M215.5 113.4h0M199.1 98.3h0M200.1 98.3h0M221.7 96.6h0M221.4 97.5h0M216.9 88.8h0M207.2 96.7h0M208.2 96.8h0M204.8 97.2h0M205.4 96.4h0M222.6 93.4h0M221.6 93.7h0M218.9 99.3h0M219.8 99.5h0M202.5 97.5h0M202.6 96.5h0M208.2 109.2h0M207.5 108.4h0M221.4 94.7h0M222.1 93.9h0M206.3 95.1h0M207.3 95.1h0M204.3 106.7h0M221.3 104.5h0M221.7 103.6h0M203.6 100.4h0M204.4 100.9h0M207.5 94.6h0M206.6 95.0h0M221.6 92.8h0M222.3 92.0h0M218.9 108.2h0M218.0 107.8h0M205.8 97.4h0M205.3 96.6h0M204.4 90.2h0M205.2 90.8h0M216.0 99.7h0M216.2 100.6h0M213.6 105.6h0M214.2 104.8h0M214.8 91.2h0M215.0 90.2h0M212.2 97.7h0M211.7 96.9h0M203.9 94.4h0M203.8 95.4h0M212.5 96.5h0M211.6 96.3h0M210.7 94.0h0M211.3 93.2h0M209.8 109.4h0M210.8 109.1h0M198.5 95.7h0M199.5 95.9h0M222.8 103.2h0M220.0 99.7h0M219.5 100.6h0M222.1 90.8h0M221.4 90.0h0M203.2 97.6h0M204.1 98.0h0M204.1 103.6h0M203.2 103.2h0M215.1 92.8h0M215.3 93.8h0M218.2 102.3h0M219.1 102.0h0M207.8 102.4h0M206.8 102.2h0M208.2 95.4h0M207.2 95.8h0M205.6 102.8h0M205.1 103.7h0M207.0 93.1h0M206.3 92.4h0M208.5 109.4h0M207.5 109.3h0M209.5 92.2h0M210.5 92.4h0M214.2 111.7h0M214.9 112.4h0M207.1 101.2h0M208.0 101.7h0M211.1 112.2h0M211.8 112.8h0M221.6 98.1h0M222.5 97.7h0M218.9 92.2h0M218.7 91.2h0M208.0 110.1h0M207.9 109.1h0M203.2 98.4h0M202.2 98.5h0M200.7 94.4h0M201.2 93.6h0M217.2 89.0h0M213.1 102.4h0M212.2 101.9h0M208.4 103.2h0M207.4 103.4h0M209.1 99.4h0M210.1 99.8h0M210.2 94.1h0M210.8 93.3h0M209.4 92.7h0M208.8 93.5h0M200.8 99.2h0M201.7 99.7h0M214.0 90.1h0M214.4 89.2h0M210.8 89.4h0M209.8 89.6h0M222.2 91.6h0M216.5 109.3h0M216.0 110.1h0M221.3 92.3h0M222.2 91.8h0M199.2 97.2h0M198.7 96.3h0M220.8 95.2h0M220.6 94.2h0M210.6 112.0h0M211.2 112.8h0M210.7 96.3h0M211.6 96.0h0M215.2 111.4h0M215.2 112.4h0M200.5 101.9h0M220.2 102.5h0M219.8 101.6h0M213.9 98.3h0M213.8 97.3h0M223.3 103.1h0M222.3 103.5h0M209.0 92.6h0M208.2 92.0h0M218.8 94.6h0M219.0 93.6h0M212.7 105.3h0M213.2 106.2h0M213.5 99.3h0M212.8 98.6h0M200.9 93.9h0M199.9 93.8h0M200.3 97.3h0M200.3 98.3h0M212.8 93.3h0M212.1 92.7h0M203.8 91.9h0M204.5 92.6h0M220.2 108.4h0M219.6 109.3h0M212.1 97.1h0M211.4 96.4h0M221.9 107.1h0M221.2 107.9h0M208.1 94.2h0M208.7 95.0h0M222.0 91.7h0M222.1 92.7h0M210.7 104.7h0M210.5 103.8h0M205.5 95.8h0M206.1 96.7h0M217.9 106.7h0M218.6 107.3h0M216.9 100.1h0M216.7 99.2h0M206.2 107.6h0M206.5 106.6h0M216.0 94.9h0M215.0 94.7h0M218.0 101.7h0M217.7 102.6h0M222.6 93.7h0M222.5 92.7h0M204.3 94.2h0M205.0 93.4h0M216.9 96.5h0M217.4 95.7h0M213.9 106.1h0M214.2 105.1h0M209.7 109.9h0M210.0 109.0h0M208.9 106.9h0M207.9 106.8h0M203.0 104.3h0M203.3 105.2h0M206.5 91.7h0M207.3 91.1h0M215.5 104.5h0M215.6 103.5h0M206.9 109.3h0M207.9 108.9h0M200.3 93.4h0M201.3 93.2h0M219.5 109.2h0M219.4 108.2h0M213.9 95.5h0M214.9 95.4h0M217.2 93.4h0M216.9 94.3h0M198.0 94.7h0M207.1 96.4h0M208.0 96.2h0M219.6 104.1h0M220.6 104.2h0M208.8 108.2h0M208.0 108.7h0M211.5 93.7h0M211.5 92.7h0M218.8 92.4h0M219.7 91.9h0M210.3 108.8h0M210.7 109.7h0M206.5 109.7h0M204.9 93.6h0M204.6 92.7h0M215.6 108.5h0M214.8 108.0h0M207.9 98.3h0M208.1 97.3h0M220.6 88.7h0M221.2 89.4h0M220.9 101.1h0M219.9 101.1h0M203.6 100.0h0M202.8 99.4h0M217.1 104.9h0M216.8 105.8h0M214.7 107.4h0M215.3 108.2h0M217.6 103.1h0M218.4 103.8h0M220.5 94.2h0M221.2 95.0h0M215.8 110.0h0M216.7 110.4h0M203.9 96.5h0M203.0 97.0h0M206.0 92.9h0M207.0 93.2h0M200.1 98.0h0M201.1 98.4h0M216.6 99.4h0M216.7 100.3h0M200.3 93.4h0M200.2 94.4h0M207.9 108.6h0M207.5 107.7h0M213.9 100.1h0M214.4 101.0h0M208.0 107.3h0M208.8 106.7h0M212.4 107.6h0M211.9 108.4h0M216.3 111.0h0M216.8 110.1h0M219.7 105.7h0M219.0 105.0h0M205.6 104.4h0M206.5 104.9h0M217.8 106.6h0M216.9 106.3h0M208.5 99.9h0M207.7 99.3h0M215.1 112.3h0M215.2 113.3h0M217.7 98.1h0M217.0 97.4h0M222.0 101.6h0M222.7 102.2h0M211.6 106.7h0M210.6 106.4h0M219.1 101.6h0M218.1 101.4h0M207.7 107.9h0M207.6 108.9h0M204.6 98.4h0M205.6 98.4h0M208.4 106.2h0M208.2 107.2h0M221.9 101.8h0M221.6 102.7h0M207.7 93.5h0M207.9 94.5h0M218.5 104.6h0M217.6 104.6h0M206.7 104.7h0M207.5 104.1h0M209.7 95.7h0M208.7 96.0h0M219.2 97.3h0M219.4 96.3h0M207.3 94.6h0M206.8 95.5h0M204.8 94.4h0M204.5 95.4h0M253.8 41.8h0M253.1 41.1h0M244.6 45.0h0M245.6 44.9h0M246.7 45.0h0M245.7 45.1h0M249.0 44.1h0M249.0 45.1h0M248.1 42.7h0M247.3 42.1h0M254.0 45.9h0M253.0 46.0h0M249.0 33.4h0M248.3 34.1h0M255.3 39.4h0M254.7 38.6h0M254.8 40.5h0M254.8 39.5h0M252.5 38.1h0M253.0 37.2h0M243.9 41.3h0M244.3 40.4h0M255.8 39.2h0M255.9 38.2h0M251.6 45.6h0M256.2 44.0h0M256.5 45.0h0M253.6 40.4h0M253.7 39.4h0M263.6 37.8h0M262.7 38.2h0M255.7 47.5h0M255.6 46.5h0M251.4 36.4h0M250.9 37.3h0M244.2 43.2h0M245.0 42.6h0M259.7 38.7h0M259.1 37.9h0M247.7 31.6h0M248.5 31.0h0M259.4 37.2h0M260.2 36.7h0M250.7 38.1h0M250.4 39.1h0M244.5 40.6h0M245.5 40.2h0M265.9 38.5h0M266.9 38.4h0M246.9 31.3h0M247.9 31.6h0M245.4 45.7h0M246.4 45.6h0M244.4 44.1h0M244.8 43.2h0M254.6 46.8h0M243.6 42.0h0M250.9 43.3h0M250.8 44.3h0M252.3 40.7h0M251.3 40.8h0M246.8 44.5h0M246.0 45.0h0M258.8 38.1h0M257.8 38.3h0M257.2 35.9h0M257.5 36.9h0M251.4 41.2h0M252.3 41.7h0M258.0 36.2h0M257.1 36.0h0M252.5 42.6h0M252.3 41.6h0M263.1 35.8h0M253.6 40.9h0M254.5 40.5h0M257.3 35.6h0M251.8 32.4h0M251.1 31.7h0M248.2 43.7h0M248.8 42.9h0M249.5 43.7h0M249.7 42.7h0M245.4 44.6h0M245.0 43.7h0M255.0 41.0h0M255.8 41.6h0M247.7 42.8h0M246.9 43.5h0M253.1 39.7h0M254.1 39.9h0M245.8 41.7h0M245.4 40.8h0M258.0 36.8h0M257.2 37.5h0M262.4 38.2h0M263.4 38.3h0M249.5 31.6h0M250.2 32.3h0M257.0 45.7h0M256.1 45.2h0M258.0 37.7h0M258.0 38.7h0M249.6 40.5h0M249.7 39.5h0M259.7 37.6h0M259.2 38.4h0M248.7 31.7h0M248.9 32.6h0M259.9 36.0h0M249.5 33.1h0M248.8 33.8h0M249.1 33.4h0M248.1 33.2h0M246.7 38.6h0M246.8 39.5h0M254.4 36.7h0M254.8 35.8h0M248.7 32.0h0M246.8 45.7h0M247.0 35.6h0M247.3 34.6h0M247.3 39.3h0M246.4 39.7h0M255.0 35.8h0M255.5 36.7h0M261.1 36.0h0M263.1 36.8h0M264.1 36.7h0M247.8 38.4h0M248.3 37.5h0M247.6 44.0h0M246.9 43.3h0M258.2 39.4h0M258.6 40.3h0M248.2 32.1h0M247.9 31.1h0M263.2 36.7h0M264.2 36.3h0M265.7 39.1h0M266.0 38.1h0M247.8 45.1h0M252.4 41.1h0M253.4 41.1h0M254.2 39.7h0M254.6 40.6h0M251.1 43.0h0M250.2 43.3h0M255.9 40.0h0M255.1 40.6h0M247.7 32.7h0M247.2 33.6h0M243.6 41.1h0M255.4 39.5h0M255.9 40.3h0M246.8 40.7h0M246.3 39.9h0M252.8 38.1h0M253.4 37.3h0M262.4 36.7h0M262.7 37.7h0M244.5 39.7h0M245.4 40.2h0M249.4 38.1h0M248.5 37.6h0M253.9 39.5h0M254.8 39.0h0M260.0 35.6h0M256.1 38.3h0M256.8 37.7h0M250.7 41.9h0M251.3 42.7h0M249.8 38.9h0M248.9 39.3h0M250.5 37.9h0M250.7 38.8h0M245.4 40.2h0M246.1 39.5h0M248.2 43.0h0M247.2 43.2h0M258.3 38.9h0M258.4 39.9h0M248.7 39.7h0M247.8 40.2h0M256.9 39.3h0M256.1 39.8h0M250.5 44.0h0M251.5 44.3h0M264.7 38.4h0M265.7 38.6h0M254.1 43.4h0M255.0 43.6h0M247.0 36.7h0M262.0 39.0h0M262.5 38.2h0M255.5 47.3h0M254.5 47.0h0M258.2 37.4h0M257.3 37.8h0M261.1 36.0h0M260.2 36.5h0M252.7 36.4h0M253.5 35.8h0M255.5 38.5h0M256.2 39.2h0M246.8 40.7h0M245.8 41.0h0M265.9 36.5h0M266.9 36.1h0M253.7 46.4h0M254.5 45.7h0M257.2 39.4h0M258.2 39.4h0M256.0 39.7h0M255.4 38.9h0M252.0 41.1h0M251.0 41.2h0M236.0 48.1h0M237.0 48.5h0M234.8 48.2h0M234.4 47.3h0M237.3 48.0h0M236.4 48.1h0M237.5 47.5h0M236.8 46.8h0M249.8 53.0h0M250.7 53.4h0M250.3 52.3h0M195.5 59.1h0M193.8 59.7h0M194.6 60.3h0M194.3 60.4h0M193.3 60.4h0M194.4 56.3h0M192.9 61.0h0M193.8 60.7h0M195.3 60.3h0M194.4 59.8h0M193.7 60.0h0M193.4 61.0h0M194.1 59.0h0M195.1 59.1h0M192.0 57.2h0M194.3 61.9h0M195.1 61.4h0M195.0 58.4h0M194.5 57.5h0M192.3 57.9h0M192.5 58.9h0M194.1 58.5h0M193.3 59.0h0M194.1 63.0h0M192.9 62.6h0M193.0 61.6h0M194.2 63.0h0M193.5 62.3h0M192.6 58.8h0M191.9 58.1h0M192.9 62.4h0M192.0 62.0h0M192.6 57.3h0M192.5 58.3h0M269.0 72.1h0M273.3 59.2h0M285.4 83.9h0M263.8 87.8h0M261.9 94.0h0M277.4 72.6h0M289.6 81.4h0M266.6 66.3h0M279.2 69.1h0M241.3 91.0h0M281.0 81.1h0M250.5 74.7h0M255.8 78.7h0M258.7 72.0h0M281.7 61.8h0M273.6 84.1h0M275.1 84.1h0M274.9 85.8h0M291.5 79.8h0M242.7 64.1h0M243.7 64.2h0M245.1 63.4h0M244.4 62.6h0M239.5 67.4h0M241.5 62.2h0M241.0 63.1h0M240.1 62.8h0M241.1 62.6h0M240.4 64.8h0M240.5 65.8h0M241.8 63.0h0M241.3 63.9h0M241.8 65.3h0M241.7 64.3h0M239.5 65.9h0M240.9 64.6h0M241.4 65.5h0M240.9 65.2h0M241.0 66.2h0M243.3 62.0h0M240.6 62.1h0M239.6 62.1h0M243.8 63.8h0M242.8 63.7h0M244.4 65.4h0M243.8 66.2h0M243.3 66.7h0M242.4 67.0h0M240.8 65.4h0M241.2 66.3h0M231.6 97.8h0M232.7 97.6h0M228.1 99.1h0M235.6 88.0h0M236.1 97.4h0M201.8 124.5h0M196.1 119.5h0M198.9 118.9h0M228.2 135.4h0M227.5 135.4h0M227.1 134.4h0M226.2 134.4h0M227.7 135.1h0M229.8 135.8h0M229.0 135.2h0M228.8 135.4h0M229.8 135.1h0M229.0 136.0h0M229.7 135.3h0M229.4 135.1h0M228.9 135.9h0M226.6 134.4h0M227.2 135.2h0M245.3 152.9h0M246.7 157.0h0M245.7 149.3h0M259.0 110.4h0M264.8 126.7h0M256.5 109.1h0M271.2 121.8h0M252.5 110.4h0M264.0 123.8h0M266.4 107.5h0M241.4 119.6h0M257.0 113.6h0M270.4 116.3h0M260.7 124.2h0M290.2 102.0h0M298.8 103.1h0M312.6 46.0h0M312.6 45.8h0M312.3 47.4h0M312.0 46.4h0M310.1 89.1h0M311.0 89.4h0M312.7 89.5h0M311.0 89.0h0M311.6 89.8h0M211.4 52.0h0M209.1 55.9h0M209.2 56.2h0M209.9 55.0h0M210.7 53.6h0M209.9 56.1h0M208.6 56.1h0M208.2 56.5h0M210.2 53.2h0M211.9 55.6h0M210.7 53.9h0M210.4 55.4h0M209.1 55.2h0M208.8 56.3h0M209.5 56.3h0M210.0 57.4h0M210.0 56.7h0M211.5 53.8h0M212.5 53.9h0M209.9 54.8h0M210.0 57.9h0M209.9 55.3h0M208.7 56.8h0M212.1 52.6h0M213.0 53.4h0M209.3 55.9h0M211.4 52.3h0M212.4 55.0h0M210.6 55.0h0M213.4 52.8h0M212.8 52.7h0M208.8 55.8h0M210.6 58.3h0M212.1 55.2h0M211.6 51.8h0M211.8 51.8h0M212.7 50.7h0M217.6 48.2h0M213.9 50.3h0M216.6 48.8h0M215.8 47.5h0M213.5 50.9h0M216.6 47.8h0M215.3 47.3h0M215.6 50.5h0M215.5 49.9h0M215.7 48.1h0M215.8 49.2h0M214.4 50.0h0M216.7 49.0h0M216.2 47.1h0M215.4 48.9h0M215.4 47.5h0M213.8 49.3h0M216.3 48.7h0M211.6 51.1h0M213.3 51.5h0M215.3 48.0h0M213.0 51.8h0M214.9 49.0h0M213.2 50.4h0M214.2 51.6h0M214.6 50.7h0M214.1 48.8h0M214.1 51.0h0M217.0 48.8h0M212.6 50.8h0M212.2 50.9h0M214.6 50.6h0M216.5 47.9h0M219.9 47.9h0M219.9 47.6h0M222.2 48.6h0M220.1 47.6h0M223.9 49.3h0M222.4 48.1h0M220.5 49.1h0M219.0 48.6h0M224.2 49.4h0M219.5 46.8h0M223.5 47.9h0M221.2 48.9h0M222.8 48.1h0M222.6 49.9h0M221.6 48.2h0M222.6 49.8h0M222.6 50.0h0M223.1 50.2h0M220.3 48.8h0M220.3 47.2h0M220.7 49.7h0M220.7 47.8h0M223.9 50.4h0M223.2 48.3h0M223.7 47.6h0M219.3 46.8h0M221.0 47.6h0M223.8 48.7h0M230.5 48.5h0M227.1 48.3h0M224.8 48.8h0M231.3 49.9h0M230.9 47.3h0M227.7 49.8h0M225.5 47.6h0M225.9 47.7h0M229.7 49.3h0M231.3 47.2h0M229.5 49.5h0M225.7 47.7h0M231.4 49.4h0M224.9 48.0h0M229.0 47.7h0M227.5 47.7h0M225.1 48.9h0M228.4 49.8h0M224.5 48.6h0M225.0 49.1h0M225.6 48.4h0M231.3 49.0h0M229.2 49.0h0M226.0 49.5h0M231.2 47.3h0M230.3 48.1h0M225.9 49.4h0M230.4 47.6h0M225.9 48.9h0M225.9 48.9h0M231.3 47.1h0M227.4 47.9h0M225.7 49.2h0M231.1 48.4h0M228.5 49.3h0M237.6 49.6h0M233.8 47.4h0M237.9 48.4h0M237.6 47.1h0M237.0 47.0h0M232.4 47.3h0M234.0 48.1h0M236.2 49.5h0M234.5 48.6h0M234.4 48.0h0M233.3 46.9h0M233.3 49.1h0M237.1 48.7h0M234.6 48.1h0M232.8 47.7h0M238.5 48.4h0M234.3 48.4h0M234.9 47.7h0M234.4 48.1h0M237.9 49.3h0M233.5 48.3h0M233.1 49.8h0M232.4 48.4h0M231.6 48.4h0M234.6 46.9h0M232.6 48.4h0M234.8 47.7h0M231.8 48.0h0M233.9 47.2h0M235.6 47.4h0M235.3 48.9h0M231.6 48.5h0M236.0 49.4h0M236.4 49.2h0M236.1 47.4h0M224.7 54.3h0M225.9 52.0h0M228.2 49.4h0M227.6 52.0h0M226.4 55.5h0M228.3 54.1h0M228.1 49.2h0M228.6 51.5h0M227.7 49.8h0M226.0 52.2h0M228.2 51.7h0M228.0 51.3h0M225.8 54.1h0M227.1 53.9h0M226.0 56.8h0M228.2 50.6h0M223.7 55.1h0M227.1 50.5h0M227.0 52.6h0M225.9 53.6h0M224.0 54.4h0M226.9 51.0h0M227.4 51.5h0M228.3 50.6h0M226.7 50.7h0M226.5 54.2h0M225.7 56.6h0M225.4 54.1h0M229.5 50.2h0M227.6 49.6h0M228.6 50.3h0M227.8 54.1h0M224.6 55.4h0M227.0 54.2h0M229.2 51.3h0M230.1 50.9h0M227.3 53.2h0M226.7 55.4h0M228.4 51.2h0M226.6 54.5h0M229.5 52.1h0M228.0 52.5h0M226.2 55.4h0M227.1 51.5h0M229.7 52.3h0M223.5 54.9h0M223.9 58.6h0M223.5 59.7h0M220.2 60.8h0M222.0 61.2h0M219.8 61.1h0M223.3 57.0h0M222.3 56.4h0M221.6 61.7h0M222.2 61.5h0M224.2 56.4h0M224.3 56.6h0M220.9 61.8h0M224.3 58.4h0M222.2 59.9h0M221.9 62.9h0M222.8 59.4h0M223.9 59.2h0M222.8 58.6h0M224.3 57.7h0M221.1 58.9h0M223.0 59.6h0M224.3 56.2h0M224.3 59.1h0M222.3 59.1h0M222.4 58.1h0M223.3 61.2h0M224.2 56.3h0M221.9 60.1h0M224.1 57.9h0M221.9 61.2h0M223.2 60.2h0M222.0 60.4h0M223.7 55.6h0M219.8 60.8h0M220.1 62.2h0M223.3 59.7h0M221.9 61.1h0M224.4 58.9h0M221.4 59.9h0M222.5 62.0h0M223.3 57.2h0M222.8 56.2h0M220.4 62.3h0M223.3 57.7h0M221.9 61.6h0M221.6 60.4h0M220.0 61.9h0M221.7 60.6h0M217.4 69.8h0M219.0 68.6h0M220.0 63.8h0M218.3 64.1h0M218.5 64.2h0M220.5 66.0h0M219.3 67.7h0M217.0 70.6h0M220.8 64.0h0M220.2 63.9h0M219.5 67.4h0M218.6 68.3h0M217.4 69.2h0M218.6 64.6h0M221.3 63.6h0M218.9 62.6h0M217.7 66.7h0M218.8 71.3h0M219.3 70.6h0M217.4 68.1h0M218.0 65.5h0M218.1 69.0h0M220.7 65.6h0M220.1 63.5h0M219.9 67.5h0M220.2 67.7h0M219.0 65.1h0M220.0 64.2h0M218.8 63.5h0M218.4 64.1h0M216.1 69.6h0M219.0 65.0h0M218.7 62.9h0M219.9 69.0h0M221.4 64.6h0M218.0 65.1h0M218.6 69.4h0M219.6 69.9h0M219.2 67.4h0M218.9 63.0h0M216.8 67.5h0M218.1 67.8h0M220.2 64.0h0M217.5 69.9h0M218.7 68.0h0M221.0 66.4h0M220.8 65.1h0M221.7 64.3h0M216.5 68.3h0M217.3 68.0h0M196.3 77.3h0M197.6 76.4h0M195.2 75.4h0M197.3 73.6h0M196.4 76.7h0M201.0 74.7h0M198.5 73.3h0M197.7 75.1h0M199.4 75.5h0M199.3 75.8h0M197.4 74.6h0M193.7 76.6h0M196.5 73.1h0M196.4 73.7h0M196.8 77.1h0M200.0 71.2h0M198.3 74.1h0M193.8 76.4h0M197.8 74.2h0M197.2 72.9h0M198.8 74.4h0M195.5 76.5h0M201.9 73.6h0M198.6 74.1h0M199.5 73.2h0M199.0 73.1h0M198.7 75.1h0M198.6 74.5h0M196.5 74.8h0M198.8 73.6h0M197.0 74.6h0M196.4 76.2h0M199.9 71.6h0M198.9 74.0h0M199.1 74.5h0M195.8 73.6h0M196.7 75.4h0M199.7 75.4h0M199.2 74.3h0M197.2 76.4h0M195.8 77.9h0M197.5 74.6h0M199.3 73.8h0M200.6 70.8h0M194.6 77.3h0M195.0 75.2h0M201.6 72.1h0M195.8 75.3h0M195.0 75.3h0M196.0 78.1h0M199.2 72.9h0M195.8 78.3h0M199.7 71.3h0M200.6 72.9h0M201.2 71.9h0M196.1 73.4h0M197.7 73.4h0M200.0 71.7h0M200.2 72.1h0M200.5 73.7h0M201.2 72.6h0M196.1 74.6h0M194.8 74.8h0M203.6 70.1h0M207.2 66.9h0M205.5 70.0h0M203.1 72.1h0M203.6 72.0h0M203.5 72.7h0M203.3 69.3h0M202.2 70.3h0M202.2 70.8h0M209.0 67.7h0M205.1 71.3h0M201.4 70.2h0M208.2 67.9h0M202.3 70.2h0M208.3 70.7h0M205.1 71.2h0M204.7 69.1h0M203.7 70.2h0M204.0 72.0h0M202.0 71.2h0M206.5 67.4h0M209.4 68.6h0M206.2 68.3h0M203.7 72.4h0M208.4 66.4h0M207.5 67.7h0M202.3 72.0h0M202.9 72.8h0M207.9 67.9h0M202.7 71.5h0M206.7 67.3h0M206.5 67.8h0M203.9 69.3h0M202.2 71.8h0M204.6 72.3h0M209.1 69.2h0M205.9 70.5h0M204.1 70.6h0M205.7 69.5h0M205.7 71.5h0M209.8 68.9h0M208.0 67.9h0M201.6 70.7h0M206.0 70.9h0M208.1 70.5h0M207.4 68.2h0M201.9 71.7h0M204.8 72.0h0M208.8 68.5h0M208.1 69.7h0M205.6 69.7h0M209.7 69.3h0M206.9 71.5h0M203.2 72.4h0M205.6 69.2h0M202.7 71.8h0M207.9 67.4h0M209.6 70.1h0M203.1 71.4h0M205.1 69.5h0M210.0 66.7h0M217.5 65.7h0M217.0 64.5h0M212.7 64.6h0M213.0 66.7h0M216.6 62.7h0M213.9 63.9h0M216.7 63.3h0M215.2 65.9h0M211.1 67.1h0M212.3 65.3h0M211.9 65.0h0M215.9 67.1h0M213.6 65.6h0M213.0 64.8h0M215.7 66.0h0M210.1 67.2h0M210.8 68.3h0M210.2 69.3h0M210.6 69.0h0M211.1 67.4h0M215.9 67.0h0M215.8 63.5h0M215.0 65.1h0M210.8 67.2h0M216.1 62.8h0M215.1 65.6h0M216.4 64.6h0M212.1 68.4h0M210.7 68.3h0M211.1 65.3h0M211.4 68.6h0M211.5 68.9h0M211.4 69.0h0M210.2 68.4h0M213.9 66.4h0M216.3 63.6h0M217.5 64.6h0M215.5 64.1h0M217.8 65.1h0M212.7 65.2h0M216.5 65.0h0M218.0 65.7h0M215.8 66.0h0M211.4 68.6h0M214.5 63.9h0M209.4 66.3h0M211.7 68.1h0M215.9 65.9h0M213.2 68.2h0M210.2 66.5h0M212.6 65.5h0M215.9 66.5h0M215.1 64.6h0M213.8 65.2h0M213.9 66.1h0M211.3 68.7h0M216.4 66.0h0M209.8 66.7h0M223.0 61.6h0M222.5 62.7h0M219.5 61.3h0M220.0 61.3h0M220.6 63.3h0M220.0 63.4h0M220.1 59.9h0M221.6 63.0h0M222.5 62.2h0M222.7 62.7h0M217.5 63.9h0M219.3 64.2h0M219.7 63.4h0M220.5 59.5h0M221.0 60.7h0M219.4 63.5h0M220.8 60.3h0M221.0 59.5h0M218.7 65.3h0M224.5 61.2h0M224.4 60.2h0M221.2 61.6h0M221.9 63.1h0M223.5 59.4h0M218.8 63.4h0M220.9 63.2h0M223.7 60.2h0M218.0 64.0h0M218.3 63.8h0M223.1 60.8h0M219.6 60.9h0M224.3 60.9h0M219.5 60.5h0M221.6 60.7h0M219.7 62.0h0M218.3 61.8h0M221.7 61.2h0M220.8 63.0h0M219.9 60.8h0M219.3 63.2h0M222.1 61.5h0M221.9 60.2h0M222.6 60.8h0M218.2 61.9h0M222.3 62.3h0M224.3 60.7h0M223.0 60.6h0M218.5 62.4h0M222.5 59.4h0M220.7 62.1h0M216.6 63.0h0M219.4 64.3h0M221.5 59.1h0M219.6 65.1h0M219.2 64.4h0" stroke="#E2288C" stroke-width="1.2" stroke-linecap="round"/>
<ellipse cx="94" cy="77.7" rx="41" ry="26.7" transform="rotate(-28 94 77.7)" fill="none" stroke="#2a2a2a" stroke-width="1.1" stroke-dasharray="2.2 2"/>
<ellipse cx="264" cy="77.7" rx="41" ry="26.7" transform="rotate(-28 264 77.7)" fill="none" stroke="#444" stroke-width="0.9" stroke-dasharray="2.2 2"/>
<text x="15.6" y="20.67" font-size="11.3" fill="#000" font-weight="bold" textLength="8.9" lengthAdjust="spacingAndGlyphs" stroke="#000" stroke-width="0.35">A</text>
<text x="104.35" y="55.85" font-size="7.9" fill="#222" textLength="7.35" lengthAdjust="spacingAndGlyphs">M</text>
<text x="56.35" y="116.68" font-size="8.3" fill="#222" textLength="15.39" lengthAdjust="spacingAndGlyphs">T4N</text>
<text x="128.2" y="103.28" font-size="8.3" fill="#222" textLength="16.27" lengthAdjust="spacingAndGlyphs">T4M</text>
<text x="140.55" y="117.18" font-size="8.3" fill="#222" textLength="16.01" lengthAdjust="spacingAndGlyphs">T8M</text>
<text x="128.28" y="136.58" font-size="8.3" fill="#222" textLength="13.33" lengthAdjust="spacingAndGlyphs">T8E</text>
<text x="55.1" y="146.83" font-size="8.3" fill="#222" textLength="12.04" lengthAdjust="spacingAndGlyphs">NK</text>
<text x="97.6" y="154.68" font-size="8.3" fill="#222" textLength="15.1" lengthAdjust="spacingAndGlyphs">T8N</text>
<text x="128.12" y="158.6" font-size="7.2" fill="#111" font-weight="bold" textLength="92.45" lengthAdjust="spacingAndGlyphs">TCRα: CAGSLYNFNKFYF</text>
<text x="128.15" y="168.18" font-size="7.2" fill="#111" font-weight="bold" textLength="102.27" lengthAdjust="spacingAndGlyphs">TCRβ: CASSRQGGSGNTIYF</text>
<circle cx="303.3" cy="28.6" r="3.4" fill="#178A8C"/>
<circle cx="303.3" cy="39.6" r="3.4" fill="#E2288C"/>
<text x="308.97" y="31.65" font-size="8.1" fill="#222" textLength="21.77" lengthAdjust="spacingAndGlyphs">Blood</text>
<text x="309.25" y="42.2" font-size="8.1" fill="#222" textLength="15.32" lengthAdjust="spacingAndGlyphs">Skin</text>
<line x1="15.8" y1="145.2" x2="15.8" y2="176.9" stroke="#444" stroke-width="1.3"/>
<line x1="15.2" y1="176.2" x2="48.4" y2="176.2" stroke="#444" stroke-width="1.3"/>
<text x="13.32" y="172.53" font-size="8.8" fill="#333" textLength="23.09" lengthAdjust="spacingAndGlyphs" transform="rotate(-90 13.32 172.53)">tSNE-2</text>
<text x="20.08" y="185.77" font-size="8.8" fill="#333" textLength="22.82" lengthAdjust="spacingAndGlyphs">tSNE-1</text>
<text x="57.45" y="192.12" font-size="7.78" fill="#444" textLength="29.31" lengthAdjust="spacingAndGlyphs">Celltype</text>
<circle cx="96.8" cy="185.5" r="3.1" fill="#D63C2B"/>
<text x="103.1" y="188.4" font-size="7.6" fill="#222">M</text>
<circle cx="124.6" cy="185.5" r="3.1" fill="#9B59B6"/>
<text x="130.9" y="188.4" font-size="7.6" fill="#222">T4N</text>
<circle cx="152.8" cy="185.5" r="3.1" fill="#5B6BC0"/>
<text x="159.1" y="188.4" font-size="7.6" fill="#222">T8N</text>
<circle cx="180.7" cy="185.5" r="3.1" fill="#4DB848"/>
<text x="187.0" y="188.4" font-size="7.6" fill="#222">T4M</text>
<circle cx="208.4" cy="185.5" r="3.1" fill="#CA6320"/>
<text x="214.7" y="188.4" font-size="7.6" fill="#222">T8M</text>
<circle cx="236.3" cy="185.5" r="3.1" fill="#40B08A"/>
<text x="242.6" y="188.4" font-size="7.6" fill="#222">T8E</text>
<circle cx="263.7" cy="185.5" r="3.1" fill="#3AA3D8"/>
<text x="270.0" y="188.4" font-size="7.6" fill="#222">gdT</text>
<circle cx="291.3" cy="185.5" r="3.1" fill="#C0504D"/>
<text x="297.6" y="188.4" font-size="7.6" fill="#222">NK</text>
<circle cx="316.8" cy="185.5" r="3.1" fill="#E0A032"/>
<text x="323.1" y="188.4" font-size="7.6" fill="#222">BC</text>
<circle cx="96.8" cy="196.9" r="3.1" fill="#F06A5A"/>
<text x="103.1" y="199.8" font-size="7.6" fill="#222">BCM</text>
<circle cx="124.6" cy="196.9" r="3.1" fill="#9AB83A"/>
<text x="130.9" y="199.8" font-size="7.6" fill="#222">MO</text>
<circle cx="152.8" cy="196.9" r="3.1" fill="#7A6A22"/>
<text x="159.1" y="199.8" font-size="7.6" fill="#222">DC</text>
<circle cx="180.7" cy="196.9" r="3.1" fill="#D23AA0"/>
<text x="187.0" y="199.8" font-size="7.6" fill="#222">pDC</text>
<circle cx="208.4" cy="196.9" r="3.1" fill="#3C7A30"/>
<text x="214.7" y="199.8" font-size="7.6" fill="#222">FB</text>
<circle cx="236.3" cy="196.9" r="3.1" fill="#C772C4"/>
<text x="242.6" y="199.8" font-size="7.6" fill="#222">KRT</text>
<circle cx="263.7" cy="196.9" r="3.1" fill="#D6336C"/>
<text x="270.0" y="199.8" font-size="7.6" fill="#222">UNC</text>
<circle cx="291.3" cy="196.9" r="3.1" fill="#CBCBCB"/>
<text x="297.6" y="199.8" font-size="7.6" fill="#222">APK</text>
<text x="334.27" y="20.83" font-size="11.2" fill="#000" font-weight="bold" textLength="7.21" lengthAdjust="spacingAndGlyphs" stroke="#000" stroke-width="0.35">B</text>
<text x="417.22" y="18.35" font-size="9.18" fill="#333" textLength="40.62" lengthAdjust="spacingAndGlyphs">Percentage</text>
<text x="457.72" y="11.72" font-size="6.4" fill="#111" stroke="#111" stroke-width="0.08">25<tspan font-size="5.9">%</tspan></text>
<text x="470.73" y="11.72" font-size="6.4" fill="#111" stroke="#111" stroke-width="0.08">50<tspan font-size="5.9">%</tspan></text>
<text x="484.3" y="11.72" font-size="6.4" fill="#111" stroke="#111" stroke-width="0.08">75<tspan font-size="5.9">%</tspan></text>
<text x="498.0" y="11.72" font-size="6.4" fill="#111" stroke="#111" stroke-width="0.08">100<tspan font-size="5.9">%</tspan></text>
<circle cx="466" cy="18" r="2.1" fill="#000"/>
<circle cx="478.3" cy="18" r="2.95" fill="#000"/>
<circle cx="491" cy="18" r="3.7" fill="#000"/>
<circle cx="503.5" cy="18" r="4.25" fill="#000"/>
<line x1="392.02" y1="25.5" x2="392.02" y2="173.8" stroke="#666" stroke-width="1.2" stroke-dasharray="3 1.8"/>
<line x1="411.52" y1="25.5" x2="411.52" y2="173.8" stroke="#666" stroke-width="1.2" stroke-dasharray="3 1.8"/>
<line x1="431.02" y1="25.5" x2="431.02" y2="173.8" stroke="#666" stroke-width="1.2" stroke-dasharray="3 1.8"/>
<line x1="450.52" y1="25.5" x2="450.52" y2="173.8" stroke="#666" stroke-width="1.2" stroke-dasharray="3 1.8"/>
<line x1="470.02" y1="25.5" x2="470.02" y2="173.8" stroke="#666" stroke-width="1.2" stroke-dasharray="3 1.8"/>
<line x1="489.52" y1="25.5" x2="489.52" y2="173.8" stroke="#666" stroke-width="1.2" stroke-dasharray="3 1.8"/>
<line x1="499.27" y1="25.5" x2="499.27" y2="173.8" stroke="#666" stroke-width="1.2" stroke-dasharray="3 1.8"/>
<line x1="366.1" y1="24" x2="366.1" y2="175.2" stroke="#222" stroke-width="1.4"/>
<line x1="365.4" y1="174.6" x2="510" y2="174.6" stroke="#222" stroke-width="1.3"/>
<line x1="363.2" y1="28.2" x2="366" y2="28.2" stroke="#222" stroke-width="1"/>
<line x1="363.2" y1="37.32" x2="366" y2="37.32" stroke="#222" stroke-width="1"/>
<line x1="363.2" y1="46.44" x2="366" y2="46.44" stroke="#222" stroke-width="1"/>
<line x1="363.2" y1="55.56" x2="366" y2="55.56" stroke="#222" stroke-width="1"/>
<line x1="363.2" y1="64.68" x2="366" y2="64.68" stroke="#222" stroke-width="1"/>
<line x1="363.2" y1="73.8" x2="366" y2="73.8" stroke="#222" stroke-width="1"/>
<line x1="363.2" y1="82.92" x2="366" y2="82.92" stroke="#222" stroke-width="1"/>
<line x1="363.2" y1="92.04" x2="366" y2="92.04" stroke="#222" stroke-width="1"/>
<line x1="363.2" y1="101.16" x2="366" y2="101.16" stroke="#222" stroke-width="1"/>
<text x="361.65" y="113.41" font-size="8.24" fill="#333" text-anchor="end" textLength="18.05" lengthAdjust="spacingAndGlyphs">BCM</text>
<line x1="363.2" y1="110.28" x2="366" y2="110.28" stroke="#222" stroke-width="1"/>
<line x1="363.2" y1="119.4" x2="366" y2="119.4" stroke="#222" stroke-width="1"/>
<line x1="363.2" y1="128.52" x2="366" y2="128.52" stroke="#222" stroke-width="1"/>
<line x1="363.2" y1="137.64" x2="366" y2="137.64" stroke="#222" stroke-width="1"/>
<line x1="363.2" y1="146.76" x2="366" y2="146.76" stroke="#222" stroke-width="1"/>
<line x1="363.2" y1="155.88" x2="366" y2="155.88" stroke="#222" stroke-width="1"/>
<line x1="363.2" y1="165.0" x2="366" y2="165.0" stroke="#222" stroke-width="1"/>
<text x="361.65" y="31.33" font-size="8.24" fill="#333" text-anchor="end" textLength="6.77" lengthAdjust="spacingAndGlyphs">M</text>
<circle cx="386.75" cy="28.20" r="0.60" fill="#D63C2B" fill-opacity="0.45"/>
<circle cx="396.50" cy="28.20" r="4.15" fill="#D63C2B"/>
<circle cx="406.25" cy="28.20" r="2.65" fill="#D63C2B"/>
<circle cx="416.00" cy="28.20" r="2.05" fill="#D63C2B"/>
<circle cx="425.75" cy="28.20" r="1.25" fill="#D63C2B"/>
<circle cx="435.50" cy="28.20" r="4.15" fill="#D63C2B"/>
<circle cx="445.25" cy="28.20" r="2.75" fill="#D63C2B"/>
<circle cx="455.00" cy="28.20" r="2.50" fill="#D63C2B"/>
<circle cx="464.75" cy="28.20" r="4.30" fill="#D63C2B"/>
<circle cx="474.50" cy="28.20" r="3.15" fill="#D63C2B"/>
<circle cx="484.25" cy="28.20" r="3.15" fill="#D63C2B"/>
<circle cx="494.00" cy="28.20" r="2.75" fill="#D63C2B"/>
<circle cx="503.75" cy="28.20" r="3.50" fill="#D63C2B"/>
<text x="361.65" y="40.45" font-size="8.24" fill="#333" text-anchor="end" textLength="15.34" lengthAdjust="spacingAndGlyphs">T4N</text>
<circle cx="377.00" cy="37.32" r="2.05" fill="#9B59B6"/>
<circle cx="386.75" cy="37.32" r="0.75" fill="#9B59B6" fill-opacity="0.45"/>
<circle cx="396.50" cy="37.32" r="2.75" fill="#9B59B6"/>
<circle cx="406.25" cy="37.32" r="1.00" fill="#9B59B6"/>
<circle cx="435.50" cy="37.32" r="2.50" fill="#9B59B6"/>
<circle cx="445.25" cy="37.32" r="0.90" fill="#9B59B6"/>
<circle cx="474.50" cy="37.32" r="2.05" fill="#9B59B6"/>
<circle cx="503.75" cy="37.32" r="2.30" fill="#9B59B6"/>
<text x="361.65" y="49.57" font-size="8.24" fill="#333" text-anchor="end" textLength="15.34" lengthAdjust="spacingAndGlyphs">T8N</text>
<circle cx="377.00" cy="46.44" r="2.30" fill="#5B6BC0"/>
<circle cx="386.75" cy="46.44" r="1.05" fill="#5B6BC0"/>
<circle cx="396.50" cy="46.44" r="1.25" fill="#5B6BC0"/>
<circle cx="474.50" cy="46.44" r="1.65" fill="#5B6BC0"/>
<text x="361.65" y="58.69" font-size="8.24" fill="#333" text-anchor="end" textLength="16.25" lengthAdjust="spacingAndGlyphs">T4M</text>
<circle cx="377.00" cy="55.56" r="2.50" fill="#4DB848"/>
<circle cx="386.75" cy="55.56" r="1.65" fill="#4DB848"/>
<circle cx="396.50" cy="55.56" r="2.25" fill="#4DB848"/>
<circle cx="406.25" cy="55.56" r="0.80" fill="#4DB848"/>
<circle cx="416.00" cy="55.56" r="1.65" fill="#4DB848"/>
<circle cx="425.75" cy="55.56" r="2.50" fill="#4DB848"/>
<circle cx="435.50" cy="55.56" r="1.50" fill="#4DB848"/>
<circle cx="445.25" cy="55.56" r="0.80" fill="#4DB848"/>
<circle cx="455.00" cy="55.56" r="3.15" fill="#4DB848"/>
<circle cx="464.75" cy="55.56" r="1.50" fill="#4DB848"/>
<circle cx="474.50" cy="55.56" r="2.65" fill="#4DB848"/>
<circle cx="494.00" cy="55.56" r="3.15" fill="#4DB848"/>
<circle cx="503.75" cy="55.56" r="2.75" fill="#4DB848"/>
<text x="361.65" y="67.81" font-size="8.24" fill="#333" text-anchor="end" textLength="16.25" lengthAdjust="spacingAndGlyphs">T8M</text>
<circle cx="377.00" cy="64.68" r="2.50" fill="#CA6320"/>
<circle cx="386.75" cy="64.68" r="1.25" fill="#CA6320"/>
<circle cx="396.50" cy="64.68" r="1.40" fill="#CA6320"/>
<circle cx="406.25" cy="64.68" r="2.30" fill="#CA6320"/>
<circle cx="416.00" cy="64.68" r="1.05" fill="#CA6320"/>
<circle cx="425.75" cy="64.68" r="3.70" fill="#CA6320"/>
<circle cx="455.00" cy="64.68" r="2.30" fill="#CA6320"/>
<circle cx="464.75" cy="64.68" r="1.65" fill="#CA6320"/>
<circle cx="474.50" cy="64.68" r="0.80" fill="#CA6320"/>
<circle cx="494.00" cy="64.68" r="1.25" fill="#CA6320"/>
<circle cx="503.75" cy="64.68" r="2.30" fill="#CA6320"/>
<text x="361.65" y="76.93" font-size="8.24" fill="#333" text-anchor="end" textLength="14.9" lengthAdjust="spacingAndGlyphs">T8E</text>
<circle cx="377.00" cy="73.80" r="2.05" fill="#40B08A"/>
<circle cx="386.75" cy="73.80" r="1.80" fill="#40B08A"/>
<circle cx="396.50" cy="73.80" r="1.80" fill="#40B08A"/>
<circle cx="416.00" cy="73.80" r="2.05" fill="#40B08A"/>
<circle cx="425.75" cy="73.80" r="2.65" fill="#40B08A"/>
<circle cx="435.50" cy="73.80" r="1.65" fill="#40B08A"/>
<circle cx="445.25" cy="73.80" r="0.80" fill="#40B08A"/>
<circle cx="455.00" cy="73.80" r="1.80" fill="#40B08A"/>
<circle cx="464.75" cy="73.80" r="0.80" fill="#40B08A"/>
<circle cx="474.50" cy="73.80" r="3.15" fill="#40B08A"/>
<circle cx="494.00" cy="73.80" r="1.00" fill="#40B08A"/>
<text x="361.65" y="86.05" font-size="8.24" fill="#333" text-anchor="end" textLength="14.0" lengthAdjust="spacingAndGlyphs">gdT</text>
<circle cx="377.00" cy="82.92" r="1.25" fill="#3AA3D8"/>
<circle cx="386.75" cy="82.92" r="0.75" fill="#3AA3D8" fill-opacity="0.45"/>
<circle cx="416.00" cy="82.92" r="1.25" fill="#3AA3D8"/>
<circle cx="425.75" cy="82.92" r="1.05" fill="#3AA3D8"/>
<circle cx="494.00" cy="82.92" r="1.00" fill="#3AA3D8"/>
<text x="361.65" y="95.17" font-size="8.24" fill="#333" text-anchor="end" textLength="11.28" lengthAdjust="spacingAndGlyphs">NK</text>
<circle cx="377.00" cy="92.04" r="1.80" fill="#C0504D"/>
<circle cx="386.75" cy="92.04" r="1.80" fill="#C0504D"/>
<circle cx="396.50" cy="92.04" r="2.05" fill="#C0504D"/>
<circle cx="406.25" cy="92.04" r="0.80" fill="#C0504D"/>
<circle cx="416.00" cy="92.04" r="1.80" fill="#C0504D"/>
<circle cx="425.75" cy="92.04" r="2.05" fill="#C0504D"/>
<circle cx="455.00" cy="92.04" r="2.90" fill="#C0504D"/>
<circle cx="464.75" cy="92.04" r="1.25" fill="#C0504D"/>
<circle cx="474.50" cy="92.04" r="2.50" fill="#C0504D"/>
<circle cx="494.00" cy="92.04" r="2.75" fill="#C0504D"/>
<circle cx="503.75" cy="92.04" r="1.40" fill="#C0504D"/>
<text x="361.65" y="104.29" font-size="8.24" fill="#333" text-anchor="end" textLength="11.28" lengthAdjust="spacingAndGlyphs">BC</text>
<circle cx="377.00" cy="101.16" r="2.05" fill="#E0A032"/>
<circle cx="386.75" cy="101.16" r="0.75" fill="#E0A032" fill-opacity="0.45"/>
<circle cx="396.50" cy="101.16" r="2.05" fill="#E0A032"/>
<circle cx="416.00" cy="101.16" r="1.50" fill="#E0A032"/>
<circle cx="425.75" cy="101.16" r="1.50" fill="#E0A032"/>
<circle cx="435.50" cy="101.16" r="1.50" fill="#E0A032"/>
<circle cx="455.00" cy="101.16" r="2.50" fill="#E0A032"/>
<circle cx="464.75" cy="101.16" r="1.25" fill="#E0A032"/>
<circle cx="474.50" cy="101.16" r="1.25" fill="#E0A032"/>
<circle cx="494.00" cy="101.16" r="2.90" fill="#E0A032"/>
<circle cx="503.75" cy="101.16" r="2.05" fill="#E0A032"/>
<circle cx="377.00" cy="110.28" r="1.25" fill="#F06A5A"/>
<circle cx="386.75" cy="110.28" r="1.65" fill="#F06A5A"/>
<circle cx="396.50" cy="110.28" r="1.05" fill="#F06A5A"/>
<text x="361.65" y="122.53" font-size="8.24" fill="#333" text-anchor="end" textLength="13.08" lengthAdjust="spacingAndGlyphs">MO</text>
<circle cx="377.00" cy="119.40" r="3.15" fill="#9AB83A"/>
<circle cx="386.75" cy="119.40" r="0.80" fill="#9AB83A"/>
<circle cx="396.50" cy="119.40" r="1.50" fill="#9AB83A"/>
<circle cx="406.25" cy="119.40" r="1.65" fill="#9AB83A"/>
<circle cx="416.00" cy="119.40" r="4.55" fill="#9AB83A"/>
<circle cx="425.75" cy="119.40" r="1.25" fill="#9AB83A"/>
<circle cx="435.50" cy="119.40" r="3.15" fill="#9AB83A"/>
<circle cx="445.25" cy="119.40" r="3.45" fill="#9AB83A"/>
<circle cx="455.00" cy="119.40" r="1.80" fill="#9AB83A"/>
<circle cx="464.75" cy="119.40" r="1.25" fill="#9AB83A"/>
<circle cx="484.25" cy="119.40" r="2.90" fill="#9AB83A"/>
<circle cx="494.00" cy="119.40" r="2.05" fill="#9AB83A"/>
<circle cx="503.75" cy="119.40" r="2.25" fill="#9AB83A"/>
<text x="361.65" y="131.65" font-size="8.24" fill="#333" text-anchor="end" textLength="11.73" lengthAdjust="spacingAndGlyphs">DC</text>
<circle cx="377.00" cy="128.52" r="1.50" fill="#7A6A22"/>
<circle cx="386.75" cy="128.52" r="2.75" fill="#7A6A22"/>
<circle cx="396.50" cy="128.52" r="0.65" fill="#7A6A22"/>
<circle cx="406.25" cy="128.52" r="1.65" fill="#7A6A22"/>
<circle cx="416.00" cy="128.52" r="1.25" fill="#7A6A22"/>
<circle cx="425.75" cy="128.52" r="2.50" fill="#7A6A22"/>
<circle cx="435.50" cy="128.52" r="0.65" fill="#7A6A22"/>
<circle cx="445.25" cy="128.52" r="2.75" fill="#7A6A22"/>
<circle cx="464.75" cy="128.52" r="1.80" fill="#7A6A22"/>
<circle cx="474.50" cy="128.52" r="0.80" fill="#7A6A22"/>
<circle cx="484.25" cy="128.52" r="3.30" fill="#7A6A22"/>
<circle cx="503.75" cy="128.52" r="0.80" fill="#7A6A22"/>
<text x="361.65" y="140.77" font-size="8.24" fill="#333" text-anchor="end" textLength="16.25" lengthAdjust="spacingAndGlyphs">pDC</text>
<circle cx="377.00" cy="137.64" r="1.00" fill="#D23AA0"/>
<circle cx="386.75" cy="137.64" r="0.75" fill="#D23AA0" fill-opacity="0.45"/>
<circle cx="416.00" cy="137.64" r="1.00" fill="#D23AA0"/>
<circle cx="425.75" cy="137.64" r="1.00" fill="#D23AA0"/>
<circle cx="455.00" cy="137.64" r="1.00" fill="#D23AA0"/>
<text x="361.65" y="149.89" font-size="8.24" fill="#333" text-anchor="end" textLength="10.38" lengthAdjust="spacingAndGlyphs">FB</text>
<circle cx="386.75" cy="146.76" r="0.75" fill="#3C7A30" fill-opacity="0.45"/>
<circle cx="396.50" cy="146.76" r="1.00" fill="#3C7A30"/>
<circle cx="406.25" cy="146.76" r="1.50" fill="#3C7A30"/>
<circle cx="435.50" cy="146.76" r="0.75" fill="#3C7A30"/>
<circle cx="445.25" cy="146.76" r="2.30" fill="#3C7A30"/>
<circle cx="484.25" cy="146.76" r="2.30" fill="#3C7A30"/>
<text x="361.65" y="159.01" font-size="8.24" fill="#333" text-anchor="end" textLength="16.1" lengthAdjust="spacingAndGlyphs">KRT</text>
<circle cx="386.75" cy="155.88" r="0.75" fill="#C772C4" fill-opacity="0.45"/>
<circle cx="396.50" cy="155.88" r="0.75" fill="#C772C4" fill-opacity="0.45"/>
<circle cx="406.25" cy="155.88" r="4.55" fill="#C772C4"/>
<circle cx="445.25" cy="155.88" r="2.90" fill="#C772C4"/>
<circle cx="464.75" cy="155.88" r="3.15" fill="#C772C4"/>
<circle cx="484.25" cy="155.88" r="2.05" fill="#C772C4"/>
<text x="361.65" y="168.12" font-size="8.24" fill="#333" text-anchor="end" textLength="17.6" lengthAdjust="spacingAndGlyphs">UNC</text>
<circle cx="377.00" cy="165.00" r="1.00" fill="#D6336C"/>
<circle cx="386.75" cy="165.00" r="4.95" fill="#D6336C"/>
<circle cx="396.50" cy="165.00" r="1.00" fill="#D6336C"/>
<circle cx="406.25" cy="165.00" r="0.80" fill="#D6336C"/>
<circle cx="416.00" cy="165.00" r="1.80" fill="#D6336C"/>
<circle cx="425.75" cy="165.00" r="1.00" fill="#D6336C"/>
<circle cx="435.50" cy="165.00" r="1.00" fill="#D6336C"/>
<circle cx="445.25" cy="165.00" r="0.65" fill="#D6336C"/>
<circle cx="455.00" cy="165.00" r="0.90" fill="#D6336C"/>
<circle cx="464.75" cy="165.00" r="0.90" fill="#D6336C"/>
<circle cx="474.50" cy="165.00" r="1.00" fill="#D6336C"/>
<circle cx="484.25" cy="165.00" r="1.00" fill="#D6336C"/>
<circle cx="494.00" cy="165.00" r="1.50" fill="#D6336C"/>
<circle cx="503.75" cy="165.00" r="0.90" fill="#D6336C"/>
<line x1="377.0" y1="174.6" x2="377.0" y2="178.1" stroke="#222" stroke-width="1.1"/>
<text x="380.4" y="185.0" font-size="9.0" fill="#1F6FA8" font-weight="bold" textLength="5.13" lengthAdjust="spacingAndGlyphs" transform="rotate(-90 380.4 185.0)">B</text>
<line x1="386.75" y1="174.6" x2="386.75" y2="178.1" stroke="#222" stroke-width="1.1"/>
<text x="389.4" y="184.25" font-size="9.0" fill="#E4208F" font-weight="bold" textLength="4.36" lengthAdjust="spacingAndGlyphs" transform="rotate(-90 389.4 184.25)">S</text>
<line x1="396.5" y1="174.6" x2="396.5" y2="178.1" stroke="#222" stroke-width="1.1"/>
<text x="399.9" y="185.0" font-size="9.0" fill="#1F6FA8" font-weight="bold" textLength="5.13" lengthAdjust="spacingAndGlyphs" transform="rotate(-90 399.9 185.0)">B</text>
<line x1="406.25" y1="174.6" x2="406.25" y2="178.1" stroke="#222" stroke-width="1.1"/>
<text x="408.9" y="184.25" font-size="9.0" fill="#E4208F" font-weight="bold" textLength="4.36" lengthAdjust="spacingAndGlyphs" transform="rotate(-90 408.9 184.25)">S</text>
<line x1="416.0" y1="174.6" x2="416.0" y2="178.1" stroke="#222" stroke-width="1.1"/>
<text x="419.4" y="185.0" font-size="9.0" fill="#1F6FA8" font-weight="bold" textLength="5.13" lengthAdjust="spacingAndGlyphs" transform="rotate(-90 419.4 185.0)">B</text>
<line x1="425.75" y1="174.6" x2="425.75" y2="178.1" stroke="#222" stroke-width="1.1"/>
<text x="428.4" y="184.25" font-size="9.0" fill="#E4208F" font-weight="bold" textLength="4.36" lengthAdjust="spacingAndGlyphs" transform="rotate(-90 428.4 184.25)">S</text>
<line x1="435.5" y1="174.6" x2="435.5" y2="178.1" stroke="#222" stroke-width="1.1"/>
<text x="438.9" y="185.0" font-size="9.0" fill="#1F6FA8" font-weight="bold" textLength="5.13" lengthAdjust="spacingAndGlyphs" transform="rotate(-90 438.9 185.0)">B</text>
<line x1="445.25" y1="174.6" x2="445.25" y2="178.1" stroke="#222" stroke-width="1.1"/>
<text x="447.9" y="184.25" font-size="9.0" fill="#E4208F" font-weight="bold" textLength="4.36" lengthAdjust="spacingAndGlyphs" transform="rotate(-90 447.9 184.25)">S</text>
<line x1="455.0" y1="174.6" x2="455.0" y2="178.1" stroke="#222" stroke-width="1.1"/>
<text x="458.4" y="185.0" font-size="9.0" fill="#1F6FA8" font-weight="bold" textLength="5.13" lengthAdjust="spacingAndGlyphs" transform="rotate(-90 458.4 185.0)">B</text>
<line x1="464.75" y1="174.6" x2="464.75" y2="178.1" stroke="#222" stroke-width="1.1"/>
<text x="467.4" y="184.25" font-size="9.0" fill="#E4208F" font-weight="bold" textLength="4.36" lengthAdjust="spacingAndGlyphs" transform="rotate(-90 467.4 184.25)">S</text>
<line x1="474.5" y1="174.6" x2="474.5" y2="178.1" stroke="#222" stroke-width="1.1"/>
<text x="477.9" y="185.0" font-size="9.0" fill="#1F6FA8" font-weight="bold" textLength="5.13" lengthAdjust="spacingAndGlyphs" transform="rotate(-90 477.9 185.0)">B</text>
<line x1="484.25" y1="174.6" x2="484.25" y2="178.1" stroke="#222" stroke-width="1.1"/>
<text x="486.9" y="184.25" font-size="9.0" fill="#E4208F" font-weight="bold" textLength="4.36" lengthAdjust="spacingAndGlyphs" transform="rotate(-90 486.9 184.25)">S</text>
<line x1="494.0" y1="174.6" x2="494.0" y2="178.1" stroke="#222" stroke-width="1.1"/>
<text x="497.4" y="185.0" font-size="9.0" fill="#1F6FA8" font-weight="bold" textLength="5.13" lengthAdjust="spacingAndGlyphs" transform="rotate(-90 497.4 185.0)">B</text>
<line x1="503.75" y1="174.6" x2="503.75" y2="178.1" stroke="#222" stroke-width="1.1"/>
<text x="507.15" y="185.0" font-size="9.0" fill="#1F6FA8" font-weight="bold" textLength="5.13" lengthAdjust="spacingAndGlyphs" transform="rotate(-90 507.15 185.0)">B</text>
<text x="384.78" y="189.25" font-size="7.76" fill="#333" text-anchor="end" textLength="14.74" lengthAdjust="spacingAndGlyphs" transform="rotate(-90 384.78 189.25)">HC1</text>
<text x="404.28" y="189.25" font-size="7.76" fill="#333" text-anchor="end" textLength="13.92" lengthAdjust="spacingAndGlyphs" transform="rotate(-90 404.28 189.25)">SS1</text>
<text x="423.78" y="189.25" font-size="7.76" fill="#333" text-anchor="end" textLength="13.92" lengthAdjust="spacingAndGlyphs" transform="rotate(-90 423.78 189.25)">SS2</text>
<text x="443.28" y="189.25" font-size="7.76" fill="#333" text-anchor="end" textLength="13.92" lengthAdjust="spacingAndGlyphs" transform="rotate(-90 443.28 189.25)">SS3</text>
<text x="462.78" y="189.25" font-size="7.76" fill="#333" text-anchor="end" textLength="13.92" lengthAdjust="spacingAndGlyphs" transform="rotate(-90 462.78 189.25)">SS4</text>
<text x="482.28" y="189.25" font-size="7.76" fill="#333" text-anchor="end" textLength="21.69" lengthAdjust="spacingAndGlyphs" transform="rotate(-90 482.28 189.25)">MFIV1</text>
<text x="496.9" y="189.25" font-size="7.76" fill="#333" text-anchor="end" textLength="13.92" lengthAdjust="spacingAndGlyphs" transform="rotate(-90 496.9 189.25)">SS5</text>
<text x="506.65" y="189.25" font-size="7.76" fill="#333" text-anchor="end" textLength="13.92" lengthAdjust="spacingAndGlyphs" transform="rotate(-90 506.65 189.25)">SS6</text>
<text x="11.65" y="216.13" font-size="11.8" fill="#000" font-weight="bold" textLength="8.07" lengthAdjust="spacingAndGlyphs" stroke="#000" stroke-width="0.35">C</text>
<text x="23.8" y="227.23" font-size="8.45" fill="#333" textLength="33.19" lengthAdjust="spacingAndGlyphs">Recluster</text>
<text x="23.6" y="236.7" font-size="8.45" fill="#333" textLength="57.96" lengthAdjust="spacingAndGlyphs">(Malignant only)</text>
<text x="14.17" y="256.3" font-size="9.2" fill="#333" textLength="21.57" lengthAdjust="spacingAndGlyphs">SS1 C</text>
<text x="69.75" y="254.6" font-size="9.2" fill="#333" textLength="20.55" lengthAdjust="spacingAndGlyphs">SS1 B</text>
<text x="7.75" y="292.98" font-size="9.2" fill="#333" textLength="21.45" lengthAdjust="spacingAndGlyphs">SS1 D</text>
<text x="104.12" y="357.4" font-size="9.2" fill="#333" textLength="20.96" lengthAdjust="spacingAndGlyphs">SS1 A</text>
<path d="M47.3 260.2h0M46.3 266.5h0M46.6 265.5h0M43.9 264.0h0M43.6 263.0h0M44.1 267.4h0M44.6 268.3h0M45.6 266.4h0M45.0 267.2h0M53.3 264.8h0M53.8 264.0h0M51.2 265.7h0M50.7 264.8h0M49.3 262.1h0M48.6 262.8h0M45.4 264.7h0M46.4 264.4h0M52.6 263.4h0M53.5 263.8h0M50.8 265.1h0M51.7 265.3h0M47.6 264.7h0M48.6 264.5h0M50.7 264.9h0M50.8 263.9h0M42.2 267.6h0M47.8 260.3h0M47.9 261.3h0M51.2 265.2h0M50.2 265.3h0M52.2 260.9h0M51.4 261.4h0M41.8 265.2h0M42.3 266.0h0M52.0 260.4h0M53.0 260.5h0M46.5 260.4h0M49.9 262.9h0M50.6 263.6h0M44.5 264.6h0M44.1 265.5h0M45.4 260.0h0M45.7 263.4h0M46.5 264.1h0M53.8 264.4h0M54.0 263.4h0M44.7 264.1h0M44.0 264.9h0M44.3 267.8h0M43.9 266.9h0M42.5 262.6h0M43.4 263.0h0M53.8 263.1h0M52.9 262.6h0M50.3 264.8h0M49.3 265.1h0M44.7 262.3h0M43.7 262.5h0M46.6 264.5h0M45.7 264.3h0M46.2 265.2h0M45.9 264.3h0M50.1 260.7h0M49.3 261.3h0M51.5 265.5h0M50.6 265.2h0M49.4 263.2h0M49.4 264.2h0M45.7 264.6h0M46.2 265.5h0M45.2 268.0h0M45.2 269.0h0M51.0 265.5h0M51.9 265.3h0M48.1 263.4h0M47.3 264.1h0M45.7 266.5h0M46.0 267.4h0M46.3 268.3h0M53.3 262.8h0M52.6 262.0h0M54.8 261.6h0M53.8 261.6h0M49.9 260.5h0M49.5 259.6h0M48.9 261.3h0M48.0 261.8h0M47.2 260.3h0M46.9 261.3h0M43.8 264.4h0M42.8 264.2h0M45.3 261.4h0M44.6 262.1h0M49.2 263.4h0M49.2 262.4h0M48.8 262.3h0M49.7 262.5h0M49.2 264.7h0M48.7 263.8h0M54.3 262.1h0M54.3 263.1h0M42.7 265.9h0M41.7 266.3h0M43.3 264.4h0M44.3 264.5h0M43.6 262.5h0M44.0 263.4h0M49.7 259.6h0M43.3 262.4h0M43.3 263.4h0M49.8 266.7h0M50.3 265.8h0M54.8 261.3h0M54.1 262.1h0M49.9 264.5h0M50.2 265.5h0M50.7 260.3h0M47.3 268.2h0M44.4 260.6h0M45.9 266.3h0M46.1 265.3h0M51.5 262.3h0M51.2 263.3h0M53.8 262.4h0M52.8 262.4h0M47.1 265.3h0M46.6 264.4h0M47.6 268.3h0M52.1 263.6h0M51.3 264.3h0M49.7 261.6h0M48.9 261.0h0M34.7 274.6h0M42.6 272.9h0M41.6 272.8h0M38.3 280.0h0M36.7 273.3h0M35.8 273.8h0M36.8 279.2h0M37.3 278.3h0M38.6 277.0h0M39.2 276.2h0M34.6 276.0h0M35.0 276.9h0M35.5 273.5h0M36.2 274.2h0M40.7 276.7h0M40.2 277.5h0M39.4 269.3h0M38.0 278.5h0M38.3 277.5h0M37.1 270.5h0M38.6 272.7h0M39.5 273.1h0M37.1 275.2h0M36.2 274.7h0M36.4 272.1h0M36.4 273.1h0M36.9 274.4h0M36.4 275.2h0M41.5 277.0h0M39.7 275.5h0M40.4 274.8h0M42.1 274.4h0M42.7 273.6h0M37.0 275.4h0M36.4 276.2h0M37.8 279.7h0M40.6 274.0h0M39.6 274.0h0M39.1 273.7h0M38.2 273.3h0M37.5 269.9h0M38.3 270.5h0M35.0 273.0h0M37.4 276.7h0M37.5 275.7h0M40.7 272.4h0M41.7 272.4h0M40.4 277.8h0M40.3 276.8h0M38.4 269.8h0M37.7 270.5h0M39.7 279.0h0M41.1 275.9h0M40.2 276.3h0M38.9 279.1h0M39.4 278.2h0M41.5 269.3h0M40.5 269.3h0M40.9 274.2h0M40.0 274.7h0M37.7 272.6h0M36.7 272.7h0M40.1 275.2h0M39.1 275.2h0M37.0 274.7h0M36.6 275.6h0M37.1 273.5h0M38.1 273.5h0M38.5 275.7h0M37.9 274.9h0M37.3 271.3h0M40.0 270.1h0M39.4 269.2h0M39.4 271.2h0M38.4 271.3h0M42.4 274.6h0M42.1 273.7h0M38.9 274.7h0M38.7 275.7h0M37.3 276.5h0M36.7 275.7h0M35.9 275.0h0M35.0 274.6h0M42.2 275.3h0M41.3 275.7h0M38.7 277.4h0M37.8 277.1h0M41.2 270.5h0M41.4 269.6h0M40.7 277.6h0M39.8 278.2h0M34.6 276.1h0M34.4 275.1h0M41.3 272.9h0M40.3 272.9h0M40.6 276.1h0M41.0 277.0h0M40.1 275.4h0M39.3 276.1h0M43.2 271.5h0M38.6 271.9h0M38.6 272.9h0M41.7 274.6h0M42.6 274.1h0M41.6 268.3h0M42.6 268.7h0M41.9 268.1h0M42.0 270.7h0" stroke="#2EAA70" stroke-width="1.3" stroke-linecap="round"/>
<path d="M58.6 266.8h0M57.0 265.5h0M56.5 268.0h0" stroke="#2EAA70" stroke-width="1.2" stroke-linecap="round"/>
<path d="M96.1 295.4h0M96.7 296.2h0M111.6 273.9h0M111.9 273.0h0M110.4 273.1h0M109.5 272.6h0M78.1 277.7h0M78.2 276.7h0M102.0 263.4h0M103.0 263.1h0M114.4 290.4h0M113.5 290.1h0M96.5 262.9h0M95.7 262.3h0M57.0 290.4h0M57.9 290.9h0M84.2 272.0h0M84.0 273.0h0M64.2 295.9h0M64.4 294.9h0M100.9 283.2h0M101.5 282.4h0M105.3 295.4h0M105.5 294.5h0M90.5 295.3h0M89.8 294.5h0M70.1 269.5h0M70.9 268.8h0M119.8 285.2h0M83.7 262.0h0M83.2 262.9h0M104.5 274.4h0M104.6 275.4h0M115.0 292.8h0M114.9 291.8h0M72.9 283.5h0M73.8 283.2h0M103.1 278.2h0M102.3 278.8h0M97.5 288.8h0M97.9 287.9h0M84.8 261.3h0M85.2 260.4h0M59.7 295.3h0M58.7 295.1h0M113.1 275.7h0M114.1 275.6h0M72.4 290.2h0M71.5 290.7h0M73.5 298.8h0M74.4 298.4h0M57.2 294.0h0M57.3 293.0h0M76.1 271.2h0M76.4 272.2h0M120.5 281.0h0M121.2 280.3h0M109.3 272.9h0M108.4 273.2h0M95.4 276.1h0M95.5 275.1h0M68.3 286.2h0M67.3 285.9h0M109.0 289.3h0M109.1 290.2h0M74.6 275.6h0M73.9 276.2h0M97.0 275.4h0M98.0 275.3h0M110.2 294.9h0M109.6 294.0h0M60.6 299.5h0M61.5 300.0h0M75.9 266.1h0M76.5 266.8h0M93.9 297.8h0M93.0 298.2h0M112.6 284.2h0M112.8 283.2h0M95.5 287.4h0M96.2 288.2h0M72.2 281.7h0M72.4 280.7h0M112.7 280.5h0M113.1 281.4h0M75.7 302.7h0M75.2 301.9h0M98.1 262.0h0M97.3 261.3h0M84.8 294.5h0M85.4 293.8h0M93.4 282.7h0M93.7 281.8h0M98.8 268.3h0M98.9 269.3h0M99.3 294.2h0M99.7 295.1h0M60.9 292.7h0M61.7 292.1h0M84.2 294.8h0M85.1 294.3h0M78.2 263.1h0M79.2 263.3h0M107.7 290.4h0M107.8 289.4h0M68.3 302.2h0M67.3 302.4h0M108.4 269.4h0M109.3 269.9h0M110.8 273.3h0M111.8 273.3h0M91.1 271.0h0M92.0 270.6h0M74.2 272.3h0M74.2 273.3h0M117.2 284.4h0M116.9 283.4h0M116.8 280.5h0M117.4 281.3h0M82.1 295.7h0M82.6 294.9h0M73.1 280.4h0M72.5 281.2h0M79.0 279.9h0M78.0 279.9h0M90.9 275.7h0M91.5 274.9h0M61.1 289.8h0M61.2 288.8h0M77.6 291.3h0M77.5 290.3h0M100.6 297.8h0M99.6 297.5h0M68.7 273.3h0M69.5 272.8h0M79.0 268.8h0M79.6 268.0h0M80.7 276.6h0M79.8 276.2h0M68.6 278.2h0M68.2 277.3h0M60.0 294.8h0M59.5 294.0h0M86.0 283.4h0M86.6 284.3h0M75.8 287.3h0M76.2 286.4h0M77.8 292.8h0M78.7 292.4h0M81.8 273.5h0M80.8 273.3h0M99.6 295.8h0M98.7 295.5h0M106.4 293.4h0M106.2 292.4h0M81.6 296.9h0M81.3 297.9h0M57.4 290.2h0M58.4 290.1h0M85.4 265.8h0M84.4 265.7h0M99.3 286.3h0M98.3 286.3h0M78.5 300.6h0M77.6 301.0h0M86.2 263.4h0M85.9 262.4h0M111.0 267.1h0M111.9 266.9h0M120.7 276.6h0M79.1 275.4h0M79.6 276.3h0M105.9 271.0h0M105.2 270.3h0M108.1 269.0h0M109.1 269.2h0M96.5 283.9h0M95.5 283.8h0M114.1 280.3h0M114.6 281.1h0M102.9 293.8h0M103.3 294.7h0M102.9 281.7h0M102.4 282.6h0M104.9 273.6h0M105.2 274.5h0M101.1 282.8h0M100.1 283.0h0M71.2 290.0h0M70.3 289.7h0M111.6 268.2h0M112.4 267.5h0M77.6 264.8h0M78.5 265.1h0M69.6 275.7h0M69.9 274.8h0M94.2 274.8h0M94.8 274.0h0M117.8 270.9h0M86.8 293.3h0M86.7 292.3h0M109.7 285.0h0M108.7 285.1h0M92.2 271.6h0M91.6 272.4h0M72.1 267.1h0M72.8 266.4h0M114.9 277.1h0M115.8 276.6h0M77.5 274.3h0M78.2 275.0h0M59.8 299.3h0M60.0 300.2h0M80.5 279.8h0M80.9 278.9h0M78.4 282.7h0M77.7 282.0h0M90.8 288.5h0M90.2 287.7h0M84.3 267.7h0M84.4 268.7h0M99.8 263.4h0M100.2 262.5h0M82.4 294.0h0M81.8 294.8h0M106.9 288.5h0M107.8 288.9h0M105.0 285.8h0M104.0 285.9h0M67.1 295.8h0M67.9 295.2h0M68.3 279.6h0M67.7 280.4h0M77.6 294.0h0M76.6 294.1h0M101.3 262.0h0M84.8 272.6h0M85.6 273.2h0M99.6 289.1h0M100.6 289.3h0M73.2 265.2h0M74.2 265.4h0M95.4 272.8h0M94.5 273.1h0M118.4 271.5h0M95.4 282.2h0M94.6 282.8h0M117.3 276.0h0M118.0 276.8h0M79.8 272.5h0M80.8 272.5h0M104.2 271.1h0M104.3 272.1h0M102.8 272.8h0M102.6 273.8h0M105.0 271.5h0M106.0 271.5h0M91.2 272.0h0M91.3 271.0h0M69.3 282.8h0M69.7 283.8h0M66.6 284.5h0M67.3 285.2h0M88.4 266.6h0M88.0 265.7h0M69.7 299.4h0M69.0 298.7h0M107.2 269.8h0M107.7 270.6h0M88.9 291.6h0M89.9 292.0h0M56.0 294.5h0M56.9 294.2h0M93.9 277.7h0M93.6 278.6h0M86.7 273.5h0M85.7 273.4h0M80.5 300.4h0M79.9 301.2h0M88.3 295.1h0M88.1 296.1h0M66.2 297.2h0M66.6 296.3h0M106.5 273.0h0M107.4 272.5h0M97.3 289.2h0M97.6 290.2h0M102.3 284.9h0M101.4 285.2h0M64.3 302.7h0M82.5 294.6h0M81.7 293.9h0M97.3 284.3h0M97.5 283.3h0M74.3 263.3h0M73.7 264.1h0M69.3 274.2h0M68.4 274.6h0M90.6 294.5h0M90.0 295.4h0M65.8 295.5h0M64.8 295.3h0M87.9 263.0h0M88.7 263.6h0M99.7 277.2h0M99.6 278.2h0M76.5 291.3h0M76.4 292.3h0M80.9 259.4h0M92.4 283.4h0M91.5 283.8h0M75.8 279.3h0M75.3 278.5h0M101.9 273.5h0M102.9 273.6h0M74.5 276.3h0M74.2 275.3h0M92.9 263.2h0M92.6 262.2h0M76.9 302.4h0M69.9 284.8h0M69.9 285.8h0M67.4 300.2h0M68.3 299.7h0M66.2 283.1h0M65.8 284.0h0M64.6 287.3h0M65.2 288.1h0M56.7 293.8h0M56.8 292.8h0M93.5 265.3h0M92.7 264.7h0M99.8 263.8h0M100.5 263.1h0M117.5 277.7h0M116.5 277.8h0M83.1 288.7h0M82.6 287.8h0M92.5 294.8h0M93.3 294.3h0M77.3 279.1h0M78.3 279.2h0M98.9 291.8h0M98.5 292.8h0M81.8 263.7h0M80.8 263.7h0M100.4 263.7h0M100.7 264.6h0M60.7 285.1h0M61.6 284.6h0M113.6 276.3h0M114.0 277.3h0M103.5 283.3h0M102.7 282.7h0M80.4 272.6h0M81.4 272.6h0M90.0 280.8h0M89.7 279.8h0M86.3 266.3h0M85.8 267.1h0M83.5 287.8h0M82.7 288.4h0M104.9 264.3h0M105.9 263.9h0M92.0 259.8h0M91.0 259.8h0M107.3 266.7h0M106.6 266.0h0M89.4 277.3h0M88.7 278.0h0M77.2 290.2h0M76.3 290.0h0M83.2 271.7h0M83.2 270.7h0M116.4 283.0h0M117.3 283.5h0M83.5 263.6h0M82.7 264.3h0M74.6 266.3h0M75.6 266.2h0M109.8 284.9h0M110.8 284.9h0M83.0 275.3h0M83.3 276.2h0M109.2 272.7h0M108.2 272.7h0M94.4 259.9h0M93.4 259.9h0M88.1 269.3h0M88.4 268.3h0M85.0 292.6h0M85.7 291.9h0M101.3 265.0h0M101.8 264.1h0M98.2 275.7h0M99.2 275.7h0M81.4 264.9h0M80.9 264.0h0M85.1 266.4h0M86.0 266.8h0M82.1 289.0h0M82.1 290.0h0M84.9 293.1h0M85.8 293.3h0M106.5 278.0h0M107.3 278.7h0M119.9 275.0h0M120.6 275.7h0M96.9 279.8h0M97.8 280.0h0M87.0 271.7h0M86.1 271.5h0M96.6 283.1h0M97.1 284.0h0M80.1 269.2h0M79.8 268.2h0M112.5 282.6h0M113.2 281.9h0M74.4 301.7h0M75.2 302.3h0M92.3 277.1h0M91.9 276.1h0M77.1 261.1h0M78.0 261.3h0M91.1 262.8h0M92.1 263.2h0M78.8 266.2h0M79.8 266.3h0M70.3 273.8h0M69.4 274.3h0M82.2 265.7h0M81.4 265.2h0M74.3 269.7h0M75.3 270.0h0M82.9 297.4h0M82.0 297.7h0M75.9 299.1h0M76.9 299.0h0M56.9 289.3h0M71.2 291.2h0M70.8 290.3h0M76.7 272.8h0M76.1 273.6h0M106.9 286.4h0M106.8 287.4h0M114.5 276.2h0M113.7 276.7h0M70.8 279.3h0M70.0 278.8h0M102.8 285.1h0M103.0 286.1h0M88.1 289.3h0M89.1 289.0h0M76.5 276.6h0M75.7 276.1h0M89.9 267.5h0M88.9 267.4h0M92.3 287.4h0M92.2 286.4h0M72.9 286.9h0M73.5 286.1h0M71.6 282.7h0M72.6 282.5h0M72.8 300.8h0M73.2 301.7h0M76.3 290.0h0M75.4 289.5h0M78.2 302.1h0M77.8 301.1h0M58.3 295.6h0M58.3 294.6h0M108.7 289.7h0M107.9 290.3h0M107.3 281.3h0M106.3 281.6h0M85.9 263.0h0M86.8 262.5h0M94.0 290.9h0M93.3 291.7h0M92.4 285.9h0M91.7 286.6h0M69.4 289.9h0M69.1 289.0h0M105.0 282.3h0M105.6 283.1h0M75.7 274.8h0M75.6 275.8h0M77.7 266.9h0M78.4 267.6h0M88.6 295.5h0M88.1 294.6h0M75.3 283.8h0M75.9 283.0h0M90.7 264.4h0M91.7 264.7h0M113.1 269.7h0M113.2 268.7h0M87.5 268.4h0M88.1 269.2h0M64.8 286.2h0M65.4 285.4h0M86.5 293.7h0M86.3 292.7h0M76.4 282.8h0M75.6 283.3h0M91.8 264.4h0M92.3 263.6h0M87.7 278.3h0M87.7 277.3h0M82.9 298.0h0M83.1 299.0h0M59.5 294.1h0M59.7 295.0h0M101.6 261.8h0M102.4 262.3h0M95.3 267.0h0M94.3 267.2h0M97.9 266.0h0M97.0 265.7h0M70.6 291.4h0M70.1 290.5h0M103.3 275.8h0M104.3 275.8h0M84.7 291.8h0M85.1 290.9h0M74.6 279.9h0M74.5 278.9h0M90.2 273.5h0M91.2 273.8h0M85.8 278.9h0M84.9 278.7h0M87.4 291.5h0M86.7 290.8h0M110.2 271.9h0M111.0 272.5h0M108.0 289.1h0M107.5 290.0h0M96.6 297.8h0M95.7 298.2h0M103.9 271.3h0M104.3 270.4h0M79.7 259.8h0M78.7 259.9h0M88.1 296.8h0M87.8 295.9h0M100.2 271.7h0M99.5 270.9h0M88.9 271.5h0M89.7 271.0h0M84.7 281.7h0M85.7 282.0h0M95.7 265.8h0M95.4 264.9h0M117.8 275.4h0M118.0 276.3h0M73.6 301.7h0M72.9 301.0h0M88.3 294.5h0M88.4 293.5h0M89.2 270.7h0M88.7 271.6h0M89.8 277.5h0M88.8 277.4h0M115.8 280.6h0M116.2 279.7h0M67.5 300.1h0M68.2 300.8h0M86.6 297.8h0M85.7 298.2h0M69.0 303.2h0M69.3 302.3h0M76.4 272.5h0M77.4 272.2h0M111.2 274.7h0M112.2 274.6h0M100.2 271.4h0M99.7 272.2h0M70.3 274.0h0M70.9 274.7h0M88.2 274.2h0M87.4 273.5h0M76.0 275.6h0M75.3 276.2h0M79.4 279.3h0M80.3 279.0h0M112.3 279.4h0M112.8 278.5h0M111.2 288.6h0M111.9 289.3h0M76.7 285.8h0M77.5 286.3h0M98.7 274.2h0M97.9 274.7h0M74.7 282.0h0M74.6 283.0h0M92.4 296.7h0M92.6 295.7h0M71.9 303.5h0M71.7 302.5h0M71.7 293.4h0M71.8 294.4h0M117.3 288.1h0M116.4 287.7h0M89.9 263.7h0M90.1 264.7h0M73.7 265.0h0M73.7 264.0h0M56.3 295.2h0M56.6 294.2h0M64.5 293.0h0M63.5 292.8h0M109.8 290.6h0M108.8 290.5h0M95.2 260.7h0M94.2 261.0h0M100.8 282.4h0M100.7 283.4h0M88.4 288.5h0M89.2 289.1h0M76.1 292.8h0M76.6 293.7h0M58.7 293.9h0M58.3 294.8h0M94.8 295.5h0M94.0 294.9h0M103.8 295.0h0M102.8 294.9h0M76.3 262.4h0M75.5 263.1h0M79.2 300.2h0M80.1 299.8h0M81.2 264.8h0M80.4 265.4h0M106.0 294.6h0M107.0 294.8h0M90.1 275.7h0M89.2 275.3h0M105.1 288.3h0M105.9 288.9h0M85.7 265.2h0M86.7 265.0h0M109.1 285.3h0M109.4 286.3h0M82.4 277.4h0M81.4 277.3h0M95.2 287.1h0M96.1 286.7h0M105.9 284.7h0M106.4 285.6h0M98.2 285.5h0M98.2 286.5h0M62.3 299.4h0M61.4 299.8h0M114.6 280.2h0M114.3 281.1h0M87.9 286.1h0M87.0 285.6h0M104.9 290.5h0M105.7 289.8h0M74.1 296.5h0M75.1 296.5h0M73.8 281.3h0M72.8 281.3h0M93.8 285.4h0M93.1 286.1h0M86.3 286.1h0M87.1 285.5h0M118.1 287.5h0M64.2 298.1h0M64.3 297.1h0M77.6 286.2h0M77.8 285.2h0M92.8 287.4h0M93.7 287.0h0M85.9 286.7h0M86.4 287.5h0M91.6 286.2h0M90.8 285.6h0M94.5 275.9h0M94.4 274.9h0M59.1 298.6h0M60.0 299.0h0M103.7 277.1h0M104.6 276.7h0M82.3 269.5h0M82.3 268.5h0M70.2 277.2h0M69.2 277.3h0M100.2 281.2h0M100.0 280.2h0M64.2 283.7h0M64.6 284.6h0M76.0 293.0h0M75.1 293.4h0M97.8 265.5h0M98.7 265.1h0M80.6 280.3h0M81.3 281.1h0M89.8 294.8h0M89.0 295.4h0M73.1 287.7h0M73.4 288.6h0M99.9 278.9h0M99.6 278.0h0M114.0 280.5h0M114.0 281.5h0M74.3 290.1h0M75.0 290.8h0M58.2 293.6h0M58.4 294.6h0M112.0 292.0h0M112.5 292.9h0M70.2 286.1h0M69.3 286.3h0M97.2 277.1h0M97.6 276.2h0M71.8 267.6h0M71.3 266.7h0M116.1 277.1h0M115.6 277.9h0M89.0 285.9h0M89.9 286.4h0M91.3 286.8h0M91.2 287.8h0M79.6 259.1h0M78.7 259.5h0M82.3 286.2h0M81.8 285.3h0M69.4 292.2h0M68.4 292.3h0M77.6 282.9h0M77.3 281.9h0M101.6 283.2h0M102.5 282.8h0M116.6 278.6h0M116.1 279.5h0M66.4 286.3h0M67.2 286.9h0M106.9 291.1h0M106.1 290.5h0M68.8 279.7h0M67.8 279.7h0M76.2 291.3h0M75.3 290.7h0M92.1 294.2h0M93.1 294.1h0M87.9 292.0h0M88.0 291.0h0M85.0 261.6h0M85.9 261.3h0M101.6 268.1h0M102.3 268.8h0M81.0 281.0h0M81.4 281.9h0M87.9 287.3h0M87.1 286.7h0M87.0 262.9h0M87.6 263.7h0M61.0 292.7h0M60.4 292.0h0M78.7 264.7h0M77.9 265.3h0M87.6 276.7h0M87.8 275.7h0M83.4 275.3h0M82.4 275.5h0M78.0 282.2h0M78.9 282.0h0M82.7 289.3h0M81.7 289.6h0M71.0 267.7h0M72.0 267.8h0M84.5 293.4h0M84.7 292.4h0M93.5 285.6h0M94.3 286.3h0M95.1 298.3h0M95.2 297.3h0M95.8 270.7h0M96.4 271.5h0M94.5 271.6h0M94.2 272.6h0M120.2 274.2h0M119.3 274.4h0M111.0 286.0h0M110.0 286.1h0M90.6 260.8h0M91.2 260.0h0M97.4 260.8h0M100.0 285.0h0M99.9 286.0h0M67.7 287.9h0M66.7 287.7h0M106.1 294.6h0M105.5 293.8h0M59.1 287.9h0M60.1 288.1h0M81.5 289.7h0M81.4 290.7h0M104.3 273.8h0M104.3 274.8h0M73.4 292.5h0M74.3 292.6h0M74.1 287.8h0M74.2 288.8h0M64.1 281.0h0M69.2 278.3h0M70.1 277.9h0M89.4 263.8h0M88.7 263.1h0M86.8 278.3h0M86.1 279.1h0M118.8 284.8h0M118.0 285.4h0M90.6 285.7h0M90.4 286.7h0M105.5 272.2h0M106.5 272.4h0M69.3 290.4h0M70.0 291.1h0M94.0 262.8h0M93.7 261.8h0M94.5 271.5h0M95.3 272.1h0M99.1 281.0h0M99.5 280.1h0M80.2 260.2h0M80.4 259.2h0M101.3 277.4h0M100.9 278.3h0M106.6 291.6h0M106.6 290.6h0M57.4 295.3h0M57.5 294.3h0M57.4 292.0h0M58.1 292.7h0M107.2 282.8h0M106.3 283.1h0M99.1 271.0h0M98.8 270.1h0M67.8 270.1h0M80.1 280.5h0M80.7 281.4h0M94.8 282.0h0M95.8 282.1h0M115.1 275.1h0M114.4 275.8h0M110.9 294.6h0M110.1 295.3h0M62.7 286.8h0M63.0 287.8h0M98.0 287.5h0M97.4 288.4h0M114.5 292.8h0M56.8 288.9h0M119.2 279.0h0M119.6 278.1h0M100.9 270.8h0M101.7 270.1h0M81.2 280.5h0M80.4 281.1h0M86.2 262.5h0M85.4 263.1h0M104.3 297.3h0M115.0 286.6h0M116.0 286.6h0M71.3 296.9h0M70.6 297.5h0M81.1 259.0h0M59.9 288.5h0M59.0 288.0h0M75.0 275.5h0M74.1 275.2h0M91.3 297.8h0M90.3 297.7h0M64.0 281.4h0M79.0 288.7h0M78.1 289.2h0M92.2 292.4h0M92.0 293.4h0M78.0 264.1h0M77.4 264.9h0M81.0 267.4h0M80.6 266.5h0M93.9 294.6h0M94.4 295.5h0M62.3 288.0h0M62.7 288.9h0M59.2 296.8h0M59.9 296.0h0M120.1 275.2h0M120.0 274.3h0M99.3 272.0h0M99.8 272.9h0M75.3 281.3h0M74.5 280.7h0M85.3 262.8h0M84.4 263.3h0M63.3 285.8h0M62.4 286.0h0M95.5 289.4h0M96.1 288.6h0M81.8 287.5h0M82.8 287.6h0M61.5 293.3h0M60.5 293.2h0M68.4 273.2h0M68.8 272.2h0M107.1 290.9h0M107.1 289.9h0M89.0 286.0h0M88.0 286.3h0M99.3 295.9h0M98.3 295.8h0M80.8 277.1h0M81.7 276.6h0M82.7 283.5h0M83.2 284.4h0M110.6 266.0h0M109.6 265.9h0M70.2 282.8h0M70.7 281.9h0M78.6 259.2h0M79.5 259.6h0M107.5 280.0h0M107.4 280.9h0M101.1 262.1h0M84.7 265.4h0M84.8 264.4h0M63.0 284.3h0M64.0 284.5h0M93.0 285.2h0M92.1 284.8h0M86.0 298.5h0M85.1 298.9h0M84.6 258.6h0M84.0 259.4h0M82.2 260.1h0M81.5 260.9h0M108.8 272.7h0M108.9 271.7h0M94.9 294.0h0M95.1 293.0h0M93.6 260.6h0M92.8 261.1h0M81.5 276.4h0M80.9 277.2h0M88.9 280.1h0M89.0 279.1h0" stroke="#A3A332" stroke-width="1.35" stroke-linecap="round"/>
<path d="M33.0 304.4h0M33.4 303.5h0M26.0 297.8h0M31.1 300.4h0M32.1 300.4h0M28.6 297.0h0M27.8 296.5h0M26.5 299.4h0M27.1 298.6h0M26.0 299.7h0M25.4 298.9h0M34.1 305.0h0M34.2 306.0h0M29.2 301.6h0M30.1 302.1h0M28.4 301.7h0M28.2 302.7h0M28.9 303.7h0M29.1 302.7h0M33.4 306.4h0M33.9 305.5h0M28.6 298.9h0M29.1 298.1h0M26.5 299.1h0M26.0 298.2h0M31.2 303.5h0M30.4 304.0h0M31.3 302.7h0M30.9 303.7h0M28.2 300.3h0M29.1 299.8h0M26.9 300.4h0M26.7 301.4h0M29.7 300.5h0M29.5 299.5h0M31.1 298.0h0M31.3 299.0h0M31.5 306.4h0M32.5 306.4h0M26.2 301.8h0M26.1 300.8h0M30.5 302.7h0M31.4 303.1h0M34.8 304.9h0M34.0 304.3h0M28.2 297.4h0M27.4 298.0h0M30.1 298.6h0M29.9 299.6h0M30.6 299.2h0M31.5 298.8h0M29.5 299.7h0M28.7 300.3h0M28.3 302.8h0M28.9 302.1h0M29.3 302.5h0M29.8 303.3h0M27.6 300.0h0M26.6 299.9h0M27.5 302.0h0M28.4 302.4h0M30.7 300.6h0M31.3 299.7h0M33.3 301.4h0M31.8 305.6h0M32.4 306.4h0M28.7 301.8h0M28.9 300.8h0M30.1 304.5h0M25.8 300.7h0M25.4 299.8h0M32.0 304.3h0M32.4 303.4h0M31.6 299.5h0M30.7 299.8h0M27.5 300.5h0M28.5 300.6h0M31.1 297.9h0M29.0 300.5h0M30.0 300.4h0M26.6 299.5h0M26.2 298.6h0M28.6 300.6h0M29.4 301.2h0M31.1 304.1h0M31.4 305.0h0M31.1 302.2h0M31.0 301.2h0M43.8 301.8h0" stroke="#3A8FD0" stroke-width="1.3" stroke-linecap="round"/>
<path d="M98.6 331.7h0M98.8 332.7h0M63.4 325.2h0M62.9 326.1h0M84.3 323.1h0M83.3 322.9h0M95.6 342.7h0M95.8 343.7h0M79.3 326.9h0M80.2 326.8h0M86.8 337.5h0M86.3 338.3h0M72.3 336.8h0M71.4 336.4h0M61.8 334.4h0M62.4 333.6h0M97.6 334.4h0M98.6 334.1h0M65.6 325.4h0M66.3 326.1h0M78.0 349.1h0M78.9 349.5h0M99.5 316.4h0M98.9 315.6h0M95.5 316.6h0M94.7 317.2h0M72.6 310.3h0M73.5 309.8h0M101.1 339.1h0M102.1 339.2h0M54.0 321.1h0M54.6 320.2h0M84.4 345.9h0M85.0 346.7h0M96.0 329.7h0M95.2 329.2h0M49.8 335.4h0M75.6 318.5h0M74.7 319.0h0M61.8 323.4h0M62.6 324.0h0M74.5 325.6h0M73.7 326.2h0M82.2 310.4h0M81.3 309.9h0M64.6 336.3h0M65.3 335.6h0M106.9 322.8h0M105.9 323.1h0M62.9 328.2h0M62.5 327.4h0M74.1 310.4h0M73.1 310.4h0M90.8 351.1h0M91.2 352.0h0M47.3 316.6h0M47.3 315.6h0M94.2 349.3h0M94.7 350.1h0M98.0 343.7h0M97.6 344.6h0M86.0 321.5h0M85.1 321.1h0M52.3 320.0h0M51.6 320.8h0M87.4 348.0h0M88.0 347.2h0M79.4 338.7h0M78.8 339.6h0M94.6 342.6h0M93.6 342.6h0M73.9 338.7h0M74.8 339.2h0M62.2 321.2h0M62.3 322.2h0M91.0 317.6h0M90.3 316.8h0M102.3 326.9h0M103.1 326.3h0M53.3 313.3h0M52.5 313.7h0M82.8 351.2h0M81.8 351.3h0M89.8 353.1h0M90.7 352.7h0M69.1 311.7h0M70.0 312.1h0M74.6 335.9h0M75.4 336.5h0M101.0 347.0h0M100.0 347.1h0M71.9 307.2h0M87.7 317.2h0M88.5 317.8h0M57.7 332.7h0M57.2 331.9h0M98.5 349.2h0M99.1 348.4h0M75.8 342.8h0M74.9 343.4h0M52.8 330.8h0M53.7 330.6h0M48.9 333.5h0M49.4 334.3h0M90.3 340.3h0M89.3 340.6h0M79.2 326.2h0M78.7 327.1h0M84.2 323.1h0M84.5 322.1h0M75.4 333.1h0M76.4 332.8h0M98.1 320.2h0M97.8 319.2h0M94.8 348.8h0M95.8 348.6h0M73.5 311.2h0M74.5 311.1h0M84.7 341.8h0M85.6 341.5h0M51.6 313.8h0M51.3 312.9h0M79.2 311.7h0M80.1 312.2h0M78.1 326.6h0M78.9 326.0h0M91.8 338.6h0M91.1 339.3h0M69.4 336.3h0M69.7 335.4h0M62.7 332.3h0M62.7 333.3h0M93.6 312.8h0M94.0 313.7h0M84.0 350.4h0M83.7 351.4h0M76.2 347.3h0M75.2 347.6h0M107.5 328.1h0M108.1 328.8h0M61.4 338.1h0M62.2 338.7h0M53.2 310.7h0M54.0 310.0h0M62.2 331.5h0M62.0 332.5h0M103.3 347.0h0M104.1 346.3h0M66.6 327.1h0M67.5 327.6h0M54.5 317.9h0M54.5 318.9h0M77.7 321.5h0M76.8 320.9h0M80.0 318.9h0M79.8 319.8h0M95.8 317.8h0M95.6 316.8h0M55.3 319.3h0M56.3 319.7h0M92.2 320.3h0M93.1 319.9h0M70.1 328.8h0M71.1 328.7h0M49.5 326.0h0M50.4 326.3h0M73.5 319.2h0M73.9 318.3h0M70.3 329.3h0M70.0 328.3h0M92.9 335.0h0M93.6 334.3h0M64.0 311.6h0M65.0 311.5h0M57.7 333.1h0M57.0 333.8h0M61.2 310.0h0M60.7 310.8h0M101.6 316.4h0M102.0 317.3h0M76.1 319.9h0M76.5 319.0h0M69.3 330.5h0M68.3 330.7h0M107.9 328.7h0M107.6 327.8h0M89.4 323.3h0M88.6 322.7h0M49.9 313.3h0M49.3 314.1h0M81.9 333.8h0M82.7 333.2h0M90.4 316.4h0M91.4 316.7h0M79.4 347.6h0M78.9 346.7h0M54.8 330.8h0M53.8 330.8h0M109.7 330.5h0M92.8 326.5h0M92.9 325.5h0M62.2 332.5h0M61.2 332.7h0M65.8 324.6h0M66.1 323.6h0M89.7 329.2h0M88.7 329.3h0M79.0 340.1h0M80.0 340.1h0M76.8 349.0h0M76.6 350.0h0M88.4 344.2h0M88.0 343.3h0M57.0 316.9h0M56.1 317.3h0M85.9 346.3h0M85.8 347.3h0M88.9 352.1h0M89.6 352.9h0M89.1 349.4h0M90.1 349.3h0M54.5 325.6h0M55.5 325.8h0M107.6 325.2h0M107.7 326.2h0M93.4 344.4h0M94.3 343.9h0M105.9 340.5h0M105.4 341.3h0M49.1 326.6h0M48.7 327.5h0M71.2 323.8h0M70.4 324.4h0M82.3 349.6h0M82.9 348.7h0M83.2 318.3h0M83.1 319.3h0M86.1 316.3h0M87.1 316.4h0M44.4 319.7h0M84.0 333.7h0M84.4 332.8h0M45.2 320.2h0M45.4 319.2h0M101.9 332.9h0M101.1 333.5h0M49.9 327.1h0M50.9 327.1h0M81.0 324.7h0M80.7 323.8h0M103.8 324.6h0M103.5 323.6h0M61.9 314.4h0M62.8 314.2h0M102.5 320.4h0M101.6 320.1h0M104.0 319.0h0M105.0 318.8h0M80.1 343.3h0M79.3 342.6h0M67.8 331.6h0M66.9 331.1h0M81.9 329.0h0M80.9 329.0h0M73.5 308.0h0M74.5 308.2h0M92.4 323.9h0M91.5 323.6h0M53.9 323.0h0M54.0 324.0h0M90.9 335.1h0M89.9 334.9h0M67.1 314.5h0M67.7 313.7h0M72.1 334.4h0M72.4 333.5h0M107.2 323.5h0M107.0 324.5h0M107.0 336.8h0M107.5 337.7h0M58.8 328.6h0M59.2 327.7h0M108.4 338.2h0M107.4 338.1h0M87.3 350.9h0M88.1 350.3h0M64.2 319.9h0M65.2 320.0h0M90.4 325.6h0M91.1 326.4h0M61.0 325.0h0M60.6 324.1h0M94.9 333.9h0M94.1 334.4h0M79.8 321.6h0M80.8 321.4h0M47.9 330.3h0M47.2 331.0h0M104.5 328.5h0M103.8 329.2h0M50.6 327.8h0M49.6 328.1h0M52.2 314.0h0M53.0 313.4h0M101.4 335.8h0M100.4 335.4h0M65.4 331.0h0M65.1 332.0h0M74.6 317.5h0M75.6 317.3h0M103.5 332.7h0M103.8 333.7h0M87.4 332.8h0M88.3 332.5h0M101.9 340.1h0M102.4 339.2h0M82.6 318.7h0M83.5 318.2h0M60.3 329.8h0M60.3 330.8h0M92.7 340.1h0M93.3 340.9h0M80.0 328.5h0M79.3 329.2h0M86.2 326.8h0M85.4 326.1h0M94.6 312.8h0M93.9 312.1h0M57.1 317.8h0M57.2 316.8h0M69.1 331.7h0M69.2 332.7h0M64.8 324.9h0M65.1 325.9h0M96.6 350.0h0M96.8 351.0h0M90.5 343.8h0M90.7 342.9h0M92.5 328.3h0M91.5 328.4h0M52.8 313.0h0M52.0 312.3h0M93.4 349.3h0M94.4 349.2h0M58.1 332.5h0M58.2 333.5h0M96.9 344.5h0M97.6 343.8h0M104.1 334.7h0M105.0 334.1h0M80.8 308.6h0M57.2 330.8h0M56.2 330.7h0M71.0 317.6h0M70.7 316.7h0M85.4 310.9h0M84.7 310.2h0M97.8 336.6h0M97.9 335.6h0M86.2 353.8h0M86.4 354.8h0M82.9 309.1h0M90.8 344.4h0M90.0 345.0h0M102.4 321.8h0M102.2 320.8h0M90.5 314.8h0M91.5 314.9h0M99.4 335.5h0M99.2 336.5h0M107.8 336.7h0M107.4 337.7h0M91.3 314.3h0M90.3 314.3h0M65.0 331.9h0M66.0 332.0h0M79.1 316.6h0M78.3 317.1h0M72.8 319.9h0M71.9 319.4h0M74.0 307.1h0M72.8 328.5h0M73.0 329.5h0M93.3 325.8h0M93.4 324.8h0M88.8 344.3h0M89.7 343.9h0M72.7 326.5h0M72.9 325.6h0M74.8 315.7h0M75.6 315.2h0M62.5 327.7h0M61.7 327.1h0M74.1 341.7h0M73.5 340.9h0M87.8 322.8h0M88.5 323.4h0M99.2 339.8h0M100.2 340.0h0M86.0 338.9h0M86.1 337.9h0M78.1 317.8h0M78.9 317.3h0M86.5 333.5h0M87.5 333.7h0M85.5 313.2h0M86.2 313.9h0M67.1 315.3h0M67.2 314.3h0M80.1 343.5h0M79.5 344.4h0M86.4 314.0h0M86.5 313.0h0M97.5 341.4h0M96.5 341.6h0M86.4 319.1h0M87.1 318.4h0M73.6 336.2h0M72.6 336.5h0M79.1 348.1h0M80.1 348.2h0M102.1 326.0h0M101.2 326.4h0M94.8 346.7h0M95.5 346.0h0M80.2 335.1h0M80.6 335.9h0M63.4 316.2h0M64.3 316.6h0M86.7 341.7h0M85.8 342.2h0M103.1 339.4h0M102.4 340.2h0M76.9 320.8h0M76.8 321.8h0M75.1 347.7h0M75.3 348.7h0M51.5 313.9h0M50.6 314.3h0M66.1 319.0h0M65.8 318.0h0M51.2 330.8h0M52.1 330.5h0M49.6 319.1h0M50.0 318.2h0M77.6 326.4h0M78.5 326.9h0M72.8 314.1h0M72.2 313.2h0M60.7 321.9h0M59.8 321.5h0M93.2 326.4h0M92.4 327.0h0M94.4 347.5h0M94.8 346.5h0M62.5 340.0h0M106.9 327.0h0M105.9 327.0h0M84.5 337.5h0M85.4 337.2h0M73.0 341.5h0M73.4 342.4h0M95.3 326.0h0M96.0 326.7h0M63.8 319.4h0M64.0 318.4h0M96.8 319.5h0M97.8 319.4h0M59.3 317.2h0M60.3 317.1h0M75.4 332.0h0M76.1 332.7h0M71.0 318.3h0M72.0 318.5h0M95.8 313.3h0M94.9 313.6h0M80.0 350.9h0M79.5 350.0h0M65.4 331.9h0M64.5 332.3h0M88.4 321.4h0M87.5 321.1h0M61.3 320.7h0M61.7 319.8h0M49.3 314.2h0M50.0 314.9h0M54.9 328.0h0M55.7 327.3h0M68.7 336.5h0M68.1 337.4h0M69.0 323.8h0M70.0 323.6h0M67.4 332.9h0M66.6 333.5h0M98.0 324.7h0M97.4 325.5h0M46.0 322.1h0M46.2 323.1h0M70.8 317.4h0M70.9 318.4h0M81.1 309.9h0M81.3 309.0h0M64.3 315.7h0M63.3 315.9h0M78.3 309.5h0M77.6 308.8h0M87.4 333.5h0M87.2 334.5h0M79.3 307.8h0M78.4 307.4h0M65.8 328.7h0M66.4 327.9h0M96.5 320.6h0M97.0 319.7h0M98.1 319.0h0M98.4 319.9h0M98.6 339.8h0M97.9 339.2h0M75.2 343.7h0M74.2 343.6h0M90.2 354.1h0M77.9 327.7h0M77.3 327.0h0M94.4 323.1h0M93.9 322.2h0M65.0 332.0h0M64.6 331.1h0M66.0 324.3h0M65.3 323.6h0M44.1 319.1h0M45.1 319.1h0M66.4 313.3h0M67.3 312.8h0M83.3 329.6h0M82.3 329.4h0M103.8 340.6h0M104.8 340.9h0M54.8 311.5h0M55.2 312.4h0M99.5 318.1h0M98.8 317.4h0M85.6 329.7h0M86.0 330.6h0M62.3 328.1h0M63.0 328.7h0M87.6 354.7h0M82.0 341.0h0M82.7 340.2h0M77.2 333.8h0M76.3 333.3h0M48.5 316.6h0M48.1 317.6h0M94.5 337.5h0M95.4 337.0h0M62.7 324.6h0M63.6 324.1h0M90.2 353.3h0M90.3 352.3h0M80.0 326.6h0M80.2 327.5h0M83.8 347.5h0M84.5 346.8h0M59.4 321.5h0M58.7 322.3h0M95.4 314.2h0M95.7 313.3h0M66.0 315.6h0M65.0 315.4h0M80.1 321.6h0M81.0 321.9h0M84.8 319.3h0M84.8 320.3h0M67.5 316.7h0M68.5 316.8h0M76.5 323.3h0M76.5 322.3h0M97.3 322.8h0M98.2 322.6h0M86.2 340.8h0M87.1 340.4h0M53.9 314.2h0M53.5 315.1h0M109.6 326.9h0M59.7 335.6h0M60.7 335.3h0M101.5 325.3h0M101.5 324.3h0M59.0 312.0h0M58.0 312.0h0M73.0 344.8h0M72.8 345.8h0M47.9 317.3h0M48.9 316.8h0M87.7 333.7h0M87.4 334.7h0M82.5 324.7h0M81.9 325.5h0M76.0 348.6h0M75.5 347.8h0M57.8 333.8h0M56.8 334.0h0M75.5 348.0h0M76.0 348.9h0M93.0 332.6h0M93.3 331.7h0M82.0 322.2h0M82.1 321.2h0M56.0 316.8h0M56.4 315.9h0M96.4 315.8h0M95.6 315.2h0M93.5 349.3h0M94.5 349.4h0M83.2 346.9h0M83.6 346.0h0M74.3 345.5h0M73.3 345.4h0M56.1 334.3h0M57.1 334.1h0M105.3 345.2h0M106.0 344.5h0M91.6 345.1h0M92.2 345.9h0M104.9 326.5h0M105.8 326.9h0M66.6 316.5h0M66.5 315.5h0M84.2 353.7h0M86.7 319.2h0M87.7 319.3h0M91.4 336.8h0M91.1 335.9h0M79.4 326.7h0M78.8 327.5h0M102.9 338.4h0M103.7 337.8h0M71.3 320.5h0M70.6 319.8h0M86.7 342.3h0M86.0 341.5h0M96.2 335.4h0M97.2 335.7h0M50.9 327.6h0M51.3 328.5h0M101.3 345.9h0M100.8 346.8h0M67.4 325.2h0M67.5 326.1h0M72.8 316.2h0M73.1 317.1h0M77.4 347.9h0M78.4 348.0h0M97.3 311.3h0M81.3 311.8h0M82.1 311.2h0M77.8 317.2h0M77.5 318.1h0M60.1 338.8h0M60.9 338.2h0M92.0 330.5h0M91.8 329.5h0M107.0 325.1h0M106.3 325.7h0M87.3 314.0h0M87.3 315.0h0M105.2 335.8h0M105.8 336.5h0M99.6 314.7h0M99.5 315.7h0M68.4 336.0h0M69.4 336.2h0M102.4 318.1h0M103.3 318.6h0M107.7 322.1h0M107.5 323.1h0M77.3 325.1h0M77.4 324.1h0M77.3 346.7h0M77.6 347.7h0M65.7 311.0h0M65.6 312.0h0M65.3 325.9h0M65.5 324.9h0M81.1 346.3h0M81.8 347.0h0M98.6 345.3h0M97.6 345.2h0M61.5 328.3h0M61.9 329.2h0M84.2 317.3h0M83.2 317.5h0M107.4 328.8h0M108.2 329.4h0M105.3 344.1h0M104.3 344.0h0M69.9 324.7h0M70.5 323.8h0M97.2 348.2h0M96.5 348.9h0M101.6 338.3h0M102.4 337.7h0M52.7 324.7h0M51.7 324.9h0M80.3 338.6h0M81.1 339.1h0M48.4 323.5h0M48.1 324.5h0M89.9 329.9h0M88.9 330.0h0M99.9 345.3h0M100.1 346.3h0M66.2 328.2h0M67.0 327.6h0M49.2 335.0h0M71.0 319.5h0M70.4 318.7h0M58.0 316.3h0M58.8 316.9h0M56.0 333.2h0M55.7 332.3h0M79.8 350.9h0M79.0 350.2h0M80.9 308.5h0M81.7 309.2h0M73.7 346.1h0M73.1 346.8h0M103.2 338.1h0M102.5 338.9h0M62.2 325.6h0M61.6 324.7h0M102.5 337.4h0M103.4 337.0h0M71.0 342.5h0M71.6 341.7h0M84.9 329.8h0M84.8 330.8h0M78.0 310.9h0M77.8 309.9h0M88.0 317.9h0M89.0 318.2h0M45.9 312.2h0M46.9 312.3h0M105.2 335.0h0M104.6 334.2h0M65.0 316.4h0M65.4 317.3h0M92.9 324.5h0M92.3 325.3h0M107.7 333.1h0M106.7 333.1h0M81.6 323.3h0M82.5 323.8h0M107.3 321.5h0M107.0 320.5h0M55.6 318.9h0M55.6 319.9h0M99.8 337.4h0M100.6 338.0h0M86.3 336.5h0M85.6 337.2h0M81.0 326.4h0M80.8 327.4h0M76.4 329.7h0M76.2 330.7h0M82.4 328.5h0M83.1 329.3h0M91.3 315.4h0M90.7 314.6h0M50.6 317.1h0M50.1 316.2h0M81.0 310.6h0M82.0 310.3h0M97.1 317.3h0M97.7 316.5h0M89.3 350.2h0M88.3 350.1h0M101.5 344.6h0M101.3 343.7h0M47.3 321.2h0M47.3 322.2h0M97.1 312.7h0M97.6 313.6h0M94.9 321.1h0M95.3 322.0h0M84.0 311.9h0M83.0 312.1h0M46.8 327.9h0M46.7 326.9h0M108.2 327.4h0M108.6 326.5h0M72.0 335.8h0M72.9 335.5h0M68.1 317.7h0M67.5 318.5h0M81.3 325.2h0M82.0 325.9h0M60.3 330.5h0M61.2 330.9h0M83.4 343.0h0M82.7 342.3h0M57.9 323.3h0M56.9 323.4h0M98.0 346.0h0M97.5 345.2h0M55.9 315.9h0M55.8 316.8h0M59.5 334.0h0M60.2 333.3h0M93.4 322.5h0M94.0 321.7h0M87.1 310.6h0M86.1 310.4h0M44.7 320.6h0M45.3 319.8h0M75.2 332.6h0M75.3 333.6h0M53.4 332.6h0M52.4 332.4h0M90.8 351.4h0M91.8 351.4h0M53.4 328.1h0M53.0 327.2h0M55.0 317.7h0M55.4 318.6h0M93.3 336.0h0M92.7 336.7h0M74.2 323.3h0M74.9 322.5h0M93.4 333.5h0M92.4 333.7h0M95.7 329.6h0M94.8 329.0h0M88.6 317.7h0M87.8 318.2h0M89.8 337.7h0M89.4 338.6h0M63.5 317.1h0M62.5 316.9h0M67.4 323.1h0M67.4 322.1h0M87.3 312.6h0M87.4 311.6h0M67.2 310.5h0M66.9 311.5h0M73.4 323.4h0M74.1 322.6h0M82.0 328.9h0M82.5 328.0h0M84.5 318.8h0M83.7 318.2h0M52.0 335.2h0M51.3 334.5h0M90.2 351.7h0M91.1 352.1h0M99.0 314.3h0M99.2 313.3h0M78.7 328.4h0M78.2 329.3h0M70.6 316.3h0M71.1 315.5h0M108.3 331.5h0M109.1 332.0h0M50.3 332.3h0M50.3 331.3h0M71.6 343.6h0M71.8 344.6h0M70.6 335.6h0M71.1 336.5h0M45.5 314.7h0M46.5 314.5h0M64.2 328.6h0M63.3 329.1h0M98.9 336.4h0M99.7 337.0h0M84.9 341.3h0M84.0 341.0h0M106.7 339.3h0M105.7 339.2h0M44.4 318.3h0M44.1 317.3h0M62.2 340.4h0M63.2 340.3h0M77.7 345.4h0M78.3 344.7h0M59.4 323.1h0M58.4 323.1h0M55.7 314.9h0M55.1 315.7h0M94.4 319.3h0M93.4 318.9h0M66.8 322.0h0M67.4 322.8h0M66.9 320.5h0M66.3 321.3h0M68.9 339.8h0M69.2 338.8h0M98.7 339.8h0M97.7 340.0h0M50.5 311.5h0M49.5 311.5h0M105.9 339.8h0M106.6 339.0h0M80.4 322.9h0M79.8 322.1h0M54.4 331.5h0M55.4 331.3h0M66.7 331.0h0M67.4 331.7h0M63.3 324.0h0M62.9 323.1h0M74.5 314.0h0M74.9 313.1h0M53.8 314.0h0M54.4 314.7h0M105.8 320.1h0M104.8 320.4h0M100.4 316.5h0M100.5 317.5h0M106.3 342.8h0M105.3 343.0h0M82.7 324.0h0M81.9 324.6h0M48.0 311.4h0M47.6 312.3h0M54.2 327.2h0M53.4 327.7h0M89.4 342.0h0M89.5 341.0h0M108.3 338.0h0M107.7 337.2h0M100.8 324.9h0M100.4 324.0h0M82.5 319.5h0M81.8 318.8h0M102.9 329.6h0M103.1 328.6h0M46.4 309.6h0M45.7 310.3h0M79.6 313.2h0M80.3 314.0h0M104.3 340.6h0M105.2 341.0h0M106.0 316.4h0M95.4 335.7h0M95.4 336.7h0M53.2 309.7h0M54.2 309.4h0M79.1 339.8h0M79.5 340.7h0M61.9 324.4h0M61.2 325.1h0M87.9 319.5h0M87.0 319.1h0M52.2 334.8h0M51.6 335.6h0M61.1 338.3h0M60.1 338.6h0M80.0 328.3h0M80.4 327.4h0M46.2 309.9h0M92.7 340.9h0M92.2 341.7h0M81.2 311.4h0M80.2 311.2h0M78.3 328.1h0M77.4 327.6h0M91.1 335.7h0M90.1 335.5h0M86.9 318.9h0M86.4 319.7h0M106.0 327.9h0M105.6 327.0h0M72.3 326.6h0M73.3 326.8h0M68.0 333.5h0M67.7 332.5h0M92.9 316.5h0M93.5 315.7h0M49.8 334.6h0M48.9 334.2h0M88.9 321.9h0M89.1 320.9h0M52.4 334.9h0M53.0 335.7h0M66.7 331.9h0M67.1 332.8h0M85.1 319.0h0M86.1 318.9h0M71.5 334.3h0M72.1 333.5h0M90.8 351.2h0M91.7 351.6h0M80.9 322.2h0M80.2 322.8h0M91.6 337.3h0M92.6 337.3h0M70.7 343.2h0M70.1 342.4h0M106.7 339.4h0M106.4 338.5h0M92.0 348.9h0M91.3 348.2h0M105.5 325.3h0M104.5 325.0h0M74.7 347.4h0M74.4 346.4h0M88.7 337.8h0M88.5 338.7h0M68.2 329.4h0M69.2 329.0h0M106.8 320.8h0M107.4 320.0h0M91.9 328.1h0M90.9 327.9h0M84.1 329.9h0M83.6 330.8h0M54.0 319.9h0M54.7 320.6h0M88.8 343.3h0M89.3 342.4h0M94.7 323.4h0M94.2 324.2h0M91.3 310.9h0M73.0 327.9h0M72.5 328.7h0M75.2 311.9h0M75.0 312.8h0M73.7 308.4h0M72.7 308.6h0M65.5 309.3h0M64.6 308.9h0M58.0 308.8h0M58.4 309.7h0M82.2 327.9h0M82.6 327.0h0M102.4 317.1h0M102.4 318.1h0M94.4 318.4h0M93.4 318.3h0M88.7 335.8h0M87.8 335.2h0M75.1 329.3h0M76.1 329.4h0M86.7 328.8h0M85.8 328.3h0M102.5 333.6h0M102.1 332.6h0M108.7 336.2h0M108.1 337.0h0M63.1 315.9h0M63.9 315.3h0M52.6 325.1h0M53.0 326.0h0M74.7 320.3h0M74.9 319.3h0M86.8 313.6h0M87.7 313.3h0M71.0 312.2h0M70.7 311.2h0M96.3 336.6h0M96.0 335.7h0" stroke="#EE6B60" stroke-width="1.35" stroke-linecap="round"/>
<line x1="15.6" y1="322.2" x2="15.6" y2="353.9" stroke="#444" stroke-width="1.3"/>
<line x1="15" y1="353.2" x2="48" y2="353.2" stroke="#444" stroke-width="1.3"/>
<text x="13.02" y="348.6" font-size="8.8" fill="#333" textLength="21.26" lengthAdjust="spacingAndGlyphs" transform="rotate(-90 13.02 348.6)">tSNE-2</text>
<text x="20.15" y="362.47" font-size="8.8" fill="#333" textLength="22.46" lengthAdjust="spacingAndGlyphs">tSNE-1</text>
<rect x="120.5" y="216.3" width="49" height="49" fill="none" stroke="#111" stroke-width="1.2"/>
<path d="M157.8 224.1h0M158.8 224.3h0M162.0 231.4h0M161.1 231.7h0M137.9 230.2h0M147.5 227.9h0M146.7 227.3h0M140.7 233.2h0M139.7 233.4h0M150.3 231.7h0M147.4 226.1h0M152.7 220.9h0M153.7 221.2h0M143.0 236.7h0M142.8 235.8h0M148.4 223.9h0M147.4 223.9h0M160.8 231.1h0M161.1 230.2h0M156.0 236.6h0M155.0 236.6h0M142.6 227.9h0M141.7 227.6h0M149.8 227.2h0M149.1 226.4h0M155.6 233.9h0M156.5 234.2h0M156.6 225.3h0M156.7 224.3h0M146.1 230.4h0M146.9 231.0h0M142.5 231.2h0M143.4 231.6h0M158.4 225.8h0M157.5 225.3h0M155.4 226.9h0M156.4 226.9h0M143.1 234.2h0M143.5 233.3h0M158.6 223.3h0M159.2 222.5h0M142.7 236.8h0M142.8 235.8h0M146.2 234.0h0M145.2 233.9h0M163.0 231.9h0M162.8 230.9h0M147.9 227.9h0M147.4 228.8h0M159.5 224.0h0M160.4 223.7h0M154.1 220.7h0M141.9 227.9h0M142.1 226.9h0M150.9 229.5h0M150.3 228.8h0M142.7 231.0h0M143.2 231.8h0M151.5 234.7h0M150.6 235.2h0M154.0 236.6h0M153.8 235.7h0M156.2 229.3h0M157.2 229.4h0M142.7 234.8h0M142.1 235.6h0M157.1 229.5h0M158.1 229.7h0M155.5 230.1h0M156.5 230.0h0M164.3 229.3h0M139.9 227.5h0M139.8 226.5h0M139.0 231.7h0M138.0 231.9h0M137.1 234.2h0M136.7 235.1h0M158.7 228.8h0M143.8 231.4h0M143.4 230.5h0M145.0 232.2h0M144.1 231.9h0M143.3 233.5h0M144.0 234.1h0M151.1 227.5h0M150.1 227.4h0M143.5 228.7h0M142.6 228.2h0M149.4 237.8h0M150.3 237.4h0M150.2 228.3h0M150.1 229.2h0M136.1 234.5h0M150.3 225.2h0M149.7 226.0h0M145.0 223.6h0M145.7 224.3h0M144.7 234.0h0M145.5 234.5h0M153.5 233.0h0M152.5 233.4h0M150.5 226.2h0M149.6 225.8h0M149.0 231.7h0M148.5 230.8h0M155.8 232.7h0M154.8 233.0h0M137.5 232.5h0M137.4 233.5h0M143.0 225.0h0M142.7 226.0h0M144.2 227.3h0M144.3 228.3h0M164.0 232.0h0M157.0 225.8h0M157.9 225.3h0M143.3 223.9h0M151.2 229.0h0M151.3 230.0h0M151.8 235.8h0M152.0 234.8h0M152.6 233.6h0M153.4 233.0h0M146.6 234.2h0M146.0 235.0h0M162.5 231.2h0M161.9 232.0h0M142.5 234.4h0M143.5 234.3h0M153.5 227.3h0M152.9 228.0h0M158.5 226.4h0M158.5 225.4h0M153.0 232.4h0M153.9 232.1h0M160.4 221.6h0M148.6 224.6h0M147.7 224.3h0M155.5 228.3h0M154.8 229.0h0M151.0 226.7h0M150.1 227.0h0M146.9 229.8h0M147.9 230.0h0M156.1 237.9h0M155.1 237.9h0M153.0 236.0h0M153.6 235.2h0M139.1 230.4h0M139.6 229.5h0M146.5 232.3h0M147.3 231.7h0M157.3 226.9h0M156.7 227.8h0M153.8 222.7h0M153.1 222.0h0M158.3 233.7h0M158.9 232.9h0M142.6 238.6h0M143.5 238.8h0M145.0 234.2h0M145.1 235.2h0M153.4 222.2h0M154.4 221.9h0M161.7 226.1h0M160.7 226.0h0M135.6 235.8h0M137.4 237.0h0M138.3 236.6h0M150.2 221.2h0M141.9 235.4h0M142.8 235.8h0M148.8 237.9h0M149.6 237.4h0M141.0 232.9h0M140.0 233.1h0M147.3 235.2h0M146.8 236.1h0M162.2 225.8h0M161.5 225.1h0M150.6 221.1h0M149.6 221.2h0M157.3 223.2h0M156.9 227.1h0M156.0 226.7h0M142.6 230.1h0M141.7 230.6h0M155.7 223.6h0M155.8 222.6h0M152.3 237.6h0M151.4 237.3h0M149.3 236.3h0M149.6 235.3h0M152.4 225.9h0M152.8 226.8h0M137.5 232.1h0M138.4 232.6h0M162.2 229.1h0M161.2 229.2h0M141.4 237.2h0M141.0 236.3h0M152.0 237.0h0M151.1 236.8h0M143.8 238.9h0M142.8 239.1h0M152.0 232.3h0M152.6 231.4h0M155.2 225.5h0M155.9 226.3h0M143.2 226.5h0M142.8 227.4h0M154.7 236.1h0M153.7 236.0h0M141.4 235.9h0M142.3 236.3h0M144.9 236.0h0M144.0 236.3h0M158.6 230.6h0M158.6 229.6h0M137.0 232.0h0M149.5 225.3h0M150.3 224.7h0M144.3 224.0h0M145.4 230.0h0M146.1 229.2h0M139.8 236.3h0M139.7 237.3h0M156.9 235.6h0M157.9 235.6h0M153.6 230.0h0M152.6 229.7h0M163.3 227.3h0M162.3 227.4h0M138.6 237.1h0M152.4 228.7h0M151.6 229.4h0M149.5 239.7h0M149.2 238.7h0M158.1 236.9h0M158.1 235.9h0M148.4 225.0h0M147.6 224.4h0M157.2 224.4h0M158.2 224.7h0M141.6 231.9h0M142.6 232.0h0M157.7 229.9h0M158.1 229.0h0M151.7 224.6h0M152.6 224.2h0M150.7 233.7h0M151.7 233.7h0M157.6 227.3h0M157.6 228.3h0M145.8 229.4h0M145.7 230.4h0M150.0 234.0h0M149.6 233.1h0M158.7 228.7h0M159.4 229.4h0M156.8 229.4h0M156.9 230.4h0M157.7 221.0h0M157.7 222.0h0M144.6 227.5h0M145.6 227.4h0M145.5 238.9h0M145.3 238.0h0M146.1 236.9h0M146.6 237.8h0M157.6 231.7h0M157.0 230.9h0M149.3 228.7h0M148.6 229.5h0M158.4 222.4h0M157.4 222.4h0M138.9 232.7h0M139.9 232.3h0M148.8 226.5h0M149.3 227.4h0M158.5 232.8h0M158.4 233.8h0M152.5 220.2h0M161.8 227.5h0M161.3 226.7h0M159.7 228.8h0M159.3 227.8h0M145.2 227.1h0M146.1 226.8h0M145.5 224.9h0M144.8 224.2h0M152.1 224.6h0M151.3 223.9h0M139.4 233.1h0M138.4 233.1h0M154.9 233.9h0M154.3 234.6h0M138.9 233.0h0M139.1 234.0h0M150.2 237.1h0M149.7 237.9h0M154.1 221.1h0M152.0 228.1h0M151.4 228.9h0M155.2 222.5h0M154.5 221.9h0M149.5 222.2h0M160.2 227.2h0M159.7 228.0h0M145.2 225.1h0M145.9 224.3h0M155.0 231.4h0M154.4 232.2h0M159.0 234.1h0M158.1 234.6h0M158.2 227.9h0M159.2 227.9h0M150.9 231.7h0M150.6 232.7h0M161.0 235.7h0M160.8 234.7h0M142.9 228.2h0M143.4 229.0h0M143.5 225.2h0M142.5 224.8h0M155.5 237.1h0M161.4 233.0h0M162.4 232.7h0M137.7 229.8h0M138.7 229.6h0M149.4 231.2h0M149.7 232.1h0M142.3 228.0h0M143.0 228.7h0M139.1 235.0h0M139.9 235.6h0M146.0 230.2h0M156.5 224.6h0M155.5 224.6h0M146.5 230.5h0M146.8 229.5h0M147.2 232.0h0M146.2 232.1h0M145.8 225.8h0M145.8 226.8h0M163.8 229.5h0M147.0 235.6h0M148.0 235.9h0M158.0 231.5h0M161.5 231.6h0M162.3 232.1h0M146.0 238.9h0M146.7 238.2h0M160.0 229.2h0M159.8 228.2h0M143.2 228.2h0M142.7 227.3h0M160.4 225.8h0M161.2 226.3h0M140.6 229.0h0M140.8 229.9h0M139.0 229.4h0M138.6 228.5h0M154.6 234.8h0M155.0 235.8h0M148.1 229.6h0M148.3 230.5h0M142.8 232.1h0M143.0 231.1h0M157.6 231.4h0M158.6 231.6h0M160.3 227.5h0M159.3 227.6h0M153.3 230.6h0M154.0 229.9h0M162.5 224.2h0M162.8 234.6h0M148.2 224.2h0M145.5 224.1h0M144.8 223.5h0M138.9 237.4h0M139.9 237.3h0M143.5 235.8h0M142.7 236.4h0M145.9 225.0h0M154.7 225.3h0M155.7 225.2h0M157.8 229.1h0M156.9 228.6h0M139.1 229.2h0M138.5 228.4h0M142.9 227.5h0M143.0 226.5h0M157.0 234.1h0M157.4 233.1h0M155.1 237.3h0M154.2 236.8h0M162.3 227.2h0M161.5 226.7h0M158.3 221.6h0M157.3 221.4h0M158.9 235.3h0M157.9 235.1h0M156.5 226.1h0M155.6 225.6h0M162.0 230.5h0M161.4 231.3h0M146.2 234.6h0M147.0 234.1h0M137.6 236.3h0M138.2 237.0h0M156.4 228.3h0M155.4 228.0h0M160.0 227.3h0M160.7 226.5h0M148.1 235.2h0M157.4 231.6h0M158.2 232.1h0M154.7 238.2h0M140.1 235.0h0M150.9 223.2h0M150.6 222.3h0M158.6 224.2h0M158.8 225.1h0M163.5 227.2h0M163.2 226.3h0M144.3 227.7h0M143.5 227.0h0M137.3 231.8h0M136.3 231.8h0M140.9 228.9h0M139.9 229.1h0M156.6 229.7h0M156.2 230.6h0M154.1 224.2h0M153.4 223.5h0M152.1 225.3h0M151.2 225.7h0M138.1 230.3h0M138.5 231.3h0M149.8 224.8h0M148.9 225.3h0M151.4 221.9h0M150.6 221.3h0M152.1 226.3h0M151.2 226.8h0M154.3 229.1h0M155.2 229.3h0M138.8 235.7h0M138.8 236.7h0M144.5 236.1h0M145.4 235.8h0M142.5 224.3h0M156.4 231.4h0M155.8 230.6h0M147.2 233.1h0M148.2 233.4h0M148.6 229.1h0M148.9 228.1h0M144.6 238.3h0M143.7 238.8h0M160.2 224.7h0M159.5 223.9h0M151.2 223.6h0M150.8 224.5h0M150.9 225.4h0M151.0 226.4h0M155.5 236.7h0M156.5 236.9h0M149.9 221.1h0M154.0 223.1h0M153.1 223.4h0M148.5 222.2h0M148.0 223.0h0M162.8 234.0h0M162.0 228.2h0M161.0 228.2h0M163.7 226.6h0M163.7 227.6h0M152.7 236.6h0M151.9 236.1h0M159.2 230.7h0M158.2 230.9h0M157.1 234.3h0M156.7 235.2h0M152.5 231.6h0M151.7 231.0h0M147.3 229.7h0M147.1 230.7h0M158.7 231.4h0M159.2 230.5h0M144.0 238.8h0M153.7 220.6h0M153.4 221.2h0M152.4 221.2h0M137.0 232.6h0M136.0 232.4h0M146.3 232.0h0M147.3 232.1h0M142.0 225.6h0M142.9 225.2h0M162.4 229.7h0M161.5 230.1h0M143.8 224.9h0M144.7 225.2h0M145.3 235.0h0M145.8 235.8h0M148.7 226.7h0M149.7 226.9h0M140.0 227.1h0M140.1 228.1h0M156.3 234.7h0M155.6 234.0h0M149.5 227.1h0M150.1 226.3h0M137.9 229.2h0M136.0 232.8h0M144.6 235.0h0M143.7 235.4h0M151.9 222.0h0M150.9 222.3h0M142.2 225.0h0M155.7 233.4h0M155.2 234.2h0M154.3 225.8h0M154.3 226.8h0M153.7 223.2h0M153.3 222.3h0M144.1 239.1h0M143.1 239.0h0M150.4 238.5h0M149.4 238.4h0M151.0 237.4h0M150.8 236.5h0M159.8 232.8h0M158.8 232.6h0M157.3 223.5h0M156.5 223.1h0M161.6 231.9h0M159.2 233.8h0M160.1 233.5h0M162.6 229.8h0M162.2 228.9h0M148.9 228.6h0M148.4 229.5h0M155.8 222.7h0M154.8 222.8h0M141.0 231.8h0M140.3 232.4h0M128.5 227.4h0M128.2 226.4h0M130.1 226.0h0M129.9 222.4h0M131.5 222.8h0M132.4 223.2h0M132.5 225.6h0M130.8 226.1h0M129.8 226.2h0M129.2 225.1h0M130.2 224.6h0M131.6 227.8h0M130.1 225.8h0M131.8 223.5h0M132.7 223.7h0M134.8 223.3h0M133.9 222.8h0M134.5 222.8h0M135.5 222.4h0M132.6 226.9h0M129.1 228.5h0M130.0 226.5h0M129.5 227.3h0M131.9 227.7h0M128.5 225.9h0M129.5 225.6h0M130.3 224.8h0M131.3 224.5h0M135.4 222.6h0M129.8 226.5h0M129.3 225.7h0M133.9 248.1h0M137.3 251.0h0M136.9 250.1h0M145.6 251.3h0M146.5 244.7h0M147.6 252.4h0M148.1 251.6h0M150.1 256.0h0M149.6 255.1h0M138.9 245.7h0M139.9 245.6h0M145.4 253.5h0M144.8 254.3h0M152.5 253.8h0M151.5 253.9h0M151.4 243.1h0M152.1 243.9h0M146.4 242.3h0M146.5 243.3h0M137.5 249.4h0M140.8 242.5h0M144.4 256.6h0M145.4 256.7h0M146.8 255.0h0M147.7 254.6h0M144.2 243.3h0M143.8 244.2h0M134.4 244.8h0M134.9 245.7h0M148.4 258.7h0M148.1 259.7h0M153.8 251.4h0M152.8 251.6h0M136.7 243.4h0M137.7 243.4h0M138.9 253.2h0M149.6 257.5h0M150.5 257.2h0M146.4 252.0h0M145.4 252.0h0M158.9 252.0h0M159.7 251.5h0M142.2 251.7h0M141.3 252.0h0M155.6 246.5h0M139.4 243.5h0M139.9 242.7h0M133.0 251.9h0M132.1 251.5h0M151.6 244.8h0M152.6 244.8h0M152.9 255.9h0M152.0 256.3h0M150.8 243.5h0M150.4 242.6h0M151.2 248.6h0M150.5 247.9h0M139.5 252.8h0M140.5 252.9h0M136.2 244.7h0M136.5 243.8h0M149.1 242.7h0M148.3 243.3h0M138.4 250.9h0M137.5 251.4h0M131.7 250.5h0M132.1 251.5h0M144.2 260.8h0M143.7 259.9h0M143.4 252.1h0M143.9 253.0h0M152.5 243.5h0M151.8 244.1h0M151.6 243.2h0M141.7 245.7h0M141.7 246.7h0M150.2 252.5h0M151.0 252.0h0M140.6 245.3h0M141.4 244.7h0M146.1 246.9h0M145.9 245.9h0M137.5 252.4h0M144.3 247.8h0M144.2 248.8h0M152.1 254.5h0M151.9 253.5h0M137.2 243.6h0M136.6 248.4h0M135.7 248.9h0M156.2 246.7h0M155.4 246.1h0M144.6 250.1h0M143.6 250.2h0M146.5 253.3h0M147.3 253.9h0M155.9 250.0h0M154.9 250.3h0M149.5 243.5h0M148.5 243.6h0M144.9 247.3h0M144.9 246.3h0M143.3 246.7h0M143.8 247.6h0M146.1 250.4h0M145.1 250.6h0M148.6 248.0h0M149.1 248.9h0M140.1 242.7h0M142.4 245.3h0M143.4 245.3h0M145.2 254.3h0M144.7 255.2h0M150.8 259.4h0M151.1 260.3h0M145.4 255.6h0M146.2 256.2h0M132.6 247.8h0M135.3 255.4h0M134.4 255.1h0M131.8 253.0h0M139.9 253.2h0M139.2 252.5h0M134.5 250.7h0M132.9 246.5h0M133.0 245.5h0M146.7 258.4h0M146.3 259.3h0M141.9 251.5h0M142.7 252.2h0M151.5 244.5h0M151.4 243.5h0M149.5 250.3h0M149.7 251.3h0M153.8 255.9h0M153.0 255.4h0M157.2 255.8h0M157.6 249.8h0M158.4 250.4h0M149.2 243.7h0M159.0 247.8h0M159.6 248.6h0M132.8 252.1h0M132.2 251.4h0M139.5 253.1h0M139.5 254.1h0M151.6 249.9h0M151.8 250.8h0M145.8 250.9h0M146.8 250.7h0M136.1 251.0h0M148.2 255.2h0M147.4 255.8h0M156.3 245.4h0M156.8 246.2h0M153.3 243.2h0M151.3 244.9h0M151.9 244.1h0M147.3 252.6h0M148.2 253.0h0M146.7 243.9h0M145.9 243.2h0M155.0 246.6h0M154.0 246.5h0M138.1 244.7h0M137.5 245.6h0M137.3 257.7h0M138.0 257.0h0M154.4 250.6h0M155.3 250.2h0M155.7 249.1h0M156.6 248.7h0M149.6 259.1h0M149.5 260.1h0M153.7 252.3h0M154.4 251.6h0M138.2 255.2h0M138.4 254.2h0M138.7 243.2h0M137.7 243.0h0M155.1 251.7h0M154.6 252.6h0M157.0 247.9h0M156.6 248.8h0M149.0 255.4h0M148.4 254.6h0M138.8 257.6h0M138.3 256.8h0M156.9 256.1h0M157.5 255.3h0M140.6 250.5h0M140.2 251.4h0M141.5 250.6h0M132.2 247.1h0M131.2 247.2h0M154.3 251.9h0M153.8 252.8h0M151.9 254.5h0M151.9 255.5h0M142.5 245.7h0M142.5 246.7h0M154.4 246.7h0M154.6 245.7h0M140.1 259.0h0M139.3 258.4h0M138.1 255.5h0M137.2 256.0h0M154.4 247.3h0M155.1 248.1h0M155.7 245.1h0M156.7 245.0h0M149.9 257.3h0M148.9 257.6h0M138.9 246.7h0M138.1 247.3h0M156.6 257.4h0M155.6 257.3h0M157.2 253.2h0M158.2 253.6h0M140.2 257.9h0M139.6 257.1h0M137.7 247.0h0M138.1 248.0h0M146.7 251.2h0M147.7 251.2h0M149.4 247.7h0M148.6 247.1h0M138.9 248.8h0M138.4 249.6h0M158.4 251.1h0M158.4 252.1h0M158.5 252.2h0M159.3 251.7h0M140.7 253.1h0M141.7 253.0h0M144.6 251.4h0M143.3 255.9h0M144.3 255.9h0M144.3 260.2h0M145.2 260.6h0M148.7 259.6h0M147.9 259.1h0M146.1 243.0h0M146.0 244.0h0M151.5 256.9h0M152.5 256.9h0M152.6 254.2h0M153.1 253.4h0M143.3 248.9h0M144.1 249.6h0M139.9 245.5h0M138.9 245.5h0M153.9 248.9h0M153.0 248.5h0M152.5 252.2h0M152.1 253.1h0M137.8 257.1h0M137.4 256.2h0M157.0 244.9h0M141.5 247.1h0M142.5 247.3h0M144.9 254.9h0M145.9 255.2h0M146.5 257.6h0M147.5 257.9h0M150.8 254.4h0M151.4 255.3h0M155.8 249.8h0M156.7 250.1h0M139.4 245.5h0M139.1 244.5h0M135.3 254.5h0M135.9 253.7h0M148.5 243.7h0M147.5 243.7h0M147.3 253.7h0M147.2 252.7h0M149.9 255.3h0M149.2 254.6h0M146.9 246.8h0M145.9 246.5h0M144.9 250.7h0M144.8 251.7h0M141.7 248.9h0M141.5 248.0h0M131.2 249.1h0M132.1 249.5h0M138.8 259.0h0M138.4 258.1h0M154.2 253.8h0M154.6 252.9h0M155.8 247.2h0M154.8 247.3h0M158.3 246.7h0M157.3 246.8h0M148.1 246.1h0M147.1 246.2h0M157.8 247.3h0M158.6 248.0h0M139.0 253.6h0M138.3 253.0h0M158.6 251.3h0M159.0 252.2h0M145.9 247.7h0M145.8 246.8h0M139.3 254.2h0M140.3 254.3h0M153.4 244.9h0M153.9 245.8h0M143.6 251.6h0M144.2 252.4h0M149.2 246.6h0M148.5 247.3h0M152.4 247.5h0M152.8 248.4h0M134.7 245.6h0M134.5 244.6h0M151.6 243.9h0M150.6 244.1h0M151.5 249.2h0M151.8 250.2h0M138.1 254.3h0M137.6 255.2h0M150.8 258.6h0M150.1 257.9h0M147.3 245.1h0M147.6 246.1h0M147.6 258.4h0M148.0 257.5h0M155.2 248.1h0M154.5 247.4h0M151.6 256.5h0M151.0 255.8h0M156.1 256.8h0M156.3 255.8h0M142.6 248.8h0M143.1 248.0h0M149.7 259.3h0M149.0 260.0h0M145.4 248.2h0M144.4 248.0h0M133.4 253.5h0M133.3 254.5h0M150.7 258.9h0M150.9 257.9h0M136.2 250.2h0M137.0 250.8h0M150.6 244.8h0M151.1 244.0h0M144.0 259.1h0M143.1 259.6h0M151.9 255.3h0M152.3 254.3h0M141.9 255.9h0M142.0 256.9h0M158.7 247.9h0M157.9 248.5h0M158.1 252.0h0M150.0 256.5h0M149.9 255.6h0M139.6 255.9h0M140.0 256.8h0M146.1 248.0h0M146.9 248.6h0M156.4 244.8h0M148.6 248.0h0M147.9 248.7h0M153.6 244.1h0M154.1 245.0h0M143.8 244.5h0M144.8 244.2h0M140.1 249.8h0M141.0 250.4h0M146.9 243.5h0M147.5 242.6h0M153.0 257.9h0M153.1 258.9h0M136.0 254.6h0M136.9 254.9h0M142.4 255.0h0M141.5 254.6h0M147.9 260.4h0M147.8 259.4h0M153.1 255.6h0M152.8 256.6h0M147.8 245.5h0M146.9 245.0h0M146.2 258.4h0M146.6 257.5h0M142.7 260.1h0M145.9 252.8h0M145.3 253.6h0M152.4 250.1h0M151.5 250.2h0M139.1 257.0h0M138.4 256.3h0M144.9 254.3h0M143.9 254.2h0M146.8 257.2h0M146.7 246.0h0M146.4 245.0h0M144.8 253.2h0M144.8 254.2h0M153.8 255.1h0M154.3 254.2h0M151.6 257.9h0M151.1 258.8h0M151.8 249.5h0M151.7 248.5h0M155.0 255.9h0M155.0 256.9h0M152.3 251.2h0M152.6 250.2h0M145.6 252.2h0M145.0 252.9h0M153.9 250.1h0M152.9 250.3h0M155.5 248.8h0M142.5 245.5h0M147.3 248.3h0M146.3 248.4h0M144.8 249.2h0M144.7 250.2h0M131.7 252.4h0M131.1 251.7h0M142.1 255.2h0M141.3 254.6h0M146.4 261.0h0M145.4 261.3h0M132.4 249.4h0M132.0 248.4h0M133.6 254.4h0M133.6 253.4h0M148.4 248.7h0M149.3 248.5h0M134.9 251.6h0M134.4 250.7h0M150.8 249.0h0M151.1 250.0h0M155.3 249.5h0M155.1 250.4h0M134.2 255.1h0M157.3 246.3h0M154.1 243.6h0M154.4 244.5h0M139.4 251.3h0M138.4 251.2h0M146.3 259.4h0M147.3 259.1h0M157.1 252.6h0M157.9 252.1h0M147.1 249.6h0M147.8 248.9h0M146.5 246.8h0M146.0 247.6h0M155.5 248.7h0M154.5 248.6h0M150.6 256.5h0M149.6 256.9h0M144.8 249.9h0M145.6 250.5h0M150.1 254.9h0M150.9 255.5h0M144.4 242.6h0M145.4 242.8h0M134.2 255.6h0M140.5 249.3h0M139.6 249.8h0M148.6 259.5h0M147.7 260.0h0M155.3 256.1h0M156.1 256.8h0M140.7 251.0h0M141.5 250.4h0M151.0 250.7h0M151.1 251.7h0M137.9 244.2h0M138.9 244.3h0M152.7 246.2h0M151.9 246.8h0M139.5 245.4h0M139.3 244.4h0M141.9 254.3h0M142.4 253.5h0M145.5 248.3h0M145.6 247.3h0M154.9 250.9h0M135.6 254.1h0M136.5 253.8h0M140.8 259.7h0M141.8 259.8h0M139.6 251.2h0M139.5 250.2h0M157.9 251.1h0M157.1 250.5h0M156.2 248.0h0M155.3 247.6h0M142.9 251.6h0M141.9 251.6h0M142.1 243.2h0M141.8 244.1h0M152.0 252.6h0M151.4 251.8h0M144.5 252.2h0M134.6 253.4h0M134.1 252.6h0M154.1 259.0h0M153.4 258.3h0M141.8 248.8h0M142.1 247.9h0M135.2 249.6h0M135.3 250.6h0M147.1 252.3h0M151.9 248.6h0M152.6 249.3h0M131.8 253.3h0M147.9 251.4h0M148.9 251.6h0M139.6 253.8h0M138.7 254.2h0M140.5 252.5h0M141.4 253.0h0M135.9 252.3h0M135.3 251.6h0M140.2 254.8h0M139.2 254.4h0M141.4 244.7h0M140.7 245.4h0M155.3 256.7h0M156.2 256.4h0M153.5 255.0h0M154.5 254.8h0M142.2 243.2h0M141.8 244.2h0M141.8 256.6h0M141.2 255.9h0M133.5 245.7h0M133.9 246.6h0M145.5 255.8h0M154.6 250.5h0M153.8 249.8h0M145.0 251.9h0M145.6 252.8h0M134.1 249.3h0M135.1 249.1h0M153.8 258.8h0M154.7 258.5h0M136.3 252.1h0M137.3 252.1h0M148.0 254.6h0M148.0 253.6h0M155.8 251.9h0M155.3 251.0h0M145.3 256.5h0M145.6 257.5h0M139.9 255.7h0M140.1 256.6h0M146.2 252.8h0M146.7 253.7h0M147.7 250.1h0M147.1 249.2h0M154.9 254.3h0M154.6 255.2h0" stroke="#178A8C" stroke-width="1.1" stroke-linecap="round"/>
<path d="M123.4 239.2h0M126.5 240.1h0M126.1 241.1h0M125.8 238.9h0M124.8 239.3h0M126.4 237.8h0M125.4 237.8h0M126.5 239.4h0M127.3 240.0h0M125.9 239.3h0M125.6 238.3h0M127.1 238.8h0M127.6 239.7h0M127.4 239.0h0M126.5 239.3h0M124.9 239.5h0M124.6 240.5h0M123.8 238.1h0M123.3 239.9h0M125.3 239.9h0M126.1 240.5h0M124.1 238.2h0M124.5 237.3h0M123.8 239.1h0M124.1 238.1h0M125.4 236.9h0M125.3 237.9h0M149.5 232.3h0M146.7 225.3h0M157.7 228.7h0M158.3 223.1h0M149.1 223.1h0M155.6 238.1h0M146.6 230.9h0M158.7 232.2h0M148.4 225.1h0M146.1 225.9h0M148.1 234.2h0M139.8 235.9h0M154.1 221.5h0M161.1 232.7h0M129.7 227.0h0M131.7 226.2h0M131.5 226.8h0M130.7 225.0h0M134.8 248.5h0M146.1 250.5h0M145.9 243.9h0M138.4 249.0h0M138.8 254.2h0M156.6 246.5h0M136.5 252.1h0M158.0 245.8h0M132.3 246.8h0M134.8 251.7h0M157.8 255.0h0M149.6 242.8h0M135.2 251.5h0M140.5 250.3h0M145.3 252.2h0M159.0 251.7h0M143.6 259.5h0M146.1 256.5h0M156.3 249.5h0M141.5 245.5h0M154.8 249.9h0M145.0 251.3h0M146.4 253.0h0M144.6 256.1h0" stroke="#E2288C" stroke-width="1.1" stroke-linecap="round"/>
<text x="205.55" y="228.08" font-size="11.2" fill="#000" font-weight="bold" textLength="9.11" lengthAdjust="spacingAndGlyphs" stroke="#000" stroke-width="0.35">D</text>
<text x="363.05" y="235.88" font-size="7.32" fill="#333" textLength="36.86" lengthAdjust="spacingAndGlyphs">Subcluster</text>
<rect x="405.2" y="231.4" width="6" height="6" fill="#C8202F" stroke="#1a1a1a" stroke-width="0.9"/>
<text x="412.9" y="237.25" font-size="7.89" fill="#333" textLength="4.85" lengthAdjust="spacingAndGlyphs">A</text>
<rect x="424.7" y="231.4" width="6" height="6" fill="#165A8E" stroke="#1a1a1a" stroke-width="0.9"/>
<text x="432.4" y="237.25" font-size="7.89" fill="#333" textLength="4.85" lengthAdjust="spacingAndGlyphs">B</text>
<rect x="443.45" y="231.4" width="6" height="6" fill="#45BB4A" stroke="#1a1a1a" stroke-width="0.9"/>
<text x="451.15" y="237.25" font-size="7.89" fill="#333" textLength="5.25" lengthAdjust="spacingAndGlyphs">C</text>
<rect x="462.7" y="231.4" width="6" height="6" fill="#5E2570" stroke="#1a1a1a" stroke-width="0.9"/>
<text x="470.4" y="237.25" font-size="7.89" fill="#333" textLength="5.25" lengthAdjust="spacingAndGlyphs">D</text>
<rect x="481.45" y="231.4" width="6" height="6" fill="#F7941D" stroke="#1a1a1a" stroke-width="0.9"/>
<text x="489.15" y="237.25" font-size="7.89" fill="#333" textLength="4.85" lengthAdjust="spacingAndGlyphs">E</text>
<text x="238.37" y="248.7" font-size="7.0" fill="#222" text-anchor="end" font-weight="bold" textLength="21.39" lengthAdjust="spacingAndGlyphs">100%</text>
<text x="238.55" y="268.37" font-size="7.0" fill="#222" text-anchor="end" font-weight="bold" textLength="16.85" lengthAdjust="spacingAndGlyphs">75%</text>
<text x="238.55" y="289.2" font-size="7.0" fill="#222" text-anchor="end" font-weight="bold" textLength="16.85" lengthAdjust="spacingAndGlyphs">50%</text>
<text x="238.55" y="309.2" font-size="7.0" fill="#222" text-anchor="end" font-weight="bold" textLength="16.85" lengthAdjust="spacingAndGlyphs">25%</text>
<text x="238.55" y="329.2" font-size="7.0" fill="#222" text-anchor="end" font-weight="bold" textLength="12.17" lengthAdjust="spacingAndGlyphs">0%</text>
<line x1="239.6" y1="245.5" x2="243.6" y2="245.5" stroke="#222" stroke-width="1.2"/>
<line x1="239.6" y1="265.5" x2="243.6" y2="265.5" stroke="#222" stroke-width="1.2"/>
<line x1="239.6" y1="285.5" x2="243.6" y2="285.5" stroke="#222" stroke-width="1.2"/>
<line x1="239.6" y1="305.5" x2="243.6" y2="305.5" stroke="#222" stroke-width="1.2"/>
<line x1="239.6" y1="325.5" x2="243.6" y2="325.5" stroke="#222" stroke-width="1.2"/>
<text x="217.68" y="283.95" font-size="9.0" fill="#555" text-anchor="middle" textLength="45.76" lengthAdjust="spacingAndGlyphs" transform="rotate(-90 217.68 283.95)">% of malignant</text>
<line x1="282.5" y1="245" x2="282.5" y2="326" stroke="#555" stroke-width="1" stroke-dasharray="3 1.8"/>
<line x1="325" y1="245" x2="325" y2="326" stroke="#555" stroke-width="1" stroke-dasharray="3 1.8"/>
<line x1="367" y1="245" x2="367" y2="326" stroke="#555" stroke-width="1" stroke-dasharray="3 1.8"/>
<line x1="409.5" y1="245" x2="409.5" y2="326" stroke="#555" stroke-width="1" stroke-dasharray="3 1.8"/>
<line x1="452" y1="245" x2="452" y2="326" stroke="#555" stroke-width="1" stroke-dasharray="3 1.8"/>
<line x1="476.25" y1="245" x2="476.25" y2="326" stroke="#555" stroke-width="1" stroke-dasharray="3 1.8"/>
<rect x="244.5" y="245.5" width="16" height="39.00" fill="#C8202F" stroke="#222" stroke-width="0.6"/>
<rect x="244.5" y="284.5" width="16" height="34.75" fill="#165A8E" stroke="#222" stroke-width="0.6"/>
<rect x="244.5" y="319.25" width="16" height="6.25" fill="#45BB4A" stroke="#222" stroke-width="0.6"/>
<rect x="262" y="245.5" width="16" height="3.25" fill="#C8202F" stroke="#222" stroke-width="0.6"/>
<rect x="262" y="248.75" width="16" height="7.50" fill="#165A8E" stroke="#222" stroke-width="0.6"/>
<rect x="262" y="256.25" width="16" height="2.50" fill="#45BB4A" stroke="#222" stroke-width="0.6"/>
<rect x="262" y="258.75" width="16" height="66.75" fill="#5E2570" stroke="#222" stroke-width="0.6"/>
<rect x="286.7" y="245.5" width="16" height="43.75" fill="#C8202F" stroke="#222" stroke-width="0.6"/>
<rect x="286.7" y="289.25" width="16" height="23.00" fill="#165A8E" stroke="#222" stroke-width="0.6"/>
<rect x="286.7" y="312.25" width="16" height="8.75" fill="#45BB4A" stroke="#222" stroke-width="0.6"/>
<rect x="286.7" y="321" width="16" height="4.50" fill="#5E2570" stroke="#222" stroke-width="0.6"/>
<rect x="304.2" y="245.5" width="16" height="15.00" fill="#C8202F" stroke="#222" stroke-width="0.6"/>
<rect x="304.2" y="260.5" width="16" height="56.25" fill="#165A8E" stroke="#222" stroke-width="0.6"/>
<rect x="304.2" y="316.75" width="16" height="6.25" fill="#45BB4A" stroke="#222" stroke-width="0.6"/>
<rect x="304.2" y="323" width="16" height="2.50" fill="#5E2570" stroke="#222" stroke-width="0.6"/>
<rect x="328.9" y="245.5" width="16" height="32.00" fill="#C8202F" stroke="#222" stroke-width="0.6"/>
<rect x="328.9" y="277.5" width="16" height="28.75" fill="#165A8E" stroke="#222" stroke-width="0.6"/>
<rect x="328.9" y="306.25" width="16" height="14.25" fill="#45BB4A" stroke="#222" stroke-width="0.6"/>
<rect x="328.9" y="320.5" width="16" height="2.50" fill="#5E2570" stroke="#222" stroke-width="0.6"/>
<rect x="328.9" y="323" width="16" height="2.50" fill="#F7941D" stroke="#222" stroke-width="0.6"/>
<rect x="346.4" y="245.5" width="16" height="3.25" fill="#45BB4A" stroke="#222" stroke-width="0.6"/>
<rect x="346.4" y="248.75" width="16" height="66.75" fill="#5E2570" stroke="#222" stroke-width="0.6"/>
<rect x="346.4" y="315.5" width="16" height="10.00" fill="#F7941D" stroke="#222" stroke-width="0.6"/>
<rect x="371.1" y="245.5" width="16" height="65.00" fill="#C8202F" stroke="#222" stroke-width="0.6"/>
<rect x="371.1" y="310.5" width="16" height="13.75" fill="#45BB4A" stroke="#222" stroke-width="0.6"/>
<rect x="371.1" y="324.25" width="16" height="1.25" fill="#5E2570" stroke="#222" stroke-width="0.6"/>
<rect x="388.6" y="245.5" width="16" height="1.50" fill="#C8202F" stroke="#222" stroke-width="0.6"/>
<rect x="388.6" y="247" width="16" height="64.75" fill="#165A8E" stroke="#222" stroke-width="0.6"/>
<rect x="388.6" y="311.75" width="16" height="13.75" fill="#5E2570" stroke="#222" stroke-width="0.6"/>
<rect x="413.3" y="245.5" width="16" height="42.50" fill="#C8202F" stroke="#222" stroke-width="0.6"/>
<rect x="413.3" y="288" width="16" height="34.50" fill="#165A8E" stroke="#222" stroke-width="0.6"/>
<rect x="413.3" y="322.5" width="16" height="2.25" fill="#45BB4A" stroke="#222" stroke-width="0.6"/>
<rect x="413.3" y="324.75" width="16" height="0.75" fill="#5E2570" stroke="#222" stroke-width="0.6"/>
<rect x="430.8" y="245.5" width="16" height="3.25" fill="#C8202F" stroke="#222" stroke-width="0.6"/>
<rect x="430.8" y="248.75" width="16" height="76.75" fill="#5E2570" stroke="#222" stroke-width="0.6"/>
<rect x="455.5" y="245.5" width="16" height="57.50" fill="#C8202F" stroke="#222" stroke-width="0.6"/>
<rect x="455.5" y="303" width="16" height="14.25" fill="#165A8E" stroke="#222" stroke-width="0.6"/>
<rect x="455.5" y="317.25" width="16" height="8.25" fill="#45BB4A" stroke="#222" stroke-width="0.6"/>
<rect x="480" y="245.5" width="16" height="25.75" fill="#C8202F" stroke="#222" stroke-width="0.6"/>
<rect x="480" y="271.25" width="16" height="23.50" fill="#165A8E" stroke="#222" stroke-width="0.6"/>
<rect x="480" y="294.75" width="16" height="17.00" fill="#45BB4A" stroke="#222" stroke-width="0.6"/>
<rect x="480" y="311.75" width="16" height="13.75" fill="#5E2570" stroke="#222" stroke-width="0.6"/>
<line x1="242" y1="326.2" x2="496" y2="326.2" stroke="#222" stroke-width="1.2"/>
<text x="256.15" y="336.88" font-size="8.2" fill="#5A2A78" font-weight="bold" textLength="5.43" lengthAdjust="spacingAndGlyphs" transform="rotate(-90 256.15 336.88)">B</text>
<text x="298.35" y="336.88" font-size="8.2" fill="#5A2A78" font-weight="bold" textLength="5.43" lengthAdjust="spacingAndGlyphs" transform="rotate(-90 298.35 336.88)">B</text>
<text x="340.55" y="336.88" font-size="8.2" fill="#5A2A78" font-weight="bold" textLength="5.43" lengthAdjust="spacingAndGlyphs" transform="rotate(-90 340.55 336.88)">B</text>
<text x="382.75" y="336.88" font-size="8.2" fill="#5A2A78" font-weight="bold" textLength="5.43" lengthAdjust="spacingAndGlyphs" transform="rotate(-90 382.75 336.88)">B</text>
<text x="424.95" y="336.88" font-size="8.2" fill="#5A2A78" font-weight="bold" textLength="5.43" lengthAdjust="spacingAndGlyphs" transform="rotate(-90 424.95 336.88)">B</text>
<text x="467.15" y="336.88" font-size="8.2" fill="#5A2A78" font-weight="bold" textLength="5.43" lengthAdjust="spacingAndGlyphs" transform="rotate(-90 467.15 336.88)">B</text>
<text x="491.65" y="336.88" font-size="8.2" fill="#5A2A78" font-weight="bold" textLength="5.43" lengthAdjust="spacingAndGlyphs" transform="rotate(-90 491.65 336.88)">B</text>
<text x="266.2" y="341.92" font-size="8.7" fill="#333" text-anchor="end" textLength="12.57" lengthAdjust="spacingAndGlyphs" transform="rotate(-90 266.2 341.92)">SS1</text>
<text x="308.35" y="341.92" font-size="8.7" fill="#333" text-anchor="end" textLength="12.57" lengthAdjust="spacingAndGlyphs" transform="rotate(-90 308.35 341.92)">SS2</text>
<text x="350.65" y="341.92" font-size="8.7" fill="#333" text-anchor="end" textLength="12.57" lengthAdjust="spacingAndGlyphs" transform="rotate(-90 350.65 341.92)">SS3</text>
<text x="393.35" y="341.92" font-size="8.7" fill="#333" text-anchor="end" textLength="12.57" lengthAdjust="spacingAndGlyphs" transform="rotate(-90 393.35 341.92)">SS4</text>
<text x="435.45" y="341.92" font-size="8.7" fill="#333" text-anchor="end" textLength="19.58" lengthAdjust="spacingAndGlyphs" transform="rotate(-90 435.45 341.92)">MFIV1</text>
<text x="466.95" y="341.92" font-size="8.7" fill="#333" text-anchor="end" textLength="12.57" lengthAdjust="spacingAndGlyphs" transform="rotate(-90 466.95 341.92)">SS5</text>
<text x="490.45" y="341.92" font-size="8.7" fill="#333" text-anchor="end" textLength="12.57" lengthAdjust="spacingAndGlyphs" transform="rotate(-90 490.45 341.92)">SS6</text>
<rect x="0" y="0" width="520" height="1" fill="#000"/>
<rect x="0" y="0" width="1" height="370" fill="#000"/>
<rect x="518.7" y="0" width="1.3" height="370" fill="#000"/>
<rect x="0" y="368.4" width="520" height="1.6" fill="#000"/>
</svg></body></html>
